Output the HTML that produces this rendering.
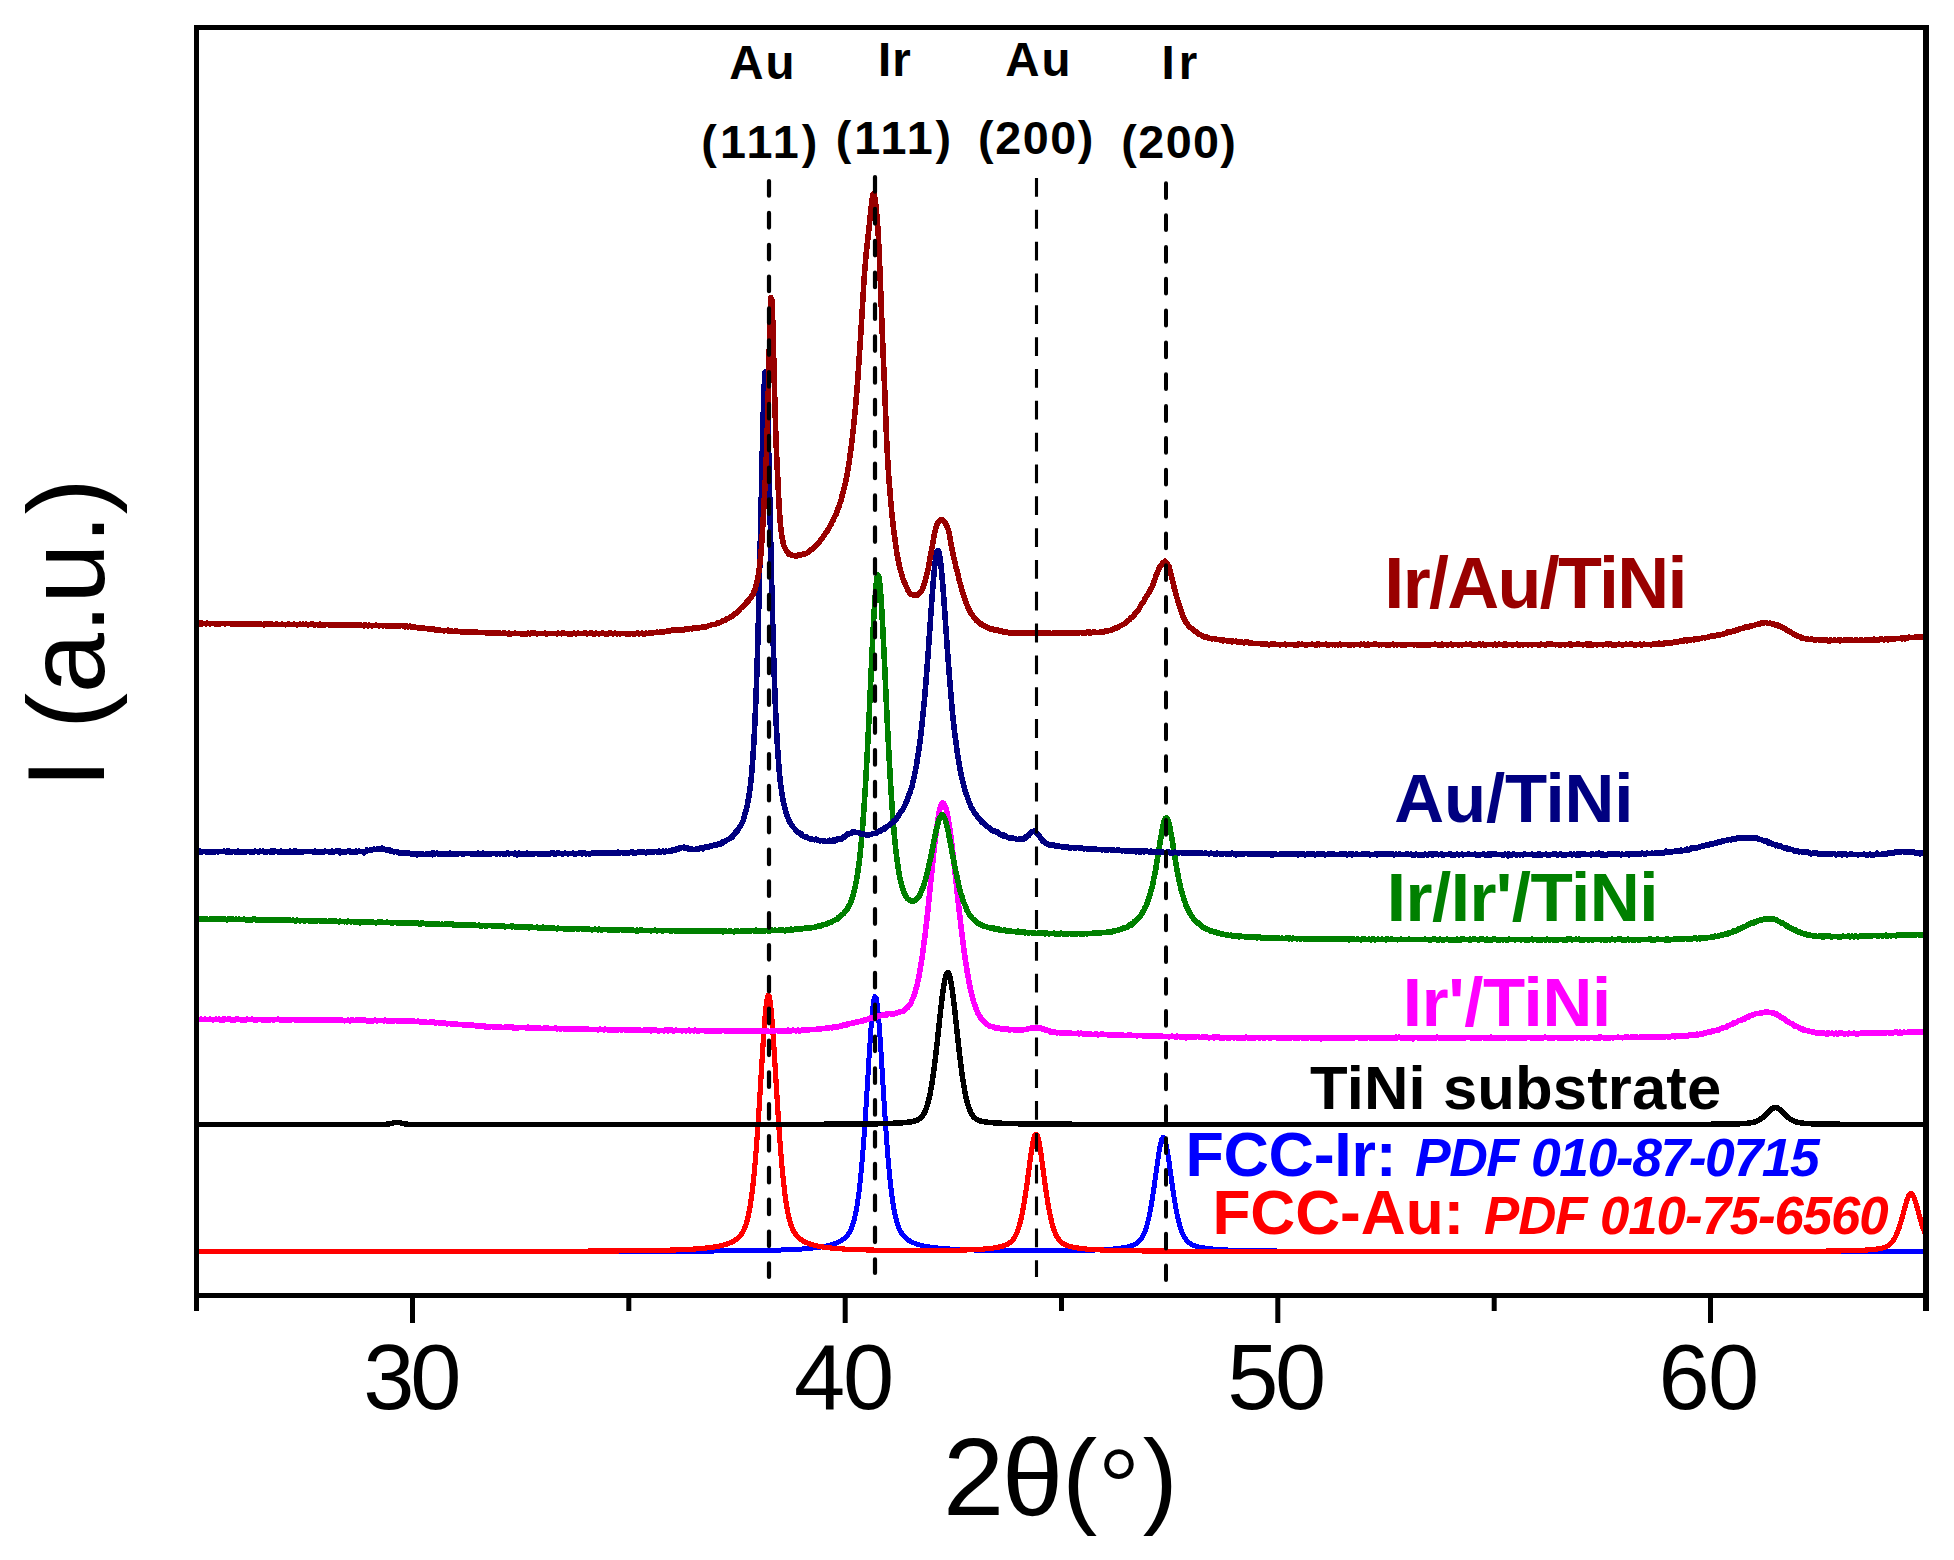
<!DOCTYPE html>
<html lang="en">
<head>
<meta charset="utf-8">
<title>XRD patterns</title>
<style>
html,body{margin:0;padding:0;background:#fff;}
body{width:1954px;height:1560px;overflow:hidden;}
svg{display:block;}
</style>
</head>
<body>
<svg width="1954" height="1560" viewBox="0 0 1954 1560" role="img" aria-label="XRD patterns">
<rect x="0" y="0" width="1954" height="1560" fill="#ffffff"/>
<g fill="none" stroke-linejoin="round" stroke-linecap="butt" shape-rendering="crispEdges">
<polyline stroke="#0000ff" stroke-width="5.0" points="612.0,1251.3 613.0,1251.3 614.0,1251.3 615.0,1251.3 616.0,1251.3 617.0,1251.3 618.0,1251.3 619.0,1251.3 620.0,1251.3 621.0,1251.3 622.0,1251.3 623.0,1251.3 624.0,1251.3 625.0,1251.3 626.0,1251.3 627.0,1251.3 628.0,1251.3 629.0,1251.3 630.0,1251.3 631.0,1251.3 632.0,1251.3 633.0,1251.2 634.0,1251.2 635.0,1251.2 636.0,1251.2 637.0,1251.2 638.0,1251.2 639.0,1251.2 640.0,1251.2 641.0,1251.2 642.0,1251.2 643.0,1251.2 644.0,1251.2 645.0,1251.2 646.0,1251.2 647.0,1251.2 648.0,1251.2 649.0,1251.2 650.0,1251.2 651.0,1251.2 652.0,1251.2 653.0,1251.2 654.0,1251.2 655.0,1251.2 656.0,1251.2 657.0,1251.2 658.0,1251.2 659.0,1251.2 660.0,1251.2 661.0,1251.2 662.0,1251.2 663.0,1251.2 664.0,1251.2 665.0,1251.2 666.0,1251.2 667.0,1251.2 668.0,1251.2 669.0,1251.2 670.0,1251.2 671.0,1251.2 672.0,1251.1 673.0,1251.1 674.0,1251.1 675.0,1251.1 676.0,1251.1 677.0,1251.1 678.0,1251.1 679.0,1251.1 680.0,1251.1 681.0,1251.1 682.0,1251.1 683.0,1251.1 684.0,1251.1 685.0,1251.1 686.0,1251.1 687.0,1251.1 688.0,1251.1 689.0,1251.1 690.0,1251.1 691.0,1251.1 692.0,1251.1 693.0,1251.1 694.0,1251.1 695.0,1251.1 696.0,1251.1 697.0,1251.0 698.0,1251.0 699.0,1251.0 700.0,1251.0 701.0,1251.0 702.0,1251.0 703.0,1251.0 704.0,1251.0 705.0,1251.0 706.0,1251.0 707.0,1251.0 708.0,1251.0 709.0,1251.0 710.0,1251.0 711.0,1251.0 712.0,1251.0 713.0,1251.0 714.0,1251.0 715.0,1250.9 716.0,1250.9 717.0,1250.9 718.0,1250.9 719.0,1250.9 720.0,1250.9 721.0,1250.9 722.0,1250.9 723.0,1250.9 724.0,1250.9 725.0,1250.9 726.0,1250.9 727.0,1250.9 728.0,1250.8 729.0,1250.8 730.0,1250.8 731.0,1250.8 732.0,1250.8 733.0,1250.8 734.0,1250.8 735.0,1250.8 736.0,1250.8 737.0,1250.8 738.0,1250.8 739.0,1250.7 740.0,1250.7 741.0,1250.7 742.0,1250.7 743.0,1250.7 744.0,1250.7 745.0,1250.7 746.0,1250.7 747.0,1250.6 748.0,1250.6 749.0,1250.6 750.0,1250.6 751.0,1250.6 752.0,1250.6 753.0,1250.6 754.0,1250.5 755.0,1250.5 756.0,1250.5 757.0,1250.5 758.0,1250.5 759.0,1250.5 760.0,1250.5 761.0,1250.4 762.0,1250.4 763.0,1250.4 764.0,1250.4 765.0,1250.4 766.0,1250.3 767.0,1250.3 768.0,1250.3 769.0,1250.3 770.0,1250.3 771.0,1250.2 772.0,1250.2 773.0,1250.2 774.0,1250.2 775.0,1250.1 776.0,1250.1 777.0,1250.1 778.0,1250.0 779.0,1250.0 780.0,1250.0 781.0,1250.0 782.0,1249.9 783.0,1249.9 784.0,1249.9 785.0,1249.8 786.0,1249.8 787.0,1249.7 788.0,1249.7 789.0,1249.7 790.0,1249.6 791.0,1249.6 792.0,1249.5 793.0,1249.5 794.0,1249.4 795.0,1249.4 796.0,1249.3 797.0,1249.3 798.0,1249.2 799.0,1249.2 800.0,1249.1 801.0,1249.0 802.0,1249.0 803.0,1248.9 804.0,1248.8 805.0,1248.8 806.0,1248.7 807.0,1248.6 808.0,1248.5 809.0,1248.4 810.0,1248.3 811.0,1248.3 812.0,1248.2 813.0,1248.0 814.0,1247.9 815.0,1247.8 816.0,1247.7 817.0,1247.6 818.0,1247.4 819.0,1247.3 820.0,1247.2 821.0,1247.0 822.0,1246.8 823.0,1246.7 824.0,1246.5 825.0,1246.3 826.0,1246.1 827.0,1245.9 828.0,1245.7 829.0,1245.4 830.0,1245.2 831.0,1244.9 832.0,1244.6 833.0,1244.3 834.0,1243.9 835.0,1243.6 836.0,1243.2 837.0,1242.8 838.0,1242.3 839.0,1241.9 840.0,1241.3 841.0,1240.8 842.0,1240.2 843.0,1239.5 844.0,1238.7 845.0,1237.8 846.0,1236.8 847.0,1235.7 848.0,1234.4 849.0,1232.9 850.0,1231.2 851.0,1229.1 852.0,1226.7 853.0,1223.8 854.0,1220.3 855.0,1216.3 856.0,1211.5 857.0,1205.9 858.0,1199.3 859.0,1191.8 860.0,1183.1 861.0,1173.3 862.0,1162.3 863.0,1150.2 864.0,1136.8 865.0,1122.5 866.0,1107.2 867.0,1091.2 868.0,1074.9 869.0,1058.7 870.0,1043.0 871.0,1028.5 872.0,1015.9 873.0,1006.0 874.0,999.3 875.0,996.5 876.0,997.7 877.0,1002.9 878.0,1011.6 879.0,1023.2 880.0,1037.0 881.0,1052.3 882.0,1068.4 883.0,1084.7 884.0,1100.8 885.0,1116.4 886.0,1131.2 887.0,1144.9 888.0,1157.6 889.0,1169.1 890.0,1179.3 891.0,1188.4 892.0,1196.4 893.0,1203.3 894.0,1209.3 895.0,1214.4 896.0,1218.8 897.0,1222.4 898.0,1225.5 899.0,1228.2 900.0,1230.4 901.0,1232.2 902.0,1233.8 903.0,1235.2 904.0,1236.4 905.0,1237.4 906.0,1238.3 907.0,1239.1 908.0,1239.9 909.0,1240.5 910.0,1241.1 911.0,1241.6 912.0,1242.1 913.0,1242.6 914.0,1243.0 915.0,1243.4 916.0,1243.8 917.0,1244.1 918.0,1244.4 919.0,1244.7 920.0,1245.0 921.0,1245.3 922.0,1245.5 923.0,1245.7 924.0,1246.0 925.0,1246.2 926.0,1246.4 927.0,1246.5 928.0,1246.7 929.0,1246.9 930.0,1247.0 931.0,1247.2 932.0,1247.3 933.0,1247.5 934.0,1247.6 935.0,1247.7 936.0,1247.8 937.0,1247.9 938.0,1248.0 939.0,1248.1 940.0,1248.2 941.0,1248.3 942.0,1248.4 943.0,1248.5 944.0,1248.6 945.0,1248.7 946.0,1248.7 947.0,1248.8 948.0,1248.9 949.0,1248.9 950.0,1249.0 951.0,1249.1 952.0,1249.1 953.0,1249.2 954.0,1249.2 955.0,1249.3 956.0,1249.3 957.0,1249.4 958.0,1249.4 959.0,1249.5 960.0,1249.5 961.0,1249.5 962.0,1249.6 963.0,1249.6 964.0,1249.7 965.0,1249.7 966.0,1249.7 967.0,1249.8 968.0,1249.8 969.0,1249.8 970.0,1249.9 971.0,1249.9 972.0,1249.9 973.0,1249.9 974.0,1250.0 975.0,1250.0 976.0,1250.0 977.0,1250.0 978.0,1250.1 979.0,1250.1 980.0,1250.1 981.0,1250.1 982.0,1250.1 983.0,1250.2 984.0,1250.2 985.0,1250.2 986.0,1250.2 987.0,1250.2 988.0,1250.2 989.0,1250.3 990.0,1250.3 991.0,1250.3 992.0,1250.3 993.0,1250.3 994.0,1250.3 995.0,1250.4 996.0,1250.4 997.0,1250.4 998.0,1250.4 999.0,1250.4 1000.0,1250.4 1001.0,1250.4 1002.0,1250.4 1003.0,1250.4 1004.0,1250.5 1005.0,1250.5 1006.0,1250.5 1007.0,1250.5 1008.0,1250.5 1009.0,1250.5 1010.0,1250.5 1011.0,1250.5 1012.0,1250.5 1013.0,1250.5 1014.0,1250.5 1015.0,1250.5 1016.0,1250.5 1017.0,1250.5 1018.0,1250.6 1019.0,1250.6 1020.0,1250.6 1021.0,1250.6 1022.0,1250.6 1023.0,1250.6 1024.0,1250.6 1025.0,1250.6 1026.0,1250.6 1027.0,1250.6 1028.0,1250.6 1029.0,1250.6 1030.0,1250.6 1031.0,1250.6 1032.0,1250.6 1033.0,1250.6 1034.0,1250.6 1035.0,1250.6 1036.0,1250.6 1037.0,1250.6 1038.0,1250.6 1039.0,1250.6 1040.0,1250.6 1041.0,1250.6 1042.0,1250.6 1043.0,1250.6 1044.0,1250.6 1045.0,1250.6 1046.0,1250.6 1047.0,1250.6 1048.0,1250.6 1049.0,1250.6 1050.0,1250.6 1051.0,1250.6 1052.0,1250.6 1053.0,1250.6 1054.0,1250.6 1055.0,1250.6 1056.0,1250.6 1057.0,1250.6 1058.0,1250.6 1059.0,1250.6 1060.0,1250.5 1061.0,1250.5 1062.0,1250.5 1063.0,1250.5 1064.0,1250.5 1065.0,1250.5 1066.0,1250.5 1067.0,1250.5 1068.0,1250.5 1069.0,1250.5 1070.0,1250.5 1071.0,1250.4 1072.0,1250.4 1073.0,1250.4 1074.0,1250.4 1075.0,1250.4 1076.0,1250.4 1077.0,1250.4 1078.0,1250.4 1079.0,1250.3 1080.0,1250.3 1081.0,1250.3 1082.0,1250.3 1083.0,1250.3 1084.0,1250.2 1085.0,1250.2 1086.0,1250.2 1087.0,1250.2 1088.0,1250.2 1089.0,1250.1 1090.0,1250.1 1091.0,1250.1 1092.0,1250.0 1093.0,1250.0 1094.0,1250.0 1095.0,1250.0 1096.0,1249.9 1097.0,1249.9 1098.0,1249.8 1099.0,1249.8 1100.0,1249.8 1101.0,1249.7 1102.0,1249.7 1103.0,1249.6 1104.0,1249.6 1105.0,1249.5 1106.0,1249.5 1107.0,1249.4 1108.0,1249.3 1109.0,1249.3 1110.0,1249.2 1111.0,1249.1 1112.0,1249.1 1113.0,1249.0 1114.0,1248.9 1115.0,1248.8 1116.0,1248.7 1117.0,1248.6 1118.0,1248.5 1119.0,1248.3 1120.0,1248.2 1121.0,1248.1 1122.0,1247.9 1123.0,1247.8 1124.0,1247.6 1125.0,1247.4 1126.0,1247.2 1127.0,1247.0 1128.0,1246.8 1129.0,1246.5 1130.0,1246.3 1131.0,1246.0 1132.0,1245.6 1133.0,1245.3 1134.0,1244.8 1135.0,1244.3 1136.0,1243.8 1137.0,1243.1 1138.0,1242.3 1139.0,1241.4 1140.0,1240.3 1141.0,1239.1 1142.0,1237.6 1143.0,1235.8 1144.0,1233.7 1145.0,1231.2 1146.0,1228.3 1147.0,1225.0 1148.0,1221.2 1149.0,1216.9 1150.0,1212.0 1151.0,1206.6 1152.0,1200.7 1153.0,1194.3 1154.0,1187.5 1155.0,1180.4 1156.0,1173.1 1157.0,1165.9 1158.0,1158.8 1159.0,1152.3 1160.0,1146.6 1161.0,1142.0 1162.0,1138.9 1163.0,1137.4 1164.0,1137.8 1165.0,1139.9 1166.0,1143.7 1167.0,1148.7 1168.0,1154.8 1169.0,1161.6 1170.0,1168.8 1171.0,1176.1 1172.0,1183.3 1173.0,1190.3 1174.0,1197.0 1175.0,1203.2 1176.0,1208.9 1177.0,1214.0 1178.0,1218.7 1179.0,1222.8 1180.0,1226.4 1181.0,1229.6 1182.0,1232.3 1183.0,1234.6 1184.0,1236.6 1185.0,1238.2 1186.0,1239.7 1187.0,1240.9 1188.0,1241.9 1189.0,1242.7 1190.0,1243.4 1191.0,1244.1 1192.0,1244.6 1193.0,1245.1 1194.0,1245.5 1195.0,1245.8 1196.0,1246.2 1197.0,1246.5 1198.0,1246.7 1199.0,1247.0 1200.0,1247.2 1201.0,1247.4 1202.0,1247.6 1203.0,1247.8 1204.0,1247.9 1205.0,1248.1 1206.0,1248.2 1207.0,1248.4 1208.0,1248.5 1209.0,1248.6 1210.0,1248.7 1211.0,1248.8 1212.0,1248.9 1213.0,1249.0 1214.0,1249.1 1215.0,1249.2 1216.0,1249.3 1217.0,1249.4 1218.0,1249.4 1219.0,1249.5 1220.0,1249.6 1221.0,1249.6 1222.0,1249.7 1223.0,1249.7 1224.0,1249.8 1225.0,1249.8 1226.0,1249.9 1227.0,1249.9 1228.0,1250.0 1229.0,1250.0 1230.0,1250.1 1231.0,1250.1 1232.0,1250.1 1233.0,1250.2 1234.0,1250.2 1235.0,1250.2 1236.0,1250.3 1237.0,1250.3 1238.0,1250.3 1239.0,1250.4 1240.0,1250.4 1241.0,1250.4 1242.0,1250.4 1243.0,1250.5 1244.0,1250.5 1245.0,1250.5 1246.0,1250.5 1247.0,1250.6 1248.0,1250.6 1249.0,1250.6 1250.0,1250.6 1251.0,1250.6 1252.0,1250.6 1253.0,1250.7 1254.0,1250.7 1255.0,1250.7 1256.0,1250.7 1257.0,1250.7 1258.0,1250.7 1259.0,1250.8 1260.0,1250.8 1261.0,1250.8 1262.0,1250.8 1263.0,1250.8 1264.0,1250.8 1265.0,1250.8 1266.0,1250.8 1267.0,1250.9 1268.0,1250.9 1269.0,1250.9 1270.0,1250.9 1271.0,1250.9 1272.0,1250.9 1273.0,1250.9 1274.0,1250.9 1275.0,1250.9 1276.0,1250.9 1277.0,1251.0 1278.0,1251.0 1279.0,1251.0 1280.0,1251.0 1281.0,1251.0 1282.0,1251.0 1283.0,1251.0 1284.0,1251.0 1285.0,1251.0 1286.0,1251.0 1287.0,1251.0 1288.0,1251.0 1289.0,1251.0 1290.0,1251.0 1291.0,1251.1 1292.0,1251.1 1293.0,1251.1 1294.0,1251.1 1295.0,1251.1 1296.0,1251.1 1297.0,1251.1 1298.0,1251.1 1299.0,1251.1 1300.0,1251.1 1301.0,1251.1 1302.0,1251.1 1303.0,1251.1 1304.0,1251.1 1305.0,1251.1 1306.0,1251.1 1307.0,1251.1 1308.0,1251.1 1309.0,1251.1 1310.0,1251.1 1311.0,1251.2 1312.0,1251.2 1313.0,1251.2 1314.0,1251.2 1315.0,1251.2 1316.0,1251.2 1317.0,1251.2 1318.0,1251.2 1319.0,1251.2 1320.0,1251.2 1321.0,1251.2 1322.0,1251.2 1323.0,1251.2 1324.0,1251.2 1325.0,1251.2 1326.0,1251.2 1327.0,1251.2 1328.0,1251.2 1329.0,1251.2 1330.0,1251.2 1331.0,1251.2 1332.0,1251.2 1333.0,1251.2 1334.0,1251.2 1335.0,1251.2 1336.0,1251.2 1337.0,1251.2 1338.0,1251.2 1339.0,1251.2 1340.0,1251.2 1341.0,1251.2 1342.0,1251.2 1343.0,1251.3 1344.0,1251.3 1345.0,1251.3 1346.0,1251.3 1347.0,1251.3 1348.0,1251.3 1349.0,1251.3 1350.0,1251.3 1351.0,1251.3 1352.0,1251.3 1353.0,1251.3 1354.0,1251.3 1355.0,1251.3 1356.0,1251.3 1357.0,1251.3 1358.0,1251.3 1359.0,1251.3 1360.0,1251.3 1361.0,1251.3 1362.0,1251.3 1363.0,1251.3 1364.0,1251.3 1365.0,1251.3 1366.0,1251.3 1367.0,1251.3 1368.0,1251.3 1369.0,1251.3 1370.0,1251.3 1371.0,1251.3 1372.0,1251.3 1373.0,1251.3 1374.0,1251.3 1375.0,1251.3 1376.0,1251.3 1377.0,1251.3 1378.0,1251.3 1379.0,1251.3 1380.0,1251.3 1381.0,1251.3 1382.0,1251.3 1383.0,1251.3 1384.0,1251.3 1385.0,1251.3 1386.0,1251.3 1387.0,1251.3 1388.0,1251.3 1389.0,1251.3 1390.0,1251.3 1391.0,1251.3 1392.0,1251.3 1393.0,1251.3 1394.0,1251.3 1395.0,1251.3 1396.0,1251.3 1397.0,1251.3 1398.0,1251.3 1399.0,1251.3 1400.0,1251.3 1401.0,1251.3 1402.0,1251.3 1403.0,1251.3 1404.0,1251.3 1405.0,1251.3 1406.0,1251.3 1407.0,1251.4 1408.0,1251.4 1409.0,1251.4 1410.0,1251.4 1411.0,1251.4 1412.0,1251.4 1413.0,1251.4 1414.0,1251.4 1415.0,1251.4 1416.0,1251.4 1417.0,1251.4 1418.0,1251.4 1419.0,1251.4 1420.0,1251.4 1421.0,1251.4 1422.0,1251.4 1423.0,1251.4 1424.0,1251.4 1425.0,1251.4 1426.0,1251.4 1427.0,1251.4 1428.0,1251.4 1429.0,1251.4 1430.0,1251.4 1431.0,1251.4 1432.0,1251.4 1433.0,1251.4 1434.0,1251.4 1435.0,1251.4 1436.0,1251.4 1437.0,1251.4 1438.0,1251.4 1439.0,1251.4 1440.0,1251.4 1441.0,1251.4 1442.0,1251.4 1443.0,1251.4 1444.0,1251.4 1445.0,1251.4 1446.0,1251.4 1447.0,1251.4 1448.0,1251.4 1449.0,1251.4 1450.0,1251.4 1451.0,1251.4 1452.0,1251.4 1453.0,1251.4 1454.0,1251.4 1455.0,1251.4 1456.0,1251.4 1457.0,1251.4 1458.0,1251.4 1459.0,1251.4 1460.0,1251.4 1461.0,1251.4 1462.0,1251.4 1463.0,1251.4 1464.0,1251.4 1465.0,1251.4 1466.0,1251.4 1467.0,1251.4 1468.0,1251.4 1469.0,1251.4 1470.0,1251.4 1471.0,1251.4 1472.0,1251.4 1473.0,1251.4 1474.0,1251.4 1475.0,1251.4 1476.0,1251.4 1477.0,1251.4 1478.0,1251.4 1479.0,1251.4 1480.0,1251.4 1481.0,1251.4 1482.0,1251.4 1483.0,1251.4 1484.0,1251.4 1485.0,1251.4 1486.0,1251.4 1487.0,1251.4 1488.0,1251.4 1489.0,1251.4 1490.0,1251.4 1491.0,1251.4 1492.0,1251.4 1493.0,1251.4 1494.0,1251.4 1495.0,1251.4 1496.0,1251.4 1497.0,1251.4 1498.0,1251.4 1499.0,1251.4 1500.0,1251.4 1501.0,1251.4 1502.0,1251.4 1503.0,1251.4 1504.0,1251.4 1505.0,1251.4 1506.0,1251.4 1507.0,1251.4 1508.0,1251.4 1509.0,1251.4 1510.0,1251.4 1511.0,1251.4 1512.0,1251.4 1513.0,1251.4 1514.0,1251.4 1515.0,1251.4 1516.0,1251.4 1517.0,1251.4 1518.0,1251.4 1519.0,1251.4 1520.0,1251.4 1521.0,1251.4 1522.0,1251.4 1523.0,1251.4 1524.0,1251.4 1525.0,1251.4 1526.0,1251.4 1527.0,1251.4 1528.0,1251.4 1529.0,1251.4 1530.0,1251.4 1531.0,1251.4 1532.0,1251.4 1533.0,1251.4 1534.0,1251.4 1535.0,1251.4 1536.0,1251.4 1537.0,1251.4 1538.0,1251.4 1539.0,1251.4 1540.0,1251.4 1541.0,1251.4 1542.0,1251.4 1543.0,1251.4 1544.0,1251.4 1545.0,1251.4 1546.0,1251.4 1547.0,1251.4 1548.0,1251.4 1549.0,1251.4 1550.0,1251.4 1551.0,1251.4 1552.0,1251.4 1553.0,1251.4 1554.0,1251.4 1555.0,1251.4 1556.0,1251.4 1557.0,1251.4 1558.0,1251.4 1559.0,1251.4 1560.0,1251.4 1561.0,1251.4 1562.0,1251.4 1563.0,1251.4 1564.0,1251.4 1565.0,1251.4 1566.0,1251.4 1567.0,1251.4 1568.0,1251.4 1569.0,1251.4 1570.0,1251.4 1571.0,1251.4 1572.0,1251.4 1573.0,1251.4 1574.0,1251.4 1575.0,1251.4 1576.0,1251.4 1577.0,1251.4 1578.0,1251.4 1579.0,1251.4 1580.0,1251.4 1581.0,1251.4 1582.0,1251.4 1583.0,1251.4 1584.0,1251.4 1585.0,1251.4 1586.0,1251.4 1587.0,1251.4 1588.0,1251.4 1589.0,1251.4 1590.0,1251.4 1591.0,1251.4 1592.0,1251.4 1593.0,1251.4 1594.0,1251.4 1595.0,1251.4 1596.0,1251.4 1597.0,1251.4 1598.0,1251.4 1599.0,1251.4 1600.0,1251.4 1601.0,1251.4 1602.0,1251.4 1603.0,1251.4 1604.0,1251.4 1605.0,1251.4 1606.0,1251.4 1607.0,1251.4 1608.0,1251.4 1609.0,1251.4 1610.0,1251.4 1611.0,1251.4 1612.0,1251.4 1613.0,1251.4 1614.0,1251.4 1615.0,1251.4 1616.0,1251.4 1617.0,1251.4 1618.0,1251.4 1619.0,1251.4 1620.0,1251.4 1621.0,1251.4 1622.0,1251.4 1623.0,1251.4 1624.0,1251.4 1625.0,1251.4 1626.0,1251.4 1627.0,1251.4 1628.0,1251.4 1629.0,1251.4 1630.0,1251.4 1631.0,1251.4 1632.0,1251.4 1633.0,1251.4 1634.0,1251.4 1635.0,1251.4 1636.0,1251.4 1637.0,1251.4 1638.0,1251.4 1639.0,1251.5 1640.0,1251.5 1641.0,1251.5 1642.0,1251.5 1643.0,1251.5 1644.0,1251.5 1645.0,1251.5 1646.0,1251.5 1647.0,1251.5 1648.0,1251.5 1649.0,1251.5 1650.0,1251.5 1651.0,1251.5 1652.0,1251.5 1653.0,1251.5 1654.0,1251.5 1655.0,1251.5 1656.0,1251.5 1657.0,1251.5 1658.0,1251.5 1659.0,1251.5 1660.0,1251.5 1661.0,1251.5 1662.0,1251.5 1663.0,1251.5 1664.0,1251.5 1665.0,1251.5 1666.0,1251.5 1667.0,1251.5 1668.0,1251.5 1669.0,1251.5 1670.0,1251.5 1671.0,1251.5 1672.0,1251.5 1673.0,1251.5 1674.0,1251.5 1675.0,1251.5 1676.0,1251.5 1677.0,1251.5 1678.0,1251.5 1679.0,1251.5 1680.0,1251.5 1681.0,1251.5 1682.0,1251.5 1683.0,1251.5 1684.0,1251.5 1685.0,1251.5 1686.0,1251.5 1687.0,1251.5 1688.0,1251.5 1689.0,1251.5 1690.0,1251.5 1691.0,1251.5 1692.0,1251.5 1693.0,1251.5 1694.0,1251.5 1695.0,1251.5 1696.0,1251.5 1697.0,1251.5 1698.0,1251.5 1699.0,1251.5 1700.0,1251.5 1701.0,1251.5 1702.0,1251.5 1703.0,1251.5 1704.0,1251.5 1705.0,1251.5 1706.0,1251.5 1707.0,1251.5 1708.0,1251.5 1709.0,1251.5 1710.0,1251.5 1711.0,1251.5 1712.0,1251.5 1713.0,1251.5 1714.0,1251.5 1715.0,1251.5 1716.0,1251.5 1717.0,1251.5 1718.0,1251.5 1719.0,1251.5 1720.0,1251.5 1721.0,1251.5 1722.0,1251.5 1723.0,1251.5 1724.0,1251.5 1725.0,1251.5 1726.0,1251.5 1727.0,1251.5 1728.0,1251.5 1729.0,1251.5 1730.0,1251.5 1731.0,1251.5 1732.0,1251.5 1733.0,1251.5 1734.0,1251.5 1735.0,1251.5 1736.0,1251.5 1737.0,1251.5 1738.0,1251.5 1739.0,1251.5 1740.0,1251.5 1741.0,1251.5 1742.0,1251.5 1743.0,1251.5 1744.0,1251.5 1745.0,1251.5 1746.0,1251.5 1747.0,1251.5 1748.0,1251.5 1749.0,1251.5 1750.0,1251.5 1751.0,1251.5 1752.0,1251.5 1753.0,1251.5 1754.0,1251.5 1755.0,1251.5 1756.0,1251.5 1757.0,1251.5 1758.0,1251.5 1759.0,1251.5 1760.0,1251.5 1761.0,1251.5 1762.0,1251.5 1763.0,1251.5 1764.0,1251.5 1765.0,1251.5 1766.0,1251.5 1767.0,1251.5 1768.0,1251.5 1769.0,1251.5 1770.0,1251.5 1771.0,1251.5 1772.0,1251.5 1773.0,1251.5 1774.0,1251.5 1775.0,1251.5 1776.0,1251.5 1777.0,1251.5 1778.0,1251.5 1779.0,1251.5 1780.0,1251.5 1781.0,1251.5 1782.0,1251.5 1783.0,1251.5 1784.0,1251.5 1785.0,1251.5 1786.0,1251.5 1787.0,1251.5 1788.0,1251.5 1789.0,1251.5 1790.0,1251.5 1791.0,1251.5 1792.0,1251.5 1793.0,1251.5 1794.0,1251.5 1795.0,1251.5 1796.0,1251.5 1797.0,1251.5 1798.0,1251.5 1799.0,1251.5 1800.0,1251.5 1801.0,1251.5 1802.0,1251.5 1803.0,1251.5 1804.0,1251.5 1805.0,1251.5 1806.0,1251.5 1807.0,1251.5 1808.0,1251.5 1809.0,1251.5 1810.0,1251.5 1811.0,1251.5 1812.0,1251.5 1813.0,1251.5 1814.0,1251.5 1815.0,1251.5 1816.0,1251.5 1817.0,1251.5 1818.0,1251.5 1819.0,1251.5 1820.0,1251.5 1821.0,1251.5 1822.0,1251.5 1823.0,1251.5 1824.0,1251.5 1825.0,1251.5 1826.0,1251.5 1827.0,1251.5 1828.0,1251.5 1829.0,1251.5 1830.0,1251.5 1831.0,1251.5 1832.0,1251.5 1833.0,1251.5 1834.0,1251.5 1835.0,1251.5 1836.0,1251.5 1837.0,1251.5 1838.0,1251.5 1839.0,1251.5 1840.0,1251.5 1841.0,1251.5 1842.0,1251.5 1843.0,1251.5 1844.0,1251.5 1845.0,1251.5 1846.0,1251.5 1847.0,1251.5 1848.0,1251.5 1849.0,1251.5 1850.0,1251.5 1851.0,1251.5 1852.0,1251.5 1853.0,1251.5 1854.0,1251.5 1855.0,1251.5 1856.0,1251.5 1857.0,1251.5 1858.0,1251.5 1859.0,1251.5 1860.0,1251.5 1861.0,1251.5 1862.0,1251.5 1863.0,1251.5 1864.0,1251.5 1865.0,1251.5 1866.0,1251.5 1867.0,1251.5 1868.0,1251.5 1869.0,1251.5 1870.0,1251.5 1871.0,1251.5 1872.0,1251.5 1873.0,1251.5 1874.0,1251.5 1875.0,1251.5 1876.0,1251.5 1877.0,1251.5 1878.0,1251.5 1879.0,1251.5 1880.0,1251.5 1881.0,1251.5 1882.0,1251.5 1883.0,1251.5 1884.0,1251.5 1885.0,1251.5 1886.0,1251.5 1887.0,1251.5 1888.0,1251.5 1889.0,1251.5 1890.0,1251.5 1891.0,1251.5 1892.0,1251.5 1893.0,1251.5 1894.0,1251.5 1895.0,1251.5 1896.0,1251.5 1897.0,1251.5 1898.0,1251.5 1899.0,1251.5 1900.0,1251.5 1901.0,1251.5 1902.0,1251.5 1903.0,1251.5 1904.0,1251.5 1905.0,1251.5 1906.0,1251.5 1907.0,1251.5 1908.0,1251.5 1909.0,1251.5 1910.0,1251.5 1911.0,1251.5 1912.0,1251.5 1913.0,1251.5 1914.0,1251.5 1915.0,1251.5 1916.0,1251.5 1917.0,1251.5 1918.0,1251.5 1919.0,1251.5 1920.0,1251.5 1921.0,1251.5 1922.0,1251.5 1923.0,1251.5 1924.0,1251.5 1925.0,1251.5"/>
<polyline stroke="#ff0000" stroke-width="5.2" points="196.0,1251.4 197.0,1251.4 198.0,1251.4 199.0,1251.4 200.0,1251.4 201.0,1251.4 202.0,1251.4 203.0,1251.4 204.0,1251.4 205.0,1251.4 206.0,1251.4 207.0,1251.4 208.0,1251.4 209.0,1251.4 210.0,1251.4 211.0,1251.4 212.0,1251.4 213.0,1251.4 214.0,1251.4 215.0,1251.4 216.0,1251.4 217.0,1251.4 218.0,1251.4 219.0,1251.4 220.0,1251.4 221.0,1251.4 222.0,1251.4 223.0,1251.4 224.0,1251.4 225.0,1251.4 226.0,1251.4 227.0,1251.4 228.0,1251.4 229.0,1251.4 230.0,1251.4 231.0,1251.4 232.0,1251.4 233.0,1251.4 234.0,1251.4 235.0,1251.4 236.0,1251.4 237.0,1251.4 238.0,1251.4 239.0,1251.4 240.0,1251.4 241.0,1251.4 242.0,1251.4 243.0,1251.4 244.0,1251.4 245.0,1251.4 246.0,1251.4 247.0,1251.4 248.0,1251.4 249.0,1251.4 250.0,1251.4 251.0,1251.4 252.0,1251.4 253.0,1251.4 254.0,1251.4 255.0,1251.4 256.0,1251.4 257.0,1251.4 258.0,1251.4 259.0,1251.4 260.0,1251.4 261.0,1251.4 262.0,1251.4 263.0,1251.4 264.0,1251.4 265.0,1251.4 266.0,1251.4 267.0,1251.4 268.0,1251.4 269.0,1251.4 270.0,1251.4 271.0,1251.4 272.0,1251.4 273.0,1251.4 274.0,1251.4 275.0,1251.4 276.0,1251.4 277.0,1251.4 278.0,1251.4 279.0,1251.4 280.0,1251.4 281.0,1251.4 282.0,1251.4 283.0,1251.4 284.0,1251.4 285.0,1251.4 286.0,1251.4 287.0,1251.4 288.0,1251.4 289.0,1251.4 290.0,1251.4 291.0,1251.4 292.0,1251.4 293.0,1251.4 294.0,1251.4 295.0,1251.4 296.0,1251.4 297.0,1251.4 298.0,1251.4 299.0,1251.4 300.0,1251.4 301.0,1251.4 302.0,1251.4 303.0,1251.4 304.0,1251.4 305.0,1251.4 306.0,1251.4 307.0,1251.4 308.0,1251.4 309.0,1251.4 310.0,1251.4 311.0,1251.4 312.0,1251.4 313.0,1251.4 314.0,1251.4 315.0,1251.4 316.0,1251.4 317.0,1251.4 318.0,1251.4 319.0,1251.4 320.0,1251.4 321.0,1251.4 322.0,1251.4 323.0,1251.4 324.0,1251.4 325.0,1251.4 326.0,1251.4 327.0,1251.4 328.0,1251.4 329.0,1251.4 330.0,1251.4 331.0,1251.4 332.0,1251.4 333.0,1251.4 334.0,1251.4 335.0,1251.4 336.0,1251.4 337.0,1251.4 338.0,1251.4 339.0,1251.4 340.0,1251.4 341.0,1251.4 342.0,1251.4 343.0,1251.4 344.0,1251.4 345.0,1251.4 346.0,1251.4 347.0,1251.4 348.0,1251.4 349.0,1251.4 350.0,1251.4 351.0,1251.4 352.0,1251.4 353.0,1251.4 354.0,1251.4 355.0,1251.4 356.0,1251.4 357.0,1251.4 358.0,1251.4 359.0,1251.4 360.0,1251.4 361.0,1251.4 362.0,1251.4 363.0,1251.4 364.0,1251.4 365.0,1251.4 366.0,1251.4 367.0,1251.4 368.0,1251.4 369.0,1251.4 370.0,1251.4 371.0,1251.4 372.0,1251.4 373.0,1251.4 374.0,1251.4 375.0,1251.4 376.0,1251.4 377.0,1251.4 378.0,1251.4 379.0,1251.4 380.0,1251.4 381.0,1251.4 382.0,1251.4 383.0,1251.4 384.0,1251.4 385.0,1251.4 386.0,1251.4 387.0,1251.4 388.0,1251.4 389.0,1251.4 390.0,1251.4 391.0,1251.4 392.0,1251.4 393.0,1251.4 394.0,1251.4 395.0,1251.4 396.0,1251.4 397.0,1251.4 398.0,1251.4 399.0,1251.4 400.0,1251.4 401.0,1251.4 402.0,1251.4 403.0,1251.4 404.0,1251.4 405.0,1251.4 406.0,1251.4 407.0,1251.4 408.0,1251.4 409.0,1251.4 410.0,1251.4 411.0,1251.4 412.0,1251.4 413.0,1251.4 414.0,1251.4 415.0,1251.4 416.0,1251.4 417.0,1251.4 418.0,1251.4 419.0,1251.4 420.0,1251.4 421.0,1251.4 422.0,1251.4 423.0,1251.4 424.0,1251.4 425.0,1251.4 426.0,1251.4 427.0,1251.4 428.0,1251.4 429.0,1251.4 430.0,1251.4 431.0,1251.4 432.0,1251.4 433.0,1251.4 434.0,1251.4 435.0,1251.4 436.0,1251.4 437.0,1251.4 438.0,1251.4 439.0,1251.4 440.0,1251.4 441.0,1251.4 442.0,1251.4 443.0,1251.4 444.0,1251.4 445.0,1251.4 446.0,1251.4 447.0,1251.3 448.0,1251.3 449.0,1251.3 450.0,1251.3 451.0,1251.3 452.0,1251.3 453.0,1251.3 454.0,1251.3 455.0,1251.3 456.0,1251.3 457.0,1251.3 458.0,1251.3 459.0,1251.3 460.0,1251.3 461.0,1251.3 462.0,1251.3 463.0,1251.3 464.0,1251.3 465.0,1251.3 466.0,1251.3 467.0,1251.3 468.0,1251.3 469.0,1251.3 470.0,1251.3 471.0,1251.3 472.0,1251.3 473.0,1251.3 474.0,1251.3 475.0,1251.3 476.0,1251.3 477.0,1251.3 478.0,1251.3 479.0,1251.3 480.0,1251.3 481.0,1251.3 482.0,1251.3 483.0,1251.3 484.0,1251.3 485.0,1251.3 486.0,1251.3 487.0,1251.3 488.0,1251.3 489.0,1251.3 490.0,1251.3 491.0,1251.3 492.0,1251.3 493.0,1251.3 494.0,1251.3 495.0,1251.3 496.0,1251.3 497.0,1251.3 498.0,1251.3 499.0,1251.3 500.0,1251.3 501.0,1251.3 502.0,1251.3 503.0,1251.3 504.0,1251.3 505.0,1251.3 506.0,1251.3 507.0,1251.3 508.0,1251.3 509.0,1251.3 510.0,1251.3 511.0,1251.3 512.0,1251.3 513.0,1251.3 514.0,1251.3 515.0,1251.3 516.0,1251.3 517.0,1251.3 518.0,1251.3 519.0,1251.3 520.0,1251.3 521.0,1251.3 522.0,1251.3 523.0,1251.2 524.0,1251.2 525.0,1251.2 526.0,1251.2 527.0,1251.2 528.0,1251.2 529.0,1251.2 530.0,1251.2 531.0,1251.2 532.0,1251.2 533.0,1251.2 534.0,1251.2 535.0,1251.2 536.0,1251.2 537.0,1251.2 538.0,1251.2 539.0,1251.2 540.0,1251.2 541.0,1251.2 542.0,1251.2 543.0,1251.2 544.0,1251.2 545.0,1251.2 546.0,1251.2 547.0,1251.2 548.0,1251.2 549.0,1251.2 550.0,1251.2 551.0,1251.2 552.0,1251.2 553.0,1251.2 554.0,1251.2 555.0,1251.2 556.0,1251.2 557.0,1251.2 558.0,1251.2 559.0,1251.2 560.0,1251.2 561.0,1251.2 562.0,1251.2 563.0,1251.1 564.0,1251.1 565.0,1251.1 566.0,1251.1 567.0,1251.1 568.0,1251.1 569.0,1251.1 570.0,1251.1 571.0,1251.1 572.0,1251.1 573.0,1251.1 574.0,1251.1 575.0,1251.1 576.0,1251.1 577.0,1251.1 578.0,1251.1 579.0,1251.1 580.0,1251.1 581.0,1251.1 582.0,1251.1 583.0,1251.1 584.0,1251.1 585.0,1251.1 586.0,1251.1 587.0,1251.1 588.0,1251.1 589.0,1251.0 590.0,1251.0 591.0,1251.0 592.0,1251.0 593.0,1251.0 594.0,1251.0 595.0,1251.0 596.0,1251.0 597.0,1251.0 598.0,1251.0 599.0,1251.0 600.0,1251.0 601.0,1251.0 602.0,1251.0 603.0,1251.0 604.0,1251.0 605.0,1251.0 606.0,1251.0 607.0,1250.9 608.0,1250.9 609.0,1250.9 610.0,1250.9 611.0,1250.9 612.0,1250.9 613.0,1250.9 614.0,1250.9 615.0,1250.9 616.0,1250.9 617.0,1250.9 618.0,1250.9 619.0,1250.9 620.0,1250.8 621.0,1250.8 622.0,1250.8 623.0,1250.8 624.0,1250.8 625.0,1250.8 626.0,1250.8 627.0,1250.8 628.0,1250.8 629.0,1250.8 630.0,1250.8 631.0,1250.7 632.0,1250.7 633.0,1250.7 634.0,1250.7 635.0,1250.7 636.0,1250.7 637.0,1250.7 638.0,1250.7 639.0,1250.7 640.0,1250.6 641.0,1250.6 642.0,1250.6 643.0,1250.6 644.0,1250.6 645.0,1250.6 646.0,1250.6 647.0,1250.5 648.0,1250.5 649.0,1250.5 650.0,1250.5 651.0,1250.5 652.0,1250.5 653.0,1250.4 654.0,1250.4 655.0,1250.4 656.0,1250.4 657.0,1250.4 658.0,1250.4 659.0,1250.3 660.0,1250.3 661.0,1250.3 662.0,1250.3 663.0,1250.2 664.0,1250.2 665.0,1250.2 666.0,1250.2 667.0,1250.1 668.0,1250.1 669.0,1250.1 670.0,1250.1 671.0,1250.0 672.0,1250.0 673.0,1250.0 674.0,1249.9 675.0,1249.9 676.0,1249.9 677.0,1249.8 678.0,1249.8 679.0,1249.8 680.0,1249.7 681.0,1249.7 682.0,1249.7 683.0,1249.6 684.0,1249.6 685.0,1249.5 686.0,1249.5 687.0,1249.4 688.0,1249.4 689.0,1249.3 690.0,1249.3 691.0,1249.2 692.0,1249.2 693.0,1249.1 694.0,1249.0 695.0,1249.0 696.0,1248.9 697.0,1248.8 698.0,1248.8 699.0,1248.7 700.0,1248.6 701.0,1248.5 702.0,1248.4 703.0,1248.3 704.0,1248.2 705.0,1248.1 706.0,1248.0 707.0,1247.9 708.0,1247.8 709.0,1247.7 710.0,1247.6 711.0,1247.4 712.0,1247.3 713.0,1247.2 714.0,1247.0 715.0,1246.8 716.0,1246.7 717.0,1246.5 718.0,1246.3 719.0,1246.1 720.0,1245.9 721.0,1245.7 722.0,1245.4 723.0,1245.2 724.0,1244.9 725.0,1244.6 726.0,1244.3 727.0,1244.0 728.0,1243.6 729.0,1243.2 730.0,1242.8 731.0,1242.4 732.0,1241.9 733.0,1241.4 734.0,1240.8 735.0,1240.2 736.0,1239.5 737.0,1238.8 738.0,1237.9 739.0,1237.0 740.0,1235.9 741.0,1234.6 742.0,1233.2 743.0,1231.5 744.0,1229.4 745.0,1227.1 746.0,1224.3 747.0,1220.9 748.0,1217.0 749.0,1212.3 750.0,1206.9 751.0,1200.5 752.0,1193.1 753.0,1184.7 754.0,1175.1 755.0,1164.3 756.0,1152.3 757.0,1139.1 758.0,1124.9 759.0,1109.7 760.0,1093.8 761.0,1077.5 762.0,1061.1 763.0,1045.2 764.0,1030.4 765.0,1017.3 766.0,1006.7 767.0,999.4 768.0,995.7 769.0,996.1 770.0,1000.5 771.0,1008.6 772.0,1019.7 773.0,1033.2 774.0,1048.3 775.0,1064.4 776.0,1080.8 777.0,1097.0 778.0,1112.8 779.0,1127.8 780.0,1141.8 781.0,1154.8 782.0,1166.5 783.0,1177.1 784.0,1186.4 785.0,1194.7 786.0,1201.8 787.0,1208.0 788.0,1213.3 789.0,1217.8 790.0,1221.6 791.0,1224.8 792.0,1227.5 793.0,1229.8 794.0,1231.8 795.0,1233.4 796.0,1234.9 797.0,1236.1 798.0,1237.1 799.0,1238.1 800.0,1238.9 801.0,1239.6 802.0,1240.3 803.0,1240.9 804.0,1241.5 805.0,1242.0 806.0,1242.4 807.0,1242.9 808.0,1243.3 809.0,1243.6 810.0,1244.0 811.0,1244.3 812.0,1244.6 813.0,1244.9 814.0,1245.2 815.0,1245.4 816.0,1245.6 817.0,1245.9 818.0,1246.1 819.0,1246.3 820.0,1246.5 821.0,1246.6 822.0,1246.8 823.0,1247.0 824.0,1247.1 825.0,1247.3 826.0,1247.4 827.0,1247.5 828.0,1247.6 829.0,1247.8 830.0,1247.9 831.0,1248.0 832.0,1248.1 833.0,1248.2 834.0,1248.3 835.0,1248.4 836.0,1248.4 837.0,1248.5 838.0,1248.6 839.0,1248.7 840.0,1248.7 841.0,1248.8 842.0,1248.9 843.0,1248.9 844.0,1249.0 845.0,1249.1 846.0,1249.1 847.0,1249.2 848.0,1249.2 849.0,1249.3 850.0,1249.3 851.0,1249.4 852.0,1249.4 853.0,1249.4 854.0,1249.5 855.0,1249.5 856.0,1249.6 857.0,1249.6 858.0,1249.6 859.0,1249.7 860.0,1249.7 861.0,1249.7 862.0,1249.8 863.0,1249.8 864.0,1249.8 865.0,1249.8 866.0,1249.9 867.0,1249.9 868.0,1249.9 869.0,1249.9 870.0,1250.0 871.0,1250.0 872.0,1250.0 873.0,1250.0 874.0,1250.1 875.0,1250.1 876.0,1250.1 877.0,1250.1 878.0,1250.1 879.0,1250.1 880.0,1250.2 881.0,1250.2 882.0,1250.2 883.0,1250.2 884.0,1250.2 885.0,1250.2 886.0,1250.2 887.0,1250.3 888.0,1250.3 889.0,1250.3 890.0,1250.3 891.0,1250.3 892.0,1250.3 893.0,1250.3 894.0,1250.3 895.0,1250.3 896.0,1250.4 897.0,1250.4 898.0,1250.4 899.0,1250.4 900.0,1250.4 901.0,1250.4 902.0,1250.4 903.0,1250.4 904.0,1250.4 905.0,1250.4 906.0,1250.4 907.0,1250.4 908.0,1250.4 909.0,1250.4 910.0,1250.4 911.0,1250.4 912.0,1250.4 913.0,1250.4 914.0,1250.4 915.0,1250.4 916.0,1250.4 917.0,1250.4 918.0,1250.5 919.0,1250.5 920.0,1250.5 921.0,1250.5 922.0,1250.5 923.0,1250.4 924.0,1250.4 925.0,1250.4 926.0,1250.4 927.0,1250.4 928.0,1250.4 929.0,1250.4 930.0,1250.4 931.0,1250.4 932.0,1250.4 933.0,1250.4 934.0,1250.4 935.0,1250.4 936.0,1250.4 937.0,1250.4 938.0,1250.4 939.0,1250.4 940.0,1250.4 941.0,1250.4 942.0,1250.4 943.0,1250.3 944.0,1250.3 945.0,1250.3 946.0,1250.3 947.0,1250.3 948.0,1250.3 949.0,1250.3 950.0,1250.3 951.0,1250.2 952.0,1250.2 953.0,1250.2 954.0,1250.2 955.0,1250.2 956.0,1250.2 957.0,1250.1 958.0,1250.1 959.0,1250.1 960.0,1250.1 961.0,1250.0 962.0,1250.0 963.0,1250.0 964.0,1250.0 965.0,1249.9 966.0,1249.9 967.0,1249.9 968.0,1249.8 969.0,1249.8 970.0,1249.8 971.0,1249.7 972.0,1249.7 973.0,1249.6 974.0,1249.6 975.0,1249.6 976.0,1249.5 977.0,1249.5 978.0,1249.4 979.0,1249.3 980.0,1249.3 981.0,1249.2 982.0,1249.1 983.0,1249.1 984.0,1249.0 985.0,1248.9 986.0,1248.8 987.0,1248.7 988.0,1248.6 989.0,1248.5 990.0,1248.4 991.0,1248.3 992.0,1248.2 993.0,1248.1 994.0,1247.9 995.0,1247.8 996.0,1247.6 997.0,1247.4 998.0,1247.2 999.0,1247.0 1000.0,1246.8 1001.0,1246.6 1002.0,1246.3 1003.0,1246.0 1004.0,1245.7 1005.0,1245.3 1006.0,1244.9 1007.0,1244.5 1008.0,1243.9 1009.0,1243.3 1010.0,1242.6 1011.0,1241.8 1012.0,1240.8 1013.0,1239.7 1014.0,1238.3 1015.0,1236.6 1016.0,1234.7 1017.0,1232.5 1018.0,1229.8 1019.0,1226.7 1020.0,1223.2 1021.0,1219.1 1022.0,1214.5 1023.0,1209.3 1024.0,1203.6 1025.0,1197.4 1026.0,1190.7 1027.0,1183.7 1028.0,1176.3 1029.0,1168.8 1030.0,1161.4 1031.0,1154.3 1032.0,1147.8 1033.0,1142.2 1034.0,1137.9 1035.0,1135.2 1036.0,1134.3 1037.0,1135.2 1038.0,1137.9 1039.0,1142.2 1040.0,1147.8 1041.0,1154.3 1042.0,1161.4 1043.0,1168.8 1044.0,1176.3 1045.0,1183.7 1046.0,1190.8 1047.0,1197.5 1048.0,1203.7 1049.0,1209.4 1050.0,1214.5 1051.0,1219.1 1052.0,1223.2 1053.0,1226.8 1054.0,1229.9 1055.0,1232.5 1056.0,1234.8 1057.0,1236.7 1058.0,1238.3 1059.0,1239.7 1060.0,1240.9 1061.0,1241.9 1062.0,1242.7 1063.0,1243.4 1064.0,1244.0 1065.0,1244.5 1066.0,1245.0 1067.0,1245.4 1068.0,1245.8 1069.0,1246.1 1070.0,1246.4 1071.0,1246.7 1072.0,1246.9 1073.0,1247.1 1074.0,1247.3 1075.0,1247.5 1076.0,1247.7 1077.0,1247.9 1078.0,1248.0 1079.0,1248.2 1080.0,1248.3 1081.0,1248.4 1082.0,1248.6 1083.0,1248.7 1084.0,1248.8 1085.0,1248.9 1086.0,1249.0 1087.0,1249.1 1088.0,1249.2 1089.0,1249.2 1090.0,1249.3 1091.0,1249.4 1092.0,1249.5 1093.0,1249.5 1094.0,1249.6 1095.0,1249.6 1096.0,1249.7 1097.0,1249.7 1098.0,1249.8 1099.0,1249.8 1100.0,1249.9 1101.0,1249.9 1102.0,1250.0 1103.0,1250.0 1104.0,1250.1 1105.0,1250.1 1106.0,1250.1 1107.0,1250.2 1108.0,1250.2 1109.0,1250.2 1110.0,1250.3 1111.0,1250.3 1112.0,1250.3 1113.0,1250.4 1114.0,1250.4 1115.0,1250.4 1116.0,1250.4 1117.0,1250.5 1118.0,1250.5 1119.0,1250.5 1120.0,1250.5 1121.0,1250.5 1122.0,1250.6 1123.0,1250.6 1124.0,1250.6 1125.0,1250.6 1126.0,1250.6 1127.0,1250.6 1128.0,1250.7 1129.0,1250.7 1130.0,1250.7 1131.0,1250.7 1132.0,1250.7 1133.0,1250.7 1134.0,1250.8 1135.0,1250.8 1136.0,1250.8 1137.0,1250.8 1138.0,1250.8 1139.0,1250.8 1140.0,1250.8 1141.0,1250.8 1142.0,1250.9 1143.0,1250.9 1144.0,1250.9 1145.0,1250.9 1146.0,1250.9 1147.0,1250.9 1148.0,1250.9 1149.0,1250.9 1150.0,1250.9 1151.0,1250.9 1152.0,1250.9 1153.0,1251.0 1154.0,1251.0 1155.0,1251.0 1156.0,1251.0 1157.0,1251.0 1158.0,1251.0 1159.0,1251.0 1160.0,1251.0 1161.0,1251.0 1162.0,1251.0 1163.0,1251.0 1164.0,1251.0 1165.0,1251.0 1166.0,1251.0 1167.0,1251.0 1168.0,1251.1 1169.0,1251.1 1170.0,1251.1 1171.0,1251.1 1172.0,1251.1 1173.0,1251.1 1174.0,1251.1 1175.0,1251.1 1176.0,1251.1 1177.0,1251.1 1178.0,1251.1 1179.0,1251.1 1180.0,1251.1 1181.0,1251.1 1182.0,1251.1 1183.0,1251.1 1184.0,1251.1 1185.0,1251.1 1186.0,1251.1 1187.0,1251.1 1188.0,1251.1 1189.0,1251.2 1190.0,1251.2 1191.0,1251.2 1192.0,1251.2 1193.0,1251.2 1194.0,1251.2 1195.0,1251.2 1196.0,1251.2 1197.0,1251.2 1198.0,1251.2 1199.0,1251.2 1200.0,1251.2 1201.0,1251.2 1202.0,1251.2 1203.0,1251.2 1204.0,1251.2 1205.0,1251.2 1206.0,1251.2 1207.0,1251.2 1208.0,1251.2 1209.0,1251.2 1210.0,1251.2 1211.0,1251.2 1212.0,1251.2 1213.0,1251.2 1214.0,1251.2 1215.0,1251.2 1216.0,1251.2 1217.0,1251.2 1218.0,1251.2 1219.0,1251.2 1220.0,1251.2 1221.0,1251.2 1222.0,1251.2 1223.0,1251.3 1224.0,1251.3 1225.0,1251.3 1226.0,1251.3 1227.0,1251.3 1228.0,1251.3 1229.0,1251.3 1230.0,1251.3 1231.0,1251.3 1232.0,1251.3 1233.0,1251.3 1234.0,1251.3 1235.0,1251.3 1236.0,1251.3 1237.0,1251.3 1238.0,1251.3 1239.0,1251.3 1240.0,1251.3 1241.0,1251.3 1242.0,1251.3 1243.0,1251.3 1244.0,1251.3 1245.0,1251.3 1246.0,1251.3 1247.0,1251.3 1248.0,1251.3 1249.0,1251.3 1250.0,1251.3 1251.0,1251.3 1252.0,1251.3 1253.0,1251.3 1254.0,1251.3 1255.0,1251.3 1256.0,1251.3 1257.0,1251.3 1258.0,1251.3 1259.0,1251.3 1260.0,1251.3 1261.0,1251.3 1262.0,1251.3 1263.0,1251.3 1264.0,1251.3 1265.0,1251.3 1266.0,1251.3 1267.0,1251.3 1268.0,1251.3 1269.0,1251.3 1270.0,1251.3 1271.0,1251.3 1272.0,1251.3 1273.0,1251.3 1274.0,1251.3 1275.0,1251.3 1276.0,1251.3 1277.0,1251.3 1278.0,1251.3 1279.0,1251.3 1280.0,1251.3 1281.0,1251.3 1282.0,1251.3 1283.0,1251.3 1284.0,1251.3 1285.0,1251.3 1286.0,1251.3 1287.0,1251.3 1288.0,1251.3 1289.0,1251.3 1290.0,1251.3 1291.0,1251.3 1292.0,1251.3 1293.0,1251.3 1294.0,1251.3 1295.0,1251.4 1296.0,1251.4 1297.0,1251.4 1298.0,1251.4 1299.0,1251.4 1300.0,1251.4 1301.0,1251.4 1302.0,1251.4 1303.0,1251.4 1304.0,1251.4 1305.0,1251.4 1306.0,1251.4 1307.0,1251.4 1308.0,1251.4 1309.0,1251.4 1310.0,1251.4 1311.0,1251.4 1312.0,1251.4 1313.0,1251.4 1314.0,1251.4 1315.0,1251.4 1316.0,1251.4 1317.0,1251.4 1318.0,1251.4 1319.0,1251.4 1320.0,1251.4 1321.0,1251.4 1322.0,1251.4 1323.0,1251.4 1324.0,1251.4 1325.0,1251.4 1326.0,1251.4 1327.0,1251.4 1328.0,1251.4 1329.0,1251.4 1330.0,1251.4 1331.0,1251.4 1332.0,1251.4 1333.0,1251.4 1334.0,1251.4 1335.0,1251.4 1336.0,1251.4 1337.0,1251.4 1338.0,1251.4 1339.0,1251.4 1340.0,1251.4 1341.0,1251.4 1342.0,1251.4 1343.0,1251.4 1344.0,1251.4 1345.0,1251.4 1346.0,1251.4 1347.0,1251.4 1348.0,1251.4 1349.0,1251.4 1350.0,1251.4 1351.0,1251.4 1352.0,1251.4 1353.0,1251.4 1354.0,1251.4 1355.0,1251.4 1356.0,1251.4 1357.0,1251.4 1358.0,1251.4 1359.0,1251.4 1360.0,1251.4 1361.0,1251.4 1362.0,1251.4 1363.0,1251.4 1364.0,1251.4 1365.0,1251.4 1366.0,1251.4 1367.0,1251.4 1368.0,1251.4 1369.0,1251.4 1370.0,1251.4 1371.0,1251.4 1372.0,1251.4 1373.0,1251.4 1374.0,1251.4 1375.0,1251.4 1376.0,1251.4 1377.0,1251.4 1378.0,1251.4 1379.0,1251.4 1380.0,1251.4 1381.0,1251.4 1382.0,1251.4 1383.0,1251.4 1384.0,1251.4 1385.0,1251.4 1386.0,1251.4 1387.0,1251.4 1388.0,1251.4 1389.0,1251.4 1390.0,1251.4 1391.0,1251.4 1392.0,1251.4 1393.0,1251.4 1394.0,1251.4 1395.0,1251.4 1396.0,1251.4 1397.0,1251.4 1398.0,1251.4 1399.0,1251.4 1400.0,1251.4 1401.0,1251.4 1402.0,1251.4 1403.0,1251.4 1404.0,1251.4 1405.0,1251.4 1406.0,1251.4 1407.0,1251.4 1408.0,1251.4 1409.0,1251.4 1410.0,1251.4 1411.0,1251.4 1412.0,1251.4 1413.0,1251.4 1414.0,1251.4 1415.0,1251.4 1416.0,1251.4 1417.0,1251.4 1418.0,1251.4 1419.0,1251.4 1420.0,1251.4 1421.0,1251.4 1422.0,1251.4 1423.0,1251.4 1424.0,1251.4 1425.0,1251.4 1426.0,1251.4 1427.0,1251.4 1428.0,1251.4 1429.0,1251.4 1430.0,1251.4 1431.0,1251.4 1432.0,1251.4 1433.0,1251.4 1434.0,1251.4 1435.0,1251.4 1436.0,1251.4 1437.0,1251.4 1438.0,1251.4 1439.0,1251.4 1440.0,1251.4 1441.0,1251.4 1442.0,1251.4 1443.0,1251.4 1444.0,1251.4 1445.0,1251.4 1446.0,1251.4 1447.0,1251.4 1448.0,1251.4 1449.0,1251.4 1450.0,1251.4 1451.0,1251.4 1452.0,1251.4 1453.0,1251.4 1454.0,1251.4 1455.0,1251.4 1456.0,1251.4 1457.0,1251.4 1458.0,1251.4 1459.0,1251.4 1460.0,1251.4 1461.0,1251.4 1462.0,1251.4 1463.0,1251.4 1464.0,1251.4 1465.0,1251.4 1466.0,1251.4 1467.0,1251.4 1468.0,1251.4 1469.0,1251.4 1470.0,1251.4 1471.0,1251.4 1472.0,1251.4 1473.0,1251.4 1474.0,1251.4 1475.0,1251.4 1476.0,1251.4 1477.0,1251.4 1478.0,1251.4 1479.0,1251.4 1480.0,1251.4 1481.0,1251.4 1482.0,1251.4 1483.0,1251.4 1484.0,1251.4 1485.0,1251.4 1486.0,1251.4 1487.0,1251.4 1488.0,1251.4 1489.0,1251.4 1490.0,1251.4 1491.0,1251.4 1492.0,1251.4 1493.0,1251.4 1494.0,1251.4 1495.0,1251.4 1496.0,1251.4 1497.0,1251.4 1498.0,1251.4 1499.0,1251.4 1500.0,1251.4 1501.0,1251.4 1502.0,1251.4 1503.0,1251.4 1504.0,1251.4 1505.0,1251.4 1506.0,1251.4 1507.0,1251.4 1508.0,1251.4 1509.0,1251.4 1510.0,1251.4 1511.0,1251.4 1512.0,1251.4 1513.0,1251.4 1514.0,1251.4 1515.0,1251.4 1516.0,1251.4 1517.0,1251.4 1518.0,1251.4 1519.0,1251.4 1520.0,1251.4 1521.0,1251.4 1522.0,1251.4 1523.0,1251.4 1524.0,1251.4 1525.0,1251.4 1526.0,1251.4 1527.0,1251.4 1528.0,1251.4 1529.0,1251.4 1530.0,1251.4 1531.0,1251.4 1532.0,1251.4 1533.0,1251.4 1534.0,1251.4 1535.0,1251.4 1536.0,1251.4 1537.0,1251.4 1538.0,1251.4 1539.0,1251.4 1540.0,1251.4 1541.0,1251.4 1542.0,1251.4 1543.0,1251.4 1544.0,1251.4 1545.0,1251.4 1546.0,1251.4 1547.0,1251.4 1548.0,1251.4 1549.0,1251.4 1550.0,1251.4 1551.0,1251.4 1552.0,1251.4 1553.0,1251.4 1554.0,1251.4 1555.0,1251.4 1556.0,1251.4 1557.0,1251.4 1558.0,1251.4 1559.0,1251.4 1560.0,1251.4 1561.0,1251.4 1562.0,1251.4 1563.0,1251.4 1564.0,1251.4 1565.0,1251.4 1566.0,1251.4 1567.0,1251.4 1568.0,1251.4 1569.0,1251.4 1570.0,1251.4 1571.0,1251.4 1572.0,1251.4 1573.0,1251.4 1574.0,1251.4 1575.0,1251.4 1576.0,1251.4 1577.0,1251.4 1578.0,1251.4 1579.0,1251.4 1580.0,1251.4 1581.0,1251.4 1582.0,1251.4 1583.0,1251.4 1584.0,1251.4 1585.0,1251.4 1586.0,1251.4 1587.0,1251.4 1588.0,1251.4 1589.0,1251.4 1590.0,1251.4 1591.0,1251.4 1592.0,1251.4 1593.0,1251.4 1594.0,1251.4 1595.0,1251.4 1596.0,1251.4 1597.0,1251.4 1598.0,1251.4 1599.0,1251.4 1600.0,1251.4 1601.0,1251.4 1602.0,1251.4 1603.0,1251.4 1604.0,1251.4 1605.0,1251.4 1606.0,1251.4 1607.0,1251.4 1608.0,1251.4 1609.0,1251.4 1610.0,1251.4 1611.0,1251.4 1612.0,1251.4 1613.0,1251.4 1614.0,1251.4 1615.0,1251.4 1616.0,1251.4 1617.0,1251.4 1618.0,1251.4 1619.0,1251.4 1620.0,1251.4 1621.0,1251.4 1622.0,1251.4 1623.0,1251.4 1624.0,1251.4 1625.0,1251.4 1626.0,1251.4 1627.0,1251.4 1628.0,1251.4 1629.0,1251.4 1630.0,1251.4 1631.0,1251.4 1632.0,1251.4 1633.0,1251.4 1634.0,1251.4 1635.0,1251.4 1636.0,1251.4 1637.0,1251.4 1638.0,1251.4 1639.0,1251.4 1640.0,1251.4 1641.0,1251.4 1642.0,1251.4 1643.0,1251.4 1644.0,1251.4 1645.0,1251.4 1646.0,1251.4 1647.0,1251.4 1648.0,1251.4 1649.0,1251.4 1650.0,1251.4 1651.0,1251.4 1652.0,1251.4 1653.0,1251.4 1654.0,1251.4 1655.0,1251.4 1656.0,1251.4 1657.0,1251.4 1658.0,1251.4 1659.0,1251.4 1660.0,1251.4 1661.0,1251.4 1662.0,1251.4 1663.0,1251.4 1664.0,1251.4 1665.0,1251.4 1666.0,1251.4 1667.0,1251.4 1668.0,1251.4 1669.0,1251.4 1670.0,1251.4 1671.0,1251.4 1672.0,1251.4 1673.0,1251.4 1674.0,1251.4 1675.0,1251.4 1676.0,1251.4 1677.0,1251.4 1678.0,1251.4 1679.0,1251.4 1680.0,1251.4 1681.0,1251.4 1682.0,1251.4 1683.0,1251.4 1684.0,1251.4 1685.0,1251.4 1686.0,1251.4 1687.0,1251.4 1688.0,1251.4 1689.0,1251.4 1690.0,1251.4 1691.0,1251.4 1692.0,1251.4 1693.0,1251.4 1694.0,1251.4 1695.0,1251.4 1696.0,1251.4 1697.0,1251.4 1698.0,1251.4 1699.0,1251.4 1700.0,1251.4 1701.0,1251.4 1702.0,1251.4 1703.0,1251.4 1704.0,1251.4 1705.0,1251.4 1706.0,1251.4 1707.0,1251.4 1708.0,1251.4 1709.0,1251.4 1710.0,1251.4 1711.0,1251.4 1712.0,1251.4 1713.0,1251.4 1714.0,1251.4 1715.0,1251.4 1716.0,1251.4 1717.0,1251.4 1718.0,1251.4 1719.0,1251.4 1720.0,1251.4 1721.0,1251.4 1722.0,1251.4 1723.0,1251.4 1724.0,1251.4 1725.0,1251.4 1726.0,1251.4 1727.0,1251.4 1728.0,1251.4 1729.0,1251.4 1730.0,1251.4 1731.0,1251.4 1732.0,1251.4 1733.0,1251.4 1734.0,1251.4 1735.0,1251.4 1736.0,1251.4 1737.0,1251.4 1738.0,1251.4 1739.0,1251.4 1740.0,1251.4 1741.0,1251.4 1742.0,1251.4 1743.0,1251.4 1744.0,1251.4 1745.0,1251.4 1746.0,1251.4 1747.0,1251.4 1748.0,1251.4 1749.0,1251.4 1750.0,1251.4 1751.0,1251.4 1752.0,1251.4 1753.0,1251.4 1754.0,1251.3 1755.0,1251.3 1756.0,1251.3 1757.0,1251.3 1758.0,1251.3 1759.0,1251.3 1760.0,1251.3 1761.0,1251.3 1762.0,1251.3 1763.0,1251.3 1764.0,1251.3 1765.0,1251.3 1766.0,1251.3 1767.0,1251.3 1768.0,1251.3 1769.0,1251.3 1770.0,1251.3 1771.0,1251.3 1772.0,1251.3 1773.0,1251.3 1774.0,1251.3 1775.0,1251.3 1776.0,1251.3 1777.0,1251.3 1778.0,1251.3 1779.0,1251.3 1780.0,1251.3 1781.0,1251.3 1782.0,1251.3 1783.0,1251.3 1784.0,1251.3 1785.0,1251.3 1786.0,1251.3 1787.0,1251.3 1788.0,1251.3 1789.0,1251.3 1790.0,1251.3 1791.0,1251.3 1792.0,1251.3 1793.0,1251.3 1794.0,1251.3 1795.0,1251.2 1796.0,1251.2 1797.0,1251.2 1798.0,1251.2 1799.0,1251.2 1800.0,1251.2 1801.0,1251.2 1802.0,1251.2 1803.0,1251.2 1804.0,1251.2 1805.0,1251.2 1806.0,1251.2 1807.0,1251.2 1808.0,1251.2 1809.0,1251.2 1810.0,1251.2 1811.0,1251.2 1812.0,1251.2 1813.0,1251.2 1814.0,1251.2 1815.0,1251.1 1816.0,1251.1 1817.0,1251.1 1818.0,1251.1 1819.0,1251.1 1820.0,1251.1 1821.0,1251.1 1822.0,1251.1 1823.0,1251.1 1824.0,1251.1 1825.0,1251.1 1826.0,1251.1 1827.0,1251.0 1828.0,1251.0 1829.0,1251.0 1830.0,1251.0 1831.0,1251.0 1832.0,1251.0 1833.0,1251.0 1834.0,1251.0 1835.0,1251.0 1836.0,1250.9 1837.0,1250.9 1838.0,1250.9 1839.0,1250.9 1840.0,1250.9 1841.0,1250.9 1842.0,1250.8 1843.0,1250.8 1844.0,1250.8 1845.0,1250.8 1846.0,1250.8 1847.0,1250.7 1848.0,1250.7 1849.0,1250.7 1850.0,1250.7 1851.0,1250.6 1852.0,1250.6 1853.0,1250.6 1854.0,1250.6 1855.0,1250.5 1856.0,1250.5 1857.0,1250.5 1858.0,1250.4 1859.0,1250.4 1860.0,1250.3 1861.0,1250.3 1862.0,1250.3 1863.0,1250.2 1864.0,1250.2 1865.0,1250.1 1866.0,1250.0 1867.0,1250.0 1868.0,1249.9 1869.0,1249.8 1870.0,1249.8 1871.0,1249.7 1872.0,1249.6 1873.0,1249.5 1874.0,1249.4 1875.0,1249.3 1876.0,1249.2 1877.0,1249.0 1878.0,1248.9 1879.0,1248.7 1880.0,1248.5 1881.0,1248.3 1882.0,1248.1 1883.0,1247.9 1884.0,1247.5 1885.0,1247.2 1886.0,1246.8 1887.0,1246.3 1888.0,1245.7 1889.0,1245.0 1890.0,1244.2 1891.0,1243.3 1892.0,1242.2 1893.0,1240.8 1894.0,1239.3 1895.0,1237.5 1896.0,1235.5 1897.0,1233.2 1898.0,1230.7 1899.0,1227.9 1900.0,1224.8 1901.0,1221.5 1902.0,1218.0 1903.0,1214.3 1904.0,1210.6 1905.0,1206.9 1906.0,1203.4 1907.0,1200.2 1908.0,1197.4 1909.0,1195.3 1910.0,1193.9 1911.0,1193.5 1912.0,1193.9 1913.0,1195.3 1914.0,1197.4 1915.0,1200.2 1916.0,1203.4 1917.0,1206.9 1918.0,1210.6 1919.0,1214.3 1920.0,1218.0 1921.0,1221.5 1922.0,1224.8 1923.0,1227.9 1924.0,1230.7 1925.0,1233.2"/>
<polyline stroke="#000000" stroke-width="5.5" points="196.0,1124.5 197.0,1124.5 198.0,1124.5 199.0,1124.5 200.0,1124.5 201.0,1124.5 202.0,1124.5 203.0,1124.5 204.0,1124.5 205.0,1124.5 206.0,1124.5 207.0,1124.5 208.0,1124.5 209.0,1124.5 210.0,1124.5 211.0,1124.5 212.0,1124.5 213.0,1124.5 214.0,1124.5 215.0,1124.5 216.0,1124.5 217.0,1124.5 218.0,1124.5 219.0,1124.5 220.0,1124.5 221.0,1124.5 222.0,1124.5 223.0,1124.5 224.0,1124.5 225.0,1124.5 226.0,1124.5 227.0,1124.5 228.0,1124.5 229.0,1124.5 230.0,1124.5 231.0,1124.5 232.0,1124.5 233.0,1124.5 234.0,1124.5 235.0,1124.5 236.0,1124.5 237.0,1124.5 238.0,1124.5 239.0,1124.5 240.0,1124.5 241.0,1124.5 242.0,1124.5 243.0,1124.5 244.0,1124.5 245.0,1124.5 246.0,1124.5 247.0,1124.5 248.0,1124.5 249.0,1124.5 250.0,1124.5 251.0,1124.5 252.0,1124.5 253.0,1124.5 254.0,1124.5 255.0,1124.5 256.0,1124.5 257.0,1124.5 258.0,1124.5 259.0,1124.5 260.0,1124.5 261.0,1124.5 262.0,1124.5 263.0,1124.5 264.0,1124.5 265.0,1124.5 266.0,1124.5 267.0,1124.5 268.0,1124.5 269.0,1124.5 270.0,1124.5 271.0,1124.5 272.0,1124.5 273.0,1124.5 274.0,1124.5 275.0,1124.5 276.0,1124.5 277.0,1124.5 278.0,1124.5 279.0,1124.5 280.0,1124.5 281.0,1124.5 282.0,1124.5 283.0,1124.5 284.0,1124.5 285.0,1124.5 286.0,1124.5 287.0,1124.5 288.0,1124.5 289.0,1124.5 290.0,1124.5 291.0,1124.5 292.0,1124.5 293.0,1124.5 294.0,1124.5 295.0,1124.5 296.0,1124.5 297.0,1124.5 298.0,1124.5 299.0,1124.5 300.0,1124.5 301.0,1124.5 302.0,1124.5 303.0,1124.5 304.0,1124.5 305.0,1124.5 306.0,1124.5 307.0,1124.5 308.0,1124.5 309.0,1124.5 310.0,1124.5 311.0,1124.5 312.0,1124.5 313.0,1124.5 314.0,1124.5 315.0,1124.5 316.0,1124.5 317.0,1124.5 318.0,1124.5 319.0,1124.5 320.0,1124.5 321.0,1124.5 322.0,1124.5 323.0,1124.5 324.0,1124.5 325.0,1124.5 326.0,1124.5 327.0,1124.5 328.0,1124.5 329.0,1124.5 330.0,1124.5 331.0,1124.5 332.0,1124.5 333.0,1124.5 334.0,1124.5 335.0,1124.5 336.0,1124.5 337.0,1124.5 338.0,1124.5 339.0,1124.5 340.0,1124.5 341.0,1124.5 342.0,1124.5 343.0,1124.5 344.0,1124.5 345.0,1124.5 346.0,1124.5 347.0,1124.5 348.0,1124.5 349.0,1124.5 350.0,1124.5 351.0,1124.5 352.0,1124.5 353.0,1124.5 354.0,1124.5 355.0,1124.5 356.0,1124.5 357.0,1124.5 358.0,1124.5 359.0,1124.5 360.0,1124.5 361.0,1124.5 362.0,1124.5 363.0,1124.5 364.0,1124.5 365.0,1124.5 366.0,1124.5 367.0,1124.5 368.0,1124.5 369.0,1124.5 370.0,1124.5 371.0,1124.5 372.0,1124.5 373.0,1124.5 374.0,1124.5 375.0,1124.5 376.0,1124.5 377.0,1124.5 378.0,1124.5 379.0,1124.5 380.0,1124.5 381.0,1124.5 382.0,1124.5 383.0,1124.4 384.0,1124.4 385.0,1124.4 386.0,1124.3 387.0,1124.2 388.0,1124.1 389.0,1123.9 390.0,1123.7 391.0,1123.5 392.0,1123.3 393.0,1123.0 394.0,1122.8 395.0,1122.6 396.0,1122.5 397.0,1122.5 398.0,1122.5 399.0,1122.6 400.0,1122.8 401.0,1123.0 402.0,1123.3 403.0,1123.5 404.0,1123.7 405.0,1123.9 406.0,1124.1 407.0,1124.2 408.0,1124.3 409.0,1124.4 410.0,1124.4 411.0,1124.4 412.0,1124.5 413.0,1124.5 414.0,1124.5 415.0,1124.5 416.0,1124.5 417.0,1124.5 418.0,1124.5 419.0,1124.5 420.0,1124.5 421.0,1124.5 422.0,1124.5 423.0,1124.5 424.0,1124.5 425.0,1124.5 426.0,1124.5 427.0,1124.5 428.0,1124.5 429.0,1124.5 430.0,1124.5 431.0,1124.5 432.0,1124.5 433.0,1124.5 434.0,1124.5 435.0,1124.5 436.0,1124.5 437.0,1124.5 438.0,1124.5 439.0,1124.5 440.0,1124.5 441.0,1124.5 442.0,1124.5 443.0,1124.5 444.0,1124.5 445.0,1124.5 446.0,1124.5 447.0,1124.5 448.0,1124.5 449.0,1124.5 450.0,1124.5 451.0,1124.5 452.0,1124.5 453.0,1124.5 454.0,1124.5 455.0,1124.5 456.0,1124.5 457.0,1124.5 458.0,1124.5 459.0,1124.5 460.0,1124.5 461.0,1124.5 462.0,1124.5 463.0,1124.5 464.0,1124.5 465.0,1124.5 466.0,1124.5 467.0,1124.5 468.0,1124.5 469.0,1124.5 470.0,1124.5 471.0,1124.5 472.0,1124.5 473.0,1124.5 474.0,1124.5 475.0,1124.5 476.0,1124.5 477.0,1124.5 478.0,1124.5 479.0,1124.5 480.0,1124.5 481.0,1124.5 482.0,1124.5 483.0,1124.5 484.0,1124.5 485.0,1124.5 486.0,1124.5 487.0,1124.5 488.0,1124.5 489.0,1124.5 490.0,1124.5 491.0,1124.5 492.0,1124.5 493.0,1124.5 494.0,1124.5 495.0,1124.5 496.0,1124.5 497.0,1124.5 498.0,1124.5 499.0,1124.5 500.0,1124.5 501.0,1124.5 502.0,1124.5 503.0,1124.5 504.0,1124.5 505.0,1124.5 506.0,1124.5 507.0,1124.5 508.0,1124.5 509.0,1124.5 510.0,1124.5 511.0,1124.5 512.0,1124.5 513.0,1124.5 514.0,1124.5 515.0,1124.5 516.0,1124.5 517.0,1124.5 518.0,1124.5 519.0,1124.5 520.0,1124.5 521.0,1124.5 522.0,1124.5 523.0,1124.5 524.0,1124.5 525.0,1124.5 526.0,1124.5 527.0,1124.5 528.0,1124.5 529.0,1124.5 530.0,1124.5 531.0,1124.5 532.0,1124.5 533.0,1124.5 534.0,1124.5 535.0,1124.5 536.0,1124.5 537.0,1124.5 538.0,1124.5 539.0,1124.5 540.0,1124.5 541.0,1124.5 542.0,1124.5 543.0,1124.5 544.0,1124.5 545.0,1124.5 546.0,1124.5 547.0,1124.5 548.0,1124.5 549.0,1124.5 550.0,1124.5 551.0,1124.5 552.0,1124.5 553.0,1124.5 554.0,1124.5 555.0,1124.5 556.0,1124.5 557.0,1124.5 558.0,1124.5 559.0,1124.5 560.0,1124.5 561.0,1124.5 562.0,1124.5 563.0,1124.5 564.0,1124.5 565.0,1124.5 566.0,1124.5 567.0,1124.5 568.0,1124.5 569.0,1124.5 570.0,1124.5 571.0,1124.5 572.0,1124.5 573.0,1124.5 574.0,1124.5 575.0,1124.5 576.0,1124.5 577.0,1124.5 578.0,1124.5 579.0,1124.5 580.0,1124.5 581.0,1124.5 582.0,1124.5 583.0,1124.5 584.0,1124.5 585.0,1124.5 586.0,1124.5 587.0,1124.5 588.0,1124.5 589.0,1124.5 590.0,1124.5 591.0,1124.5 592.0,1124.5 593.0,1124.5 594.0,1124.5 595.0,1124.5 596.0,1124.5 597.0,1124.5 598.0,1124.5 599.0,1124.5 600.0,1124.5 601.0,1124.5 602.0,1124.5 603.0,1124.5 604.0,1124.5 605.0,1124.5 606.0,1124.5 607.0,1124.5 608.0,1124.5 609.0,1124.5 610.0,1124.5 611.0,1124.5 612.0,1124.5 613.0,1124.5 614.0,1124.5 615.0,1124.5 616.0,1124.5 617.0,1124.5 618.0,1124.5 619.0,1124.5 620.0,1124.5 621.0,1124.5 622.0,1124.5 623.0,1124.5 624.0,1124.5 625.0,1124.5 626.0,1124.5 627.0,1124.5 628.0,1124.5 629.0,1124.5 630.0,1124.5 631.0,1124.5 632.0,1124.5 633.0,1124.5 634.0,1124.5 635.0,1124.5 636.0,1124.5 637.0,1124.5 638.0,1124.5 639.0,1124.5 640.0,1124.5 641.0,1124.5 642.0,1124.5 643.0,1124.5 644.0,1124.5 645.0,1124.5 646.0,1124.5 647.0,1124.5 648.0,1124.5 649.0,1124.5 650.0,1124.5 651.0,1124.5 652.0,1124.5 653.0,1124.5 654.0,1124.5 655.0,1124.5 656.0,1124.5 657.0,1124.5 658.0,1124.5 659.0,1124.5 660.0,1124.5 661.0,1124.5 662.0,1124.5 663.0,1124.5 664.0,1124.5 665.0,1124.5 666.0,1124.5 667.0,1124.5 668.0,1124.5 669.0,1124.5 670.0,1124.4 671.0,1124.4 672.0,1124.4 673.0,1124.4 674.0,1124.4 675.0,1124.4 676.0,1124.4 677.0,1124.4 678.0,1124.4 679.0,1124.4 680.0,1124.4 681.0,1124.4 682.0,1124.4 683.0,1124.4 684.0,1124.4 685.0,1124.4 686.0,1124.4 687.0,1124.4 688.0,1124.4 689.0,1124.4 690.0,1124.4 691.0,1124.4 692.0,1124.4 693.0,1124.4 694.0,1124.4 695.0,1124.4 696.0,1124.4 697.0,1124.4 698.0,1124.4 699.0,1124.4 700.0,1124.4 701.0,1124.4 702.0,1124.4 703.0,1124.4 704.0,1124.4 705.0,1124.4 706.0,1124.4 707.0,1124.4 708.0,1124.4 709.0,1124.4 710.0,1124.4 711.0,1124.4 712.0,1124.4 713.0,1124.4 714.0,1124.4 715.0,1124.4 716.0,1124.4 717.0,1124.4 718.0,1124.4 719.0,1124.4 720.0,1124.4 721.0,1124.4 722.0,1124.4 723.0,1124.4 724.0,1124.4 725.0,1124.4 726.0,1124.4 727.0,1124.4 728.0,1124.4 729.0,1124.4 730.0,1124.4 731.0,1124.4 732.0,1124.4 733.0,1124.4 734.0,1124.4 735.0,1124.4 736.0,1124.4 737.0,1124.4 738.0,1124.4 739.0,1124.4 740.0,1124.4 741.0,1124.4 742.0,1124.4 743.0,1124.4 744.0,1124.4 745.0,1124.4 746.0,1124.4 747.0,1124.4 748.0,1124.4 749.0,1124.4 750.0,1124.4 751.0,1124.4 752.0,1124.4 753.0,1124.4 754.0,1124.4 755.0,1124.4 756.0,1124.4 757.0,1124.4 758.0,1124.4 759.0,1124.4 760.0,1124.4 761.0,1124.4 762.0,1124.4 763.0,1124.4 764.0,1124.4 765.0,1124.4 766.0,1124.4 767.0,1124.4 768.0,1124.4 769.0,1124.4 770.0,1124.4 771.0,1124.4 772.0,1124.4 773.0,1124.4 774.0,1124.4 775.0,1124.4 776.0,1124.4 777.0,1124.4 778.0,1124.4 779.0,1124.4 780.0,1124.4 781.0,1124.4 782.0,1124.4 783.0,1124.4 784.0,1124.4 785.0,1124.4 786.0,1124.4 787.0,1124.4 788.0,1124.4 789.0,1124.3 790.0,1124.3 791.0,1124.3 792.0,1124.3 793.0,1124.3 794.0,1124.3 795.0,1124.3 796.0,1124.3 797.0,1124.3 798.0,1124.3 799.0,1124.3 800.0,1124.3 801.0,1124.3 802.0,1124.3 803.0,1124.3 804.0,1124.3 805.0,1124.3 806.0,1124.3 807.0,1124.3 808.0,1124.3 809.0,1124.3 810.0,1124.3 811.0,1124.3 812.0,1124.3 813.0,1124.3 814.0,1124.3 815.0,1124.3 816.0,1124.3 817.0,1124.3 818.0,1124.3 819.0,1124.3 820.0,1124.3 821.0,1124.3 822.0,1124.3 823.0,1124.3 824.0,1124.3 825.0,1124.2 826.0,1124.2 827.0,1124.2 828.0,1124.2 829.0,1124.2 830.0,1124.2 831.0,1124.2 832.0,1124.2 833.0,1124.2 834.0,1124.2 835.0,1124.2 836.0,1124.2 837.0,1124.2 838.0,1124.2 839.0,1124.2 840.0,1124.2 841.0,1124.2 842.0,1124.2 843.0,1124.2 844.0,1124.1 845.0,1124.1 846.0,1124.1 847.0,1124.1 848.0,1124.1 849.0,1124.1 850.0,1124.1 851.0,1124.1 852.0,1124.1 853.0,1124.1 854.0,1124.1 855.0,1124.1 856.0,1124.1 857.0,1124.0 858.0,1124.0 859.0,1124.0 860.0,1124.0 861.0,1124.0 862.0,1124.0 863.0,1124.0 864.0,1124.0 865.0,1124.0 866.0,1123.9 867.0,1123.9 868.0,1123.9 869.0,1123.9 870.0,1123.9 871.0,1123.9 872.0,1123.8 873.0,1123.8 874.0,1123.8 875.0,1123.8 876.0,1123.8 877.0,1123.8 878.0,1123.7 879.0,1123.7 880.0,1123.7 881.0,1123.7 882.0,1123.6 883.0,1123.6 884.0,1123.6 885.0,1123.6 886.0,1123.5 887.0,1123.5 888.0,1123.5 889.0,1123.4 890.0,1123.4 891.0,1123.4 892.0,1123.3 893.0,1123.3 894.0,1123.2 895.0,1123.2 896.0,1123.1 897.0,1123.1 898.0,1123.0 899.0,1123.0 900.0,1122.9 901.0,1122.8 902.0,1122.8 903.0,1122.7 904.0,1122.6 905.0,1122.5 906.0,1122.4 907.0,1122.3 908.0,1122.2 909.0,1122.1 910.0,1122.0 911.0,1121.8 912.0,1121.7 913.0,1121.5 914.0,1121.2 915.0,1121.0 916.0,1120.7 917.0,1120.3 918.0,1119.8 919.0,1119.2 920.0,1118.5 921.0,1117.6 922.0,1116.5 923.0,1115.1 924.0,1113.5 925.0,1111.5 926.0,1109.1 927.0,1106.2 928.0,1102.8 929.0,1098.9 930.0,1094.3 931.0,1089.0 932.0,1083.1 933.0,1076.5 934.0,1069.2 935.0,1061.3 936.0,1052.9 937.0,1044.0 938.0,1034.8 939.0,1025.5 940.0,1016.2 941.0,1007.2 942.0,998.7 943.0,991.0 944.0,984.3 945.0,979.0 946.0,975.1 947.0,972.9 948.0,972.6 949.0,974.0 950.0,977.2 951.0,982.0 952.0,988.2 953.0,995.5 954.0,1003.8 955.0,1012.6 956.0,1021.8 957.0,1031.1 958.0,1040.4 959.0,1049.4 960.0,1058.0 961.0,1066.1 962.0,1073.7 963.0,1080.5 964.0,1086.7 965.0,1092.3 966.0,1097.1 967.0,1101.3 968.0,1104.9 969.0,1108.0 970.0,1110.6 971.0,1112.7 972.0,1114.5 973.0,1116.0 974.0,1117.2 975.0,1118.1 976.0,1118.9 977.0,1119.6 978.0,1120.1 979.0,1120.5 980.0,1120.9 981.0,1121.1 982.0,1121.4 983.0,1121.6 984.0,1121.8 985.0,1121.9 986.0,1122.1 987.0,1122.2 988.0,1122.3 989.0,1122.4 990.0,1122.5 991.0,1122.6 992.0,1122.7 993.0,1122.7 994.0,1122.8 995.0,1122.9 996.0,1122.9 997.0,1123.0 998.0,1123.1 999.0,1123.1 1000.0,1123.2 1001.0,1123.2 1002.0,1123.3 1003.0,1123.3 1004.0,1123.3 1005.0,1123.4 1006.0,1123.4 1007.0,1123.5 1008.0,1123.5 1009.0,1123.5 1010.0,1123.5 1011.0,1123.6 1012.0,1123.6 1013.0,1123.6 1014.0,1123.7 1015.0,1123.7 1016.0,1123.7 1017.0,1123.7 1018.0,1123.7 1019.0,1123.8 1020.0,1123.8 1021.0,1123.8 1022.0,1123.8 1023.0,1123.8 1024.0,1123.9 1025.0,1123.9 1026.0,1123.9 1027.0,1123.9 1028.0,1123.9 1029.0,1123.9 1030.0,1123.9 1031.0,1124.0 1032.0,1124.0 1033.0,1124.0 1034.0,1124.0 1035.0,1124.0 1036.0,1124.0 1037.0,1124.0 1038.0,1124.0 1039.0,1124.0 1040.0,1124.1 1041.0,1124.1 1042.0,1124.1 1043.0,1124.1 1044.0,1124.1 1045.0,1124.1 1046.0,1124.1 1047.0,1124.1 1048.0,1124.1 1049.0,1124.1 1050.0,1124.1 1051.0,1124.1 1052.0,1124.2 1053.0,1124.2 1054.0,1124.2 1055.0,1124.2 1056.0,1124.2 1057.0,1124.2 1058.0,1124.2 1059.0,1124.2 1060.0,1124.2 1061.0,1124.2 1062.0,1124.2 1063.0,1124.2 1064.0,1124.2 1065.0,1124.2 1066.0,1124.2 1067.0,1124.2 1068.0,1124.2 1069.0,1124.2 1070.0,1124.2 1071.0,1124.2 1072.0,1124.3 1073.0,1124.3 1074.0,1124.3 1075.0,1124.3 1076.0,1124.3 1077.0,1124.3 1078.0,1124.3 1079.0,1124.3 1080.0,1124.3 1081.0,1124.3 1082.0,1124.3 1083.0,1124.3 1084.0,1124.3 1085.0,1124.3 1086.0,1124.3 1087.0,1124.3 1088.0,1124.3 1089.0,1124.3 1090.0,1124.3 1091.0,1124.3 1092.0,1124.3 1093.0,1124.3 1094.0,1124.3 1095.0,1124.3 1096.0,1124.3 1097.0,1124.3 1098.0,1124.3 1099.0,1124.3 1100.0,1124.3 1101.0,1124.3 1102.0,1124.3 1103.0,1124.3 1104.0,1124.3 1105.0,1124.3 1106.0,1124.3 1107.0,1124.3 1108.0,1124.4 1109.0,1124.4 1110.0,1124.4 1111.0,1124.4 1112.0,1124.4 1113.0,1124.4 1114.0,1124.4 1115.0,1124.4 1116.0,1124.4 1117.0,1124.4 1118.0,1124.4 1119.0,1124.4 1120.0,1124.4 1121.0,1124.4 1122.0,1124.4 1123.0,1124.4 1124.0,1124.4 1125.0,1124.4 1126.0,1124.4 1127.0,1124.4 1128.0,1124.4 1129.0,1124.4 1130.0,1124.4 1131.0,1124.4 1132.0,1124.4 1133.0,1124.4 1134.0,1124.4 1135.0,1124.4 1136.0,1124.4 1137.0,1124.4 1138.0,1124.4 1139.0,1124.4 1140.0,1124.4 1141.0,1124.4 1142.0,1124.4 1143.0,1124.4 1144.0,1124.4 1145.0,1124.4 1146.0,1124.4 1147.0,1124.4 1148.0,1124.4 1149.0,1124.4 1150.0,1124.4 1151.0,1124.4 1152.0,1124.4 1153.0,1124.4 1154.0,1124.4 1155.0,1124.4 1156.0,1124.4 1157.0,1124.4 1158.0,1124.4 1159.0,1124.4 1160.0,1124.4 1161.0,1124.4 1162.0,1124.4 1163.0,1124.4 1164.0,1124.4 1165.0,1124.4 1166.0,1124.4 1167.0,1124.4 1168.0,1124.4 1169.0,1124.4 1170.0,1124.4 1171.0,1124.4 1172.0,1124.4 1173.0,1124.4 1174.0,1124.4 1175.0,1124.4 1176.0,1124.4 1177.0,1124.4 1178.0,1124.4 1179.0,1124.4 1180.0,1124.4 1181.0,1124.4 1182.0,1124.4 1183.0,1124.4 1184.0,1124.4 1185.0,1124.4 1186.0,1124.4 1187.0,1124.4 1188.0,1124.4 1189.0,1124.4 1190.0,1124.4 1191.0,1124.4 1192.0,1124.4 1193.0,1124.4 1194.0,1124.4 1195.0,1124.4 1196.0,1124.4 1197.0,1124.4 1198.0,1124.4 1199.0,1124.4 1200.0,1124.4 1201.0,1124.4 1202.0,1124.4 1203.0,1124.4 1204.0,1124.4 1205.0,1124.4 1206.0,1124.4 1207.0,1124.4 1208.0,1124.4 1209.0,1124.4 1210.0,1124.4 1211.0,1124.4 1212.0,1124.4 1213.0,1124.4 1214.0,1124.4 1215.0,1124.4 1216.0,1124.4 1217.0,1124.4 1218.0,1124.4 1219.0,1124.4 1220.0,1124.4 1221.0,1124.4 1222.0,1124.4 1223.0,1124.4 1224.0,1124.4 1225.0,1124.4 1226.0,1124.4 1227.0,1124.4 1228.0,1124.4 1229.0,1124.4 1230.0,1124.4 1231.0,1124.4 1232.0,1124.4 1233.0,1124.4 1234.0,1124.5 1235.0,1124.5 1236.0,1124.5 1237.0,1124.5 1238.0,1124.5 1239.0,1124.5 1240.0,1124.5 1241.0,1124.5 1242.0,1124.5 1243.0,1124.5 1244.0,1124.5 1245.0,1124.5 1246.0,1124.5 1247.0,1124.5 1248.0,1124.5 1249.0,1124.5 1250.0,1124.5 1251.0,1124.5 1252.0,1124.5 1253.0,1124.5 1254.0,1124.5 1255.0,1124.5 1256.0,1124.5 1257.0,1124.5 1258.0,1124.5 1259.0,1124.5 1260.0,1124.5 1261.0,1124.5 1262.0,1124.5 1263.0,1124.5 1264.0,1124.5 1265.0,1124.5 1266.0,1124.5 1267.0,1124.5 1268.0,1124.5 1269.0,1124.5 1270.0,1124.5 1271.0,1124.5 1272.0,1124.5 1273.0,1124.5 1274.0,1124.5 1275.0,1124.5 1276.0,1124.5 1277.0,1124.5 1278.0,1124.5 1279.0,1124.5 1280.0,1124.5 1281.0,1124.5 1282.0,1124.5 1283.0,1124.5 1284.0,1124.5 1285.0,1124.5 1286.0,1124.5 1287.0,1124.5 1288.0,1124.5 1289.0,1124.5 1290.0,1124.5 1291.0,1124.5 1292.0,1124.5 1293.0,1124.5 1294.0,1124.5 1295.0,1124.5 1296.0,1124.5 1297.0,1124.5 1298.0,1124.5 1299.0,1124.5 1300.0,1124.5 1301.0,1124.5 1302.0,1124.5 1303.0,1124.5 1304.0,1124.5 1305.0,1124.5 1306.0,1124.5 1307.0,1124.5 1308.0,1124.5 1309.0,1124.5 1310.0,1124.5 1311.0,1124.5 1312.0,1124.5 1313.0,1124.5 1314.0,1124.5 1315.0,1124.5 1316.0,1124.5 1317.0,1124.5 1318.0,1124.5 1319.0,1124.5 1320.0,1124.5 1321.0,1124.5 1322.0,1124.5 1323.0,1124.5 1324.0,1124.5 1325.0,1124.5 1326.0,1124.5 1327.0,1124.5 1328.0,1124.5 1329.0,1124.5 1330.0,1124.5 1331.0,1124.5 1332.0,1124.5 1333.0,1124.5 1334.0,1124.5 1335.0,1124.5 1336.0,1124.5 1337.0,1124.5 1338.0,1124.5 1339.0,1124.5 1340.0,1124.5 1341.0,1124.5 1342.0,1124.5 1343.0,1124.5 1344.0,1124.5 1345.0,1124.5 1346.0,1124.5 1347.0,1124.5 1348.0,1124.5 1349.0,1124.5 1350.0,1124.5 1351.0,1124.5 1352.0,1124.5 1353.0,1124.5 1354.0,1124.5 1355.0,1124.5 1356.0,1124.5 1357.0,1124.5 1358.0,1124.5 1359.0,1124.5 1360.0,1124.5 1361.0,1124.5 1362.0,1124.5 1363.0,1124.5 1364.0,1124.5 1365.0,1124.5 1366.0,1124.5 1367.0,1124.5 1368.0,1124.5 1369.0,1124.5 1370.0,1124.5 1371.0,1124.5 1372.0,1124.5 1373.0,1124.5 1374.0,1124.5 1375.0,1124.5 1376.0,1124.5 1377.0,1124.5 1378.0,1124.5 1379.0,1124.5 1380.0,1124.5 1381.0,1124.5 1382.0,1124.5 1383.0,1124.5 1384.0,1124.5 1385.0,1124.5 1386.0,1124.5 1387.0,1124.5 1388.0,1124.5 1389.0,1124.5 1390.0,1124.5 1391.0,1124.5 1392.0,1124.5 1393.0,1124.5 1394.0,1124.5 1395.0,1124.5 1396.0,1124.5 1397.0,1124.5 1398.0,1124.5 1399.0,1124.5 1400.0,1124.5 1401.0,1124.5 1402.0,1124.5 1403.0,1124.5 1404.0,1124.5 1405.0,1124.5 1406.0,1124.5 1407.0,1124.5 1408.0,1124.5 1409.0,1124.5 1410.0,1124.5 1411.0,1124.5 1412.0,1124.5 1413.0,1124.5 1414.0,1124.5 1415.0,1124.5 1416.0,1124.5 1417.0,1124.5 1418.0,1124.5 1419.0,1124.5 1420.0,1124.5 1421.0,1124.5 1422.0,1124.5 1423.0,1124.5 1424.0,1124.5 1425.0,1124.5 1426.0,1124.5 1427.0,1124.5 1428.0,1124.5 1429.0,1124.5 1430.0,1124.5 1431.0,1124.5 1432.0,1124.5 1433.0,1124.5 1434.0,1124.5 1435.0,1124.5 1436.0,1124.5 1437.0,1124.5 1438.0,1124.5 1439.0,1124.5 1440.0,1124.5 1441.0,1124.5 1442.0,1124.5 1443.0,1124.5 1444.0,1124.5 1445.0,1124.5 1446.0,1124.5 1447.0,1124.5 1448.0,1124.5 1449.0,1124.5 1450.0,1124.5 1451.0,1124.5 1452.0,1124.5 1453.0,1124.5 1454.0,1124.5 1455.0,1124.5 1456.0,1124.5 1457.0,1124.5 1458.0,1124.5 1459.0,1124.5 1460.0,1124.5 1461.0,1124.5 1462.0,1124.5 1463.0,1124.5 1464.0,1124.5 1465.0,1124.5 1466.0,1124.5 1467.0,1124.5 1468.0,1124.5 1469.0,1124.5 1470.0,1124.5 1471.0,1124.5 1472.0,1124.5 1473.0,1124.5 1474.0,1124.5 1475.0,1124.5 1476.0,1124.5 1477.0,1124.5 1478.0,1124.5 1479.0,1124.5 1480.0,1124.5 1481.0,1124.5 1482.0,1124.5 1483.0,1124.5 1484.0,1124.5 1485.0,1124.5 1486.0,1124.5 1487.0,1124.5 1488.0,1124.5 1489.0,1124.5 1490.0,1124.5 1491.0,1124.5 1492.0,1124.5 1493.0,1124.5 1494.0,1124.5 1495.0,1124.5 1496.0,1124.5 1497.0,1124.5 1498.0,1124.5 1499.0,1124.5 1500.0,1124.5 1501.0,1124.5 1502.0,1124.5 1503.0,1124.5 1504.0,1124.5 1505.0,1124.5 1506.0,1124.5 1507.0,1124.5 1508.0,1124.5 1509.0,1124.5 1510.0,1124.5 1511.0,1124.5 1512.0,1124.5 1513.0,1124.5 1514.0,1124.5 1515.0,1124.5 1516.0,1124.5 1517.0,1124.5 1518.0,1124.5 1519.0,1124.5 1520.0,1124.5 1521.0,1124.5 1522.0,1124.5 1523.0,1124.5 1524.0,1124.5 1525.0,1124.5 1526.0,1124.5 1527.0,1124.5 1528.0,1124.5 1529.0,1124.5 1530.0,1124.5 1531.0,1124.5 1532.0,1124.5 1533.0,1124.5 1534.0,1124.5 1535.0,1124.5 1536.0,1124.5 1537.0,1124.5 1538.0,1124.5 1539.0,1124.5 1540.0,1124.5 1541.0,1124.5 1542.0,1124.5 1543.0,1124.5 1544.0,1124.5 1545.0,1124.5 1546.0,1124.5 1547.0,1124.5 1548.0,1124.5 1549.0,1124.5 1550.0,1124.5 1551.0,1124.5 1552.0,1124.5 1553.0,1124.5 1554.0,1124.5 1555.0,1124.5 1556.0,1124.5 1557.0,1124.5 1558.0,1124.5 1559.0,1124.5 1560.0,1124.5 1561.0,1124.5 1562.0,1124.5 1563.0,1124.5 1564.0,1124.5 1565.0,1124.5 1566.0,1124.5 1567.0,1124.5 1568.0,1124.5 1569.0,1124.5 1570.0,1124.5 1571.0,1124.5 1572.0,1124.5 1573.0,1124.5 1574.0,1124.5 1575.0,1124.5 1576.0,1124.5 1577.0,1124.5 1578.0,1124.5 1579.0,1124.5 1580.0,1124.5 1581.0,1124.5 1582.0,1124.5 1583.0,1124.5 1584.0,1124.5 1585.0,1124.5 1586.0,1124.5 1587.0,1124.5 1588.0,1124.5 1589.0,1124.5 1590.0,1124.5 1591.0,1124.5 1592.0,1124.5 1593.0,1124.5 1594.0,1124.5 1595.0,1124.5 1596.0,1124.5 1597.0,1124.5 1598.0,1124.5 1599.0,1124.5 1600.0,1124.5 1601.0,1124.5 1602.0,1124.5 1603.0,1124.5 1604.0,1124.5 1605.0,1124.5 1606.0,1124.5 1607.0,1124.5 1608.0,1124.5 1609.0,1124.5 1610.0,1124.5 1611.0,1124.5 1612.0,1124.5 1613.0,1124.5 1614.0,1124.5 1615.0,1124.5 1616.0,1124.5 1617.0,1124.5 1618.0,1124.5 1619.0,1124.4 1620.0,1124.4 1621.0,1124.4 1622.0,1124.4 1623.0,1124.4 1624.0,1124.4 1625.0,1124.4 1626.0,1124.4 1627.0,1124.4 1628.0,1124.4 1629.0,1124.4 1630.0,1124.4 1631.0,1124.4 1632.0,1124.4 1633.0,1124.4 1634.0,1124.4 1635.0,1124.4 1636.0,1124.4 1637.0,1124.4 1638.0,1124.4 1639.0,1124.4 1640.0,1124.4 1641.0,1124.4 1642.0,1124.4 1643.0,1124.4 1644.0,1124.4 1645.0,1124.4 1646.0,1124.4 1647.0,1124.4 1648.0,1124.4 1649.0,1124.4 1650.0,1124.4 1651.0,1124.4 1652.0,1124.4 1653.0,1124.4 1654.0,1124.4 1655.0,1124.4 1656.0,1124.4 1657.0,1124.4 1658.0,1124.4 1659.0,1124.4 1660.0,1124.4 1661.0,1124.4 1662.0,1124.4 1663.0,1124.4 1664.0,1124.4 1665.0,1124.4 1666.0,1124.4 1667.0,1124.4 1668.0,1124.4 1669.0,1124.4 1670.0,1124.4 1671.0,1124.4 1672.0,1124.4 1673.0,1124.4 1674.0,1124.4 1675.0,1124.4 1676.0,1124.4 1677.0,1124.4 1678.0,1124.4 1679.0,1124.4 1680.0,1124.4 1681.0,1124.4 1682.0,1124.4 1683.0,1124.4 1684.0,1124.4 1685.0,1124.4 1686.0,1124.4 1687.0,1124.4 1688.0,1124.4 1689.0,1124.4 1690.0,1124.4 1691.0,1124.4 1692.0,1124.3 1693.0,1124.3 1694.0,1124.3 1695.0,1124.3 1696.0,1124.3 1697.0,1124.3 1698.0,1124.3 1699.0,1124.3 1700.0,1124.3 1701.0,1124.3 1702.0,1124.3 1703.0,1124.3 1704.0,1124.3 1705.0,1124.3 1706.0,1124.3 1707.0,1124.3 1708.0,1124.3 1709.0,1124.3 1710.0,1124.3 1711.0,1124.3 1712.0,1124.2 1713.0,1124.2 1714.0,1124.2 1715.0,1124.2 1716.0,1124.2 1717.0,1124.2 1718.0,1124.2 1719.0,1124.2 1720.0,1124.2 1721.0,1124.2 1722.0,1124.1 1723.0,1124.1 1724.0,1124.1 1725.0,1124.1 1726.0,1124.1 1727.0,1124.1 1728.0,1124.1 1729.0,1124.0 1730.0,1124.0 1731.0,1124.0 1732.0,1124.0 1733.0,1124.0 1734.0,1123.9 1735.0,1123.9 1736.0,1123.9 1737.0,1123.8 1738.0,1123.8 1739.0,1123.8 1740.0,1123.7 1741.0,1123.7 1742.0,1123.6 1743.0,1123.6 1744.0,1123.5 1745.0,1123.5 1746.0,1123.4 1747.0,1123.3 1748.0,1123.2 1749.0,1123.1 1750.0,1122.9 1751.0,1122.8 1752.0,1122.6 1753.0,1122.4 1754.0,1122.1 1755.0,1121.8 1756.0,1121.4 1757.0,1121.0 1758.0,1120.6 1759.0,1120.0 1760.0,1119.4 1761.0,1118.8 1762.0,1118.0 1763.0,1117.2 1764.0,1116.4 1765.0,1115.4 1766.0,1114.5 1767.0,1113.5 1768.0,1112.4 1769.0,1111.4 1770.0,1110.5 1771.0,1109.6 1772.0,1108.8 1773.0,1108.2 1774.0,1107.7 1775.0,1107.5 1776.0,1107.5 1777.0,1107.8 1778.0,1108.3 1779.0,1108.9 1780.0,1109.7 1781.0,1110.6 1782.0,1111.6 1783.0,1112.6 1784.0,1113.7 1785.0,1114.7 1786.0,1115.6 1787.0,1116.5 1788.0,1117.4 1789.0,1118.2 1790.0,1118.9 1791.0,1119.6 1792.0,1120.1 1793.0,1120.7 1794.0,1121.1 1795.0,1121.5 1796.0,1121.9 1797.0,1122.2 1798.0,1122.4 1799.0,1122.6 1800.0,1122.8 1801.0,1123.0 1802.0,1123.1 1803.0,1123.2 1804.0,1123.3 1805.0,1123.4 1806.0,1123.5 1807.0,1123.5 1808.0,1123.6 1809.0,1123.7 1810.0,1123.7 1811.0,1123.7 1812.0,1123.8 1813.0,1123.8 1814.0,1123.9 1815.0,1123.9 1816.0,1123.9 1817.0,1123.9 1818.0,1124.0 1819.0,1124.0 1820.0,1124.0 1821.0,1124.0 1822.0,1124.0 1823.0,1124.1 1824.0,1124.1 1825.0,1124.1 1826.0,1124.1 1827.0,1124.1 1828.0,1124.1 1829.0,1124.2 1830.0,1124.2 1831.0,1124.2 1832.0,1124.2 1833.0,1124.2 1834.0,1124.2 1835.0,1124.2 1836.0,1124.2 1837.0,1124.2 1838.0,1124.2 1839.0,1124.2 1840.0,1124.3 1841.0,1124.3 1842.0,1124.3 1843.0,1124.3 1844.0,1124.3 1845.0,1124.3 1846.0,1124.3 1847.0,1124.3 1848.0,1124.3 1849.0,1124.3 1850.0,1124.3 1851.0,1124.3 1852.0,1124.3 1853.0,1124.3 1854.0,1124.3 1855.0,1124.3 1856.0,1124.3 1857.0,1124.3 1858.0,1124.3 1859.0,1124.4 1860.0,1124.4 1861.0,1124.4 1862.0,1124.4 1863.0,1124.4 1864.0,1124.4 1865.0,1124.4 1866.0,1124.4 1867.0,1124.4 1868.0,1124.4 1869.0,1124.4 1870.0,1124.4 1871.0,1124.4 1872.0,1124.4 1873.0,1124.4 1874.0,1124.4 1875.0,1124.4 1876.0,1124.4 1877.0,1124.4 1878.0,1124.4 1879.0,1124.4 1880.0,1124.4 1881.0,1124.4 1882.0,1124.4 1883.0,1124.4 1884.0,1124.4 1885.0,1124.4 1886.0,1124.4 1887.0,1124.4 1888.0,1124.4 1889.0,1124.4 1890.0,1124.4 1891.0,1124.4 1892.0,1124.4 1893.0,1124.4 1894.0,1124.4 1895.0,1124.4 1896.0,1124.4 1897.0,1124.4 1898.0,1124.4 1899.0,1124.4 1900.0,1124.4 1901.0,1124.4 1902.0,1124.4 1903.0,1124.4 1904.0,1124.4 1905.0,1124.4 1906.0,1124.4 1907.0,1124.4 1908.0,1124.4 1909.0,1124.4 1910.0,1124.4 1911.0,1124.4 1912.0,1124.4 1913.0,1124.4 1914.0,1124.4 1915.0,1124.4 1916.0,1124.4 1917.0,1124.4 1918.0,1124.4 1919.0,1124.4 1920.0,1124.4 1921.0,1124.4 1922.0,1124.4 1923.0,1124.4 1924.0,1124.4 1925.0,1124.5"/>
<polyline stroke="#ff00ff" stroke-width="5.6" points="196.0,1019.5 197.0,1019.6 198.0,1019.2 199.0,1019.7 200.0,1019.3 201.0,1019.0 202.0,1019.3 203.0,1019.6 204.0,1019.6 205.0,1019.1 206.0,1019.6 207.0,1019.4 208.0,1019.6 209.0,1019.6 210.0,1019.1 211.0,1019.6 212.0,1019.3 213.0,1019.9 214.0,1019.7 215.0,1019.5 216.0,1019.2 217.0,1019.5 218.0,1019.5 219.0,1019.1 220.0,1020.1 221.0,1019.6 222.0,1020.0 223.0,1019.2 224.0,1020.0 225.0,1019.1 226.0,1019.3 227.0,1019.7 228.0,1019.5 229.0,1018.8 230.0,1019.2 231.0,1019.8 232.0,1020.1 233.0,1019.8 234.0,1019.4 235.0,1019.8 236.0,1019.2 237.0,1019.7 238.0,1019.1 239.0,1019.5 240.0,1019.5 241.0,1019.8 242.0,1019.4 243.0,1019.9 244.0,1019.5 245.0,1019.8 246.0,1019.8 247.0,1019.0 248.0,1019.6 249.0,1019.6 250.0,1019.3 251.0,1019.6 252.0,1019.1 253.0,1019.7 254.0,1019.7 255.0,1019.7 256.0,1020.3 257.0,1019.7 258.0,1019.6 259.0,1019.4 260.0,1019.7 261.0,1019.3 262.0,1020.0 263.0,1019.4 264.0,1019.7 265.0,1020.2 266.0,1020.0 267.0,1019.7 268.0,1020.1 269.0,1019.6 270.0,1019.9 271.0,1019.7 272.0,1019.4 273.0,1019.8 274.0,1020.0 275.0,1019.6 276.0,1019.4 277.0,1019.5 278.0,1019.0 279.0,1019.5 280.0,1019.4 281.0,1020.3 282.0,1019.6 283.0,1019.3 284.0,1020.0 285.0,1019.7 286.0,1019.8 287.0,1019.8 288.0,1019.8 289.0,1019.7 290.0,1020.1 291.0,1019.9 292.0,1019.6 293.0,1019.7 294.0,1019.5 295.0,1019.9 296.0,1020.0 297.0,1020.0 298.0,1020.0 299.0,1019.8 300.0,1020.3 301.0,1019.8 302.0,1019.9 303.0,1019.8 304.0,1019.9 305.0,1019.8 306.0,1020.5 307.0,1020.0 308.0,1019.4 309.0,1019.8 310.0,1019.5 311.0,1020.2 312.0,1020.3 313.0,1019.8 314.0,1020.1 315.0,1019.9 316.0,1020.1 317.0,1020.5 318.0,1019.9 319.0,1019.6 320.0,1020.2 321.0,1020.2 322.0,1020.2 323.0,1020.3 324.0,1019.8 325.0,1019.5 326.0,1020.4 327.0,1019.9 328.0,1019.7 329.0,1019.7 330.0,1020.4 331.0,1020.2 332.0,1020.2 333.0,1020.4 334.0,1019.9 335.0,1019.8 336.0,1019.9 337.0,1019.8 338.0,1020.1 339.0,1019.9 340.0,1020.2 341.0,1020.1 342.0,1020.2 343.0,1020.4 344.0,1020.7 345.0,1020.7 346.0,1020.3 347.0,1020.3 348.0,1020.1 349.0,1020.6 350.0,1020.8 351.0,1020.1 352.0,1020.6 353.0,1020.2 354.0,1020.3 355.0,1020.4 356.0,1020.2 357.0,1020.6 358.0,1019.9 359.0,1020.2 360.0,1020.4 361.0,1020.1 362.0,1020.5 363.0,1020.0 364.0,1020.5 365.0,1020.0 366.0,1020.4 367.0,1020.6 368.0,1021.2 369.0,1020.8 370.0,1021.0 371.0,1020.6 372.0,1021.2 373.0,1020.5 374.0,1020.5 375.0,1020.2 376.0,1020.7 377.0,1020.9 378.0,1020.4 379.0,1020.5 380.0,1020.5 381.0,1020.6 382.0,1020.5 383.0,1020.3 384.0,1021.1 385.0,1020.1 386.0,1020.5 387.0,1020.9 388.0,1021.1 389.0,1020.7 390.0,1020.7 391.0,1020.8 392.0,1020.7 393.0,1021.1 394.0,1020.7 395.0,1020.6 396.0,1020.7 397.0,1020.9 398.0,1021.3 399.0,1021.4 400.0,1020.8 401.0,1020.5 402.0,1020.5 403.0,1021.6 404.0,1020.9 405.0,1021.2 406.0,1021.6 407.0,1020.9 408.0,1021.1 409.0,1021.0 410.0,1020.8 411.0,1021.5 412.0,1021.6 413.0,1020.7 414.0,1021.6 415.0,1021.3 416.0,1021.5 417.0,1021.5 418.0,1021.1 419.0,1021.5 420.0,1021.3 421.0,1022.2 422.0,1022.4 423.0,1021.8 424.0,1021.5 425.0,1022.2 426.0,1021.9 427.0,1022.5 428.0,1022.7 429.0,1022.6 430.0,1022.1 431.0,1022.0 432.0,1022.1 433.0,1022.4 434.0,1022.2 435.0,1022.9 436.0,1022.8 437.0,1022.7 438.0,1022.6 439.0,1023.0 440.0,1023.3 441.0,1022.4 442.0,1023.1 443.0,1023.0 444.0,1023.0 445.0,1023.2 446.0,1023.4 447.0,1024.0 448.0,1023.5 449.0,1023.5 450.0,1023.3 451.0,1024.0 452.0,1023.6 453.0,1023.9 454.0,1024.2 455.0,1024.1 456.0,1024.0 457.0,1024.2 458.0,1024.6 459.0,1024.4 460.0,1024.5 461.0,1024.6 462.0,1024.5 463.0,1024.8 464.0,1024.7 465.0,1025.2 466.0,1025.0 467.0,1024.4 468.0,1025.0 469.0,1025.4 470.0,1025.1 471.0,1025.1 472.0,1025.6 473.0,1025.1 474.0,1025.5 475.0,1025.7 476.0,1025.9 477.0,1025.4 478.0,1025.4 479.0,1026.3 480.0,1025.6 481.0,1025.9 482.0,1026.7 483.0,1025.9 484.0,1025.5 485.0,1027.0 486.0,1026.5 487.0,1026.4 488.0,1027.2 489.0,1026.4 490.0,1026.9 491.0,1026.5 492.0,1026.5 493.0,1026.8 494.0,1026.9 495.0,1027.1 496.0,1027.1 497.0,1026.6 498.0,1026.8 499.0,1027.4 500.0,1027.1 501.0,1027.0 502.0,1027.4 503.0,1027.4 504.0,1027.4 505.0,1026.9 506.0,1027.0 507.0,1027.4 508.0,1027.5 509.0,1026.8 510.0,1027.1 511.0,1027.2 512.0,1027.6 513.0,1027.0 514.0,1028.2 515.0,1027.4 516.0,1027.6 517.0,1028.1 518.0,1027.7 519.0,1027.7 520.0,1027.5 521.0,1027.7 522.0,1027.3 523.0,1027.6 524.0,1027.7 525.0,1027.4 526.0,1028.0 527.0,1027.9 528.0,1027.2 529.0,1028.0 530.0,1027.6 531.0,1028.0 532.0,1027.7 533.0,1027.8 534.0,1028.1 535.0,1028.6 536.0,1027.6 537.0,1027.9 538.0,1028.0 539.0,1028.4 540.0,1028.0 541.0,1028.3 542.0,1028.6 543.0,1028.4 544.0,1028.1 545.0,1028.1 546.0,1028.2 547.0,1028.4 548.0,1028.1 549.0,1028.3 550.0,1028.6 551.0,1028.3 552.0,1028.3 553.0,1028.5 554.0,1028.7 555.0,1028.1 556.0,1028.2 557.0,1028.9 558.0,1028.6 559.0,1028.3 560.0,1028.7 561.0,1029.1 562.0,1028.5 563.0,1028.4 564.0,1028.7 565.0,1029.2 566.0,1028.6 567.0,1029.0 568.0,1029.1 569.0,1029.0 570.0,1028.8 571.0,1029.1 572.0,1029.0 573.0,1029.2 574.0,1029.1 575.0,1029.0 576.0,1028.5 577.0,1029.2 578.0,1029.0 579.0,1028.4 580.0,1029.1 581.0,1029.2 582.0,1029.1 583.0,1028.4 584.0,1029.0 585.0,1028.9 586.0,1029.1 587.0,1028.5 588.0,1029.3 589.0,1029.4 590.0,1029.5 591.0,1029.3 592.0,1029.3 593.0,1029.6 594.0,1029.5 595.0,1029.3 596.0,1029.5 597.0,1029.6 598.0,1029.8 599.0,1029.6 600.0,1029.2 601.0,1029.4 602.0,1029.6 603.0,1029.6 604.0,1029.9 605.0,1029.0 606.0,1029.4 607.0,1029.3 608.0,1029.9 609.0,1029.9 610.0,1029.8 611.0,1029.9 612.0,1029.5 613.0,1029.9 614.0,1029.7 615.0,1029.8 616.0,1029.7 617.0,1030.1 618.0,1030.1 619.0,1029.4 620.0,1029.7 621.0,1029.9 622.0,1030.0 623.0,1029.4 624.0,1029.6 625.0,1029.8 626.0,1030.4 627.0,1029.7 628.0,1029.8 629.0,1030.0 630.0,1029.9 631.0,1030.0 632.0,1030.0 633.0,1030.0 634.0,1030.1 635.0,1030.1 636.0,1030.2 637.0,1030.2 638.0,1029.7 639.0,1030.2 640.0,1030.2 641.0,1030.4 642.0,1030.3 643.0,1030.6 644.0,1029.9 645.0,1030.1 646.0,1030.3 647.0,1030.0 648.0,1030.1 649.0,1030.1 650.0,1030.1 651.0,1030.9 652.0,1030.2 653.0,1030.7 654.0,1030.0 655.0,1030.4 656.0,1030.1 657.0,1030.4 658.0,1030.8 659.0,1030.9 660.0,1030.6 661.0,1030.5 662.0,1030.4 663.0,1030.5 664.0,1030.8 665.0,1029.9 666.0,1030.3 667.0,1030.2 668.0,1030.8 669.0,1030.1 670.0,1030.7 671.0,1030.1 672.0,1030.2 673.0,1031.0 674.0,1030.8 675.0,1030.3 676.0,1030.0 677.0,1030.3 678.0,1030.7 679.0,1030.6 680.0,1030.3 681.0,1030.7 682.0,1031.0 683.0,1030.3 684.0,1030.6 685.0,1030.4 686.0,1031.0 687.0,1030.7 688.0,1030.5 689.0,1030.2 690.0,1030.9 691.0,1030.6 692.0,1030.7 693.0,1030.6 694.0,1030.8 695.0,1030.2 696.0,1030.5 697.0,1030.8 698.0,1031.3 699.0,1030.8 700.0,1030.7 701.0,1030.6 702.0,1030.6 703.0,1030.7 704.0,1030.5 705.0,1030.8 706.0,1030.8 707.0,1031.4 708.0,1030.8 709.0,1031.1 710.0,1030.7 711.0,1031.1 712.0,1031.6 713.0,1030.7 714.0,1030.5 715.0,1031.2 716.0,1030.9 717.0,1030.8 718.0,1031.0 719.0,1031.0 720.0,1031.2 721.0,1031.0 722.0,1030.7 723.0,1030.6 724.0,1030.4 725.0,1030.6 726.0,1031.2 727.0,1030.5 728.0,1030.9 729.0,1031.3 730.0,1031.1 731.0,1031.4 732.0,1031.2 733.0,1031.4 734.0,1030.8 735.0,1030.7 736.0,1031.5 737.0,1031.1 738.0,1031.0 739.0,1030.8 740.0,1031.4 741.0,1031.1 742.0,1031.1 743.0,1030.8 744.0,1031.0 745.0,1030.8 746.0,1030.9 747.0,1031.1 748.0,1030.8 749.0,1030.7 750.0,1031.2 751.0,1030.7 752.0,1031.4 753.0,1031.4 754.0,1030.6 755.0,1031.5 756.0,1030.7 757.0,1031.4 758.0,1030.8 759.0,1031.2 760.0,1030.7 761.0,1031.2 762.0,1031.0 763.0,1031.4 764.0,1031.2 765.0,1030.7 766.0,1031.1 767.0,1030.8 768.0,1031.0 769.0,1031.4 770.0,1031.4 771.0,1031.0 772.0,1030.7 773.0,1030.9 774.0,1031.5 775.0,1030.9 776.0,1030.5 777.0,1030.5 778.0,1030.5 779.0,1031.2 780.0,1030.8 781.0,1030.6 782.0,1030.9 783.0,1031.1 784.0,1030.8 785.0,1030.5 786.0,1030.8 787.0,1031.0 788.0,1030.2 789.0,1030.3 790.0,1031.3 791.0,1030.8 792.0,1030.7 793.0,1030.2 794.0,1030.3 795.0,1030.5 796.0,1030.9 797.0,1030.5 798.0,1030.0 799.0,1030.9 800.0,1030.9 801.0,1030.6 802.0,1030.0 803.0,1030.1 804.0,1030.1 805.0,1030.2 806.0,1030.6 807.0,1029.6 808.0,1029.8 809.0,1029.9 810.0,1029.7 811.0,1029.6 812.0,1029.3 813.0,1029.7 814.0,1029.5 815.0,1029.5 816.0,1029.7 817.0,1029.2 818.0,1029.2 819.0,1029.2 820.0,1028.9 821.0,1029.0 822.0,1028.3 823.0,1028.4 824.0,1028.7 825.0,1028.5 826.0,1028.6 827.0,1027.8 828.0,1027.9 829.0,1027.9 830.0,1027.7 831.0,1027.6 832.0,1027.9 833.0,1027.2 834.0,1027.0 835.0,1027.1 836.0,1026.9 837.0,1026.6 838.0,1026.9 839.0,1026.4 840.0,1026.0 841.0,1025.5 842.0,1026.0 843.0,1025.2 844.0,1025.3 845.0,1024.8 846.0,1025.4 847.0,1024.7 848.0,1023.8 849.0,1024.1 850.0,1023.4 851.0,1023.4 852.0,1023.5 853.0,1022.7 854.0,1022.9 855.0,1022.5 856.0,1022.5 857.0,1021.7 858.0,1021.9 859.0,1021.4 860.0,1021.5 861.0,1020.9 862.0,1020.9 863.0,1020.8 864.0,1020.4 865.0,1019.8 866.0,1019.8 867.0,1019.3 868.0,1019.1 869.0,1019.2 870.0,1018.2 871.0,1017.8 872.0,1018.1 873.0,1017.5 874.0,1017.8 875.0,1017.4 876.0,1017.1 877.0,1016.7 878.0,1016.3 879.0,1015.9 880.0,1015.8 881.0,1015.7 882.0,1015.2 883.0,1015.6 884.0,1015.3 885.0,1014.5 886.0,1013.9 887.0,1014.8 888.0,1014.0 889.0,1013.3 890.0,1013.5 891.0,1013.9 892.0,1014.1 893.0,1013.8 894.0,1013.8 895.0,1013.7 896.0,1013.5 897.0,1012.5 898.0,1012.5 899.0,1012.1 900.0,1012.0 901.0,1011.6 902.0,1011.4 903.0,1011.4 904.0,1010.1 905.0,1009.9 906.0,1008.6 907.0,1007.6 908.0,1007.2 909.0,1005.6 910.0,1004.2 911.0,1002.9 912.0,1000.1 913.0,998.2 914.0,995.9 915.0,992.1 916.0,989.0 917.0,985.3 918.0,980.9 919.0,975.9 920.0,970.6 921.0,964.5 922.0,958.1 923.0,951.0 924.0,943.0 925.0,935.3 926.0,926.7 927.0,918.2 928.0,908.7 929.0,899.1 930.0,889.3 931.0,879.6 932.0,869.5 933.0,860.1 934.0,850.4 935.0,841.6 936.0,833.0 937.0,826.3 938.0,819.1 939.0,812.9 940.0,808.5 941.0,805.4 942.0,803.2 943.0,803.1 944.0,803.8 945.0,805.9 946.0,807.8 947.0,812.9 948.0,817.9 949.0,824.1 950.0,830.4 951.0,837.7 952.0,845.6 953.0,854.5 954.0,863.2 955.0,871.7 956.0,881.2 957.0,890.6 958.0,899.4 959.0,908.7 960.0,917.6 961.0,926.1 962.0,934.1 963.0,942.9 964.0,950.2 965.0,957.5 966.0,964.0 967.0,970.5 968.0,976.2 969.0,981.8 970.0,986.9 971.0,991.6 972.0,995.4 973.0,999.2 974.0,1003.2 975.0,1005.5 976.0,1008.7 977.0,1011.1 978.0,1013.5 979.0,1015.1 980.0,1016.6 981.0,1018.5 982.0,1019.3 983.0,1020.6 984.0,1021.9 985.0,1022.8 986.0,1023.2 987.0,1024.6 988.0,1024.9 989.0,1025.8 990.0,1026.2 991.0,1026.3 992.0,1026.5 993.0,1026.5 994.0,1027.6 995.0,1028.0 996.0,1027.8 997.0,1028.0 998.0,1027.9 999.0,1028.1 1000.0,1028.5 1001.0,1029.1 1002.0,1028.8 1003.0,1029.2 1004.0,1029.2 1005.0,1029.2 1006.0,1029.1 1007.0,1029.4 1008.0,1029.2 1009.0,1029.9 1010.0,1029.9 1011.0,1029.6 1012.0,1029.7 1013.0,1029.6 1014.0,1030.1 1015.0,1030.3 1016.0,1029.8 1017.0,1030.0 1018.0,1030.2 1019.0,1029.6 1020.0,1030.1 1021.0,1030.4 1022.0,1030.3 1023.0,1029.6 1024.0,1029.5 1025.0,1029.5 1026.0,1029.3 1027.0,1029.3 1028.0,1028.7 1029.0,1028.5 1030.0,1028.3 1031.0,1028.5 1032.0,1027.6 1033.0,1028.1 1034.0,1027.8 1035.0,1027.8 1036.0,1027.4 1037.0,1027.8 1038.0,1027.6 1039.0,1027.3 1040.0,1028.4 1041.0,1028.2 1042.0,1028.9 1043.0,1028.8 1044.0,1029.4 1045.0,1029.8 1046.0,1029.7 1047.0,1030.5 1048.0,1030.6 1049.0,1030.4 1050.0,1031.9 1051.0,1031.7 1052.0,1031.9 1053.0,1032.0 1054.0,1032.4 1055.0,1032.1 1056.0,1032.6 1057.0,1032.8 1058.0,1032.4 1059.0,1032.7 1060.0,1032.8 1061.0,1032.4 1062.0,1033.0 1063.0,1032.9 1064.0,1033.3 1065.0,1033.1 1066.0,1032.8 1067.0,1033.1 1068.0,1033.0 1069.0,1032.5 1070.0,1033.2 1071.0,1032.9 1072.0,1033.7 1073.0,1033.4 1074.0,1033.6 1075.0,1033.5 1076.0,1033.4 1077.0,1033.7 1078.0,1033.1 1079.0,1033.8 1080.0,1033.6 1081.0,1033.1 1082.0,1033.6 1083.0,1033.9 1084.0,1033.6 1085.0,1034.2 1086.0,1034.2 1087.0,1033.7 1088.0,1033.7 1089.0,1033.9 1090.0,1033.8 1091.0,1034.2 1092.0,1034.4 1093.0,1034.3 1094.0,1034.3 1095.0,1034.1 1096.0,1034.2 1097.0,1034.0 1098.0,1035.0 1099.0,1034.6 1100.0,1034.5 1101.0,1034.2 1102.0,1034.0 1103.0,1034.2 1104.0,1034.4 1105.0,1034.4 1106.0,1034.7 1107.0,1034.5 1108.0,1034.8 1109.0,1034.8 1110.0,1034.9 1111.0,1034.7 1112.0,1035.0 1113.0,1034.8 1114.0,1034.9 1115.0,1034.8 1116.0,1034.9 1117.0,1035.0 1118.0,1035.2 1119.0,1034.8 1120.0,1035.0 1121.0,1035.1 1122.0,1035.4 1123.0,1035.1 1124.0,1035.4 1125.0,1035.5 1126.0,1035.3 1127.0,1035.7 1128.0,1035.0 1129.0,1034.9 1130.0,1035.0 1131.0,1035.2 1132.0,1035.3 1133.0,1035.4 1134.0,1035.6 1135.0,1035.4 1136.0,1035.4 1137.0,1035.8 1138.0,1035.6 1139.0,1035.7 1140.0,1035.6 1141.0,1035.3 1142.0,1035.7 1143.0,1035.7 1144.0,1035.9 1145.0,1035.8 1146.0,1035.6 1147.0,1036.3 1148.0,1035.6 1149.0,1035.4 1150.0,1035.8 1151.0,1035.9 1152.0,1036.2 1153.0,1035.9 1154.0,1036.1 1155.0,1036.2 1156.0,1036.4 1157.0,1035.7 1158.0,1036.3 1159.0,1035.9 1160.0,1036.6 1161.0,1036.1 1162.0,1036.1 1163.0,1036.5 1164.0,1036.4 1165.0,1036.4 1166.0,1036.6 1167.0,1036.3 1168.0,1036.3 1169.0,1036.8 1170.0,1036.4 1171.0,1036.6 1172.0,1036.2 1173.0,1036.6 1174.0,1036.6 1175.0,1036.8 1176.0,1037.4 1177.0,1036.2 1178.0,1036.5 1179.0,1036.7 1180.0,1036.8 1181.0,1036.4 1182.0,1036.8 1183.0,1036.6 1184.0,1036.9 1185.0,1036.6 1186.0,1037.8 1187.0,1037.0 1188.0,1037.2 1189.0,1036.3 1190.0,1036.8 1191.0,1037.0 1192.0,1037.6 1193.0,1036.8 1194.0,1037.2 1195.0,1036.9 1196.0,1037.1 1197.0,1036.6 1198.0,1036.6 1199.0,1037.0 1200.0,1037.5 1201.0,1037.5 1202.0,1037.2 1203.0,1036.9 1204.0,1037.6 1205.0,1037.2 1206.0,1037.1 1207.0,1037.2 1208.0,1037.3 1209.0,1037.9 1210.0,1037.4 1211.0,1037.3 1212.0,1037.3 1213.0,1037.0 1214.0,1037.8 1215.0,1037.2 1216.0,1037.5 1217.0,1037.2 1218.0,1037.3 1219.0,1036.9 1220.0,1037.6 1221.0,1038.2 1222.0,1038.1 1223.0,1037.7 1224.0,1038.0 1225.0,1037.4 1226.0,1037.3 1227.0,1038.0 1228.0,1037.4 1229.0,1038.3 1230.0,1038.1 1231.0,1037.3 1232.0,1037.6 1233.0,1037.6 1234.0,1037.9 1235.0,1037.6 1236.0,1037.7 1237.0,1037.3 1238.0,1038.2 1239.0,1038.0 1240.0,1037.8 1241.0,1037.3 1242.0,1037.8 1243.0,1038.6 1244.0,1037.9 1245.0,1038.1 1246.0,1037.1 1247.0,1037.7 1248.0,1037.7 1249.0,1038.1 1250.0,1037.5 1251.0,1038.0 1252.0,1038.1 1253.0,1037.8 1254.0,1037.7 1255.0,1037.9 1256.0,1037.5 1257.0,1037.3 1258.0,1037.3 1259.0,1037.8 1260.0,1037.7 1261.0,1037.7 1262.0,1037.6 1263.0,1037.7 1264.0,1038.3 1265.0,1037.7 1266.0,1037.5 1267.0,1037.4 1268.0,1037.5 1269.0,1037.9 1270.0,1037.7 1271.0,1037.7 1272.0,1037.7 1273.0,1037.3 1274.0,1037.5 1275.0,1037.6 1276.0,1037.6 1277.0,1037.8 1278.0,1038.0 1279.0,1037.6 1280.0,1037.9 1281.0,1037.9 1282.0,1037.6 1283.0,1037.9 1284.0,1038.1 1285.0,1037.3 1286.0,1037.9 1287.0,1037.9 1288.0,1037.9 1289.0,1037.3 1290.0,1038.1 1291.0,1037.7 1292.0,1037.5 1293.0,1037.3 1294.0,1037.9 1295.0,1037.7 1296.0,1037.4 1297.0,1038.3 1298.0,1037.4 1299.0,1038.0 1300.0,1037.5 1301.0,1037.7 1302.0,1038.0 1303.0,1037.7 1304.0,1038.0 1305.0,1037.8 1306.0,1038.3 1307.0,1038.0 1308.0,1038.0 1309.0,1037.6 1310.0,1037.7 1311.0,1037.9 1312.0,1038.3 1313.0,1038.3 1314.0,1037.9 1315.0,1038.2 1316.0,1037.9 1317.0,1037.9 1318.0,1037.8 1319.0,1037.7 1320.0,1038.0 1321.0,1038.8 1322.0,1037.7 1323.0,1038.2 1324.0,1038.1 1325.0,1037.9 1326.0,1038.1 1327.0,1037.7 1328.0,1037.9 1329.0,1038.3 1330.0,1038.3 1331.0,1037.8 1332.0,1037.8 1333.0,1037.4 1334.0,1038.1 1335.0,1037.7 1336.0,1037.6 1337.0,1037.9 1338.0,1037.8 1339.0,1037.4 1340.0,1038.2 1341.0,1037.3 1342.0,1037.3 1343.0,1038.1 1344.0,1037.7 1345.0,1037.3 1346.0,1038.1 1347.0,1038.1 1348.0,1037.8 1349.0,1037.8 1350.0,1037.9 1351.0,1038.1 1352.0,1037.8 1353.0,1037.5 1354.0,1037.8 1355.0,1037.7 1356.0,1037.3 1357.0,1037.7 1358.0,1037.5 1359.0,1037.9 1360.0,1038.2 1361.0,1038.0 1362.0,1038.7 1363.0,1038.0 1364.0,1037.9 1365.0,1037.6 1366.0,1038.1 1367.0,1037.9 1368.0,1037.3 1369.0,1037.6 1370.0,1038.0 1371.0,1037.7 1372.0,1038.0 1373.0,1037.9 1374.0,1038.4 1375.0,1037.4 1376.0,1037.8 1377.0,1037.4 1378.0,1037.6 1379.0,1038.4 1380.0,1038.1 1381.0,1038.0 1382.0,1037.8 1383.0,1037.8 1384.0,1038.5 1385.0,1037.5 1386.0,1038.2 1387.0,1038.2 1388.0,1037.6 1389.0,1037.9 1390.0,1037.6 1391.0,1037.9 1392.0,1038.1 1393.0,1037.9 1394.0,1038.2 1395.0,1038.1 1396.0,1037.2 1397.0,1038.1 1398.0,1037.5 1399.0,1037.0 1400.0,1037.7 1401.0,1037.7 1402.0,1038.5 1403.0,1038.2 1404.0,1038.1 1405.0,1037.9 1406.0,1038.1 1407.0,1037.6 1408.0,1038.2 1409.0,1037.7 1410.0,1037.8 1411.0,1037.9 1412.0,1037.6 1413.0,1038.7 1414.0,1037.9 1415.0,1037.7 1416.0,1037.6 1417.0,1037.7 1418.0,1037.8 1419.0,1038.0 1420.0,1037.4 1421.0,1037.7 1422.0,1038.4 1423.0,1037.9 1424.0,1037.9 1425.0,1037.7 1426.0,1037.8 1427.0,1037.9 1428.0,1038.3 1429.0,1038.3 1430.0,1037.7 1431.0,1037.6 1432.0,1038.0 1433.0,1037.7 1434.0,1038.1 1435.0,1038.2 1436.0,1037.6 1437.0,1037.2 1438.0,1037.4 1439.0,1037.8 1440.0,1037.5 1441.0,1037.9 1442.0,1037.9 1443.0,1037.8 1444.0,1037.8 1445.0,1037.6 1446.0,1038.0 1447.0,1037.3 1448.0,1038.0 1449.0,1038.5 1450.0,1038.2 1451.0,1037.8 1452.0,1037.7 1453.0,1037.9 1454.0,1037.8 1455.0,1038.3 1456.0,1037.7 1457.0,1037.8 1458.0,1037.5 1459.0,1038.0 1460.0,1037.4 1461.0,1038.1 1462.0,1038.0 1463.0,1037.4 1464.0,1037.9 1465.0,1037.7 1466.0,1037.7 1467.0,1037.4 1468.0,1037.3 1469.0,1037.4 1470.0,1037.3 1471.0,1037.8 1472.0,1037.5 1473.0,1038.5 1474.0,1037.9 1475.0,1038.2 1476.0,1037.6 1477.0,1038.3 1478.0,1037.7 1479.0,1038.1 1480.0,1037.9 1481.0,1038.0 1482.0,1037.5 1483.0,1037.5 1484.0,1038.1 1485.0,1038.0 1486.0,1037.6 1487.0,1038.0 1488.0,1037.8 1489.0,1037.6 1490.0,1038.4 1491.0,1037.1 1492.0,1037.7 1493.0,1038.1 1494.0,1037.9 1495.0,1038.4 1496.0,1038.0 1497.0,1038.0 1498.0,1037.6 1499.0,1038.3 1500.0,1037.6 1501.0,1037.7 1502.0,1037.7 1503.0,1038.0 1504.0,1037.6 1505.0,1037.8 1506.0,1037.6 1507.0,1037.3 1508.0,1037.6 1509.0,1038.4 1510.0,1037.7 1511.0,1037.9 1512.0,1038.6 1513.0,1037.6 1514.0,1038.0 1515.0,1038.2 1516.0,1037.5 1517.0,1038.3 1518.0,1038.1 1519.0,1037.4 1520.0,1037.8 1521.0,1037.4 1522.0,1038.6 1523.0,1038.4 1524.0,1037.8 1525.0,1037.6 1526.0,1037.9 1527.0,1037.4 1528.0,1037.7 1529.0,1037.4 1530.0,1037.7 1531.0,1037.9 1532.0,1037.9 1533.0,1038.0 1534.0,1037.6 1535.0,1038.0 1536.0,1037.8 1537.0,1037.9 1538.0,1038.2 1539.0,1037.8 1540.0,1037.5 1541.0,1038.0 1542.0,1037.5 1543.0,1037.8 1544.0,1037.7 1545.0,1037.1 1546.0,1037.3 1547.0,1037.5 1548.0,1037.9 1549.0,1038.0 1550.0,1037.8 1551.0,1038.5 1552.0,1038.0 1553.0,1037.3 1554.0,1037.9 1555.0,1037.4 1556.0,1037.5 1557.0,1037.7 1558.0,1037.7 1559.0,1037.8 1560.0,1038.0 1561.0,1038.1 1562.0,1037.6 1563.0,1037.8 1564.0,1038.1 1565.0,1037.4 1566.0,1038.0 1567.0,1037.9 1568.0,1037.6 1569.0,1038.1 1570.0,1037.8 1571.0,1037.9 1572.0,1038.2 1573.0,1037.7 1574.0,1037.4 1575.0,1037.6 1576.0,1037.4 1577.0,1038.0 1578.0,1037.6 1579.0,1037.6 1580.0,1037.5 1581.0,1038.0 1582.0,1037.8 1583.0,1037.9 1584.0,1037.8 1585.0,1037.5 1586.0,1037.4 1587.0,1038.0 1588.0,1037.6 1589.0,1037.9 1590.0,1037.3 1591.0,1037.6 1592.0,1037.5 1593.0,1037.4 1594.0,1037.8 1595.0,1037.9 1596.0,1037.6 1597.0,1038.3 1598.0,1037.6 1599.0,1037.2 1600.0,1037.8 1601.0,1037.2 1602.0,1037.5 1603.0,1037.7 1604.0,1038.0 1605.0,1037.8 1606.0,1037.4 1607.0,1038.0 1608.0,1037.7 1609.0,1038.0 1610.0,1038.0 1611.0,1037.6 1612.0,1037.4 1613.0,1037.8 1614.0,1037.6 1615.0,1037.5 1616.0,1037.6 1617.0,1037.3 1618.0,1037.2 1619.0,1037.4 1620.0,1037.6 1621.0,1037.4 1622.0,1037.7 1623.0,1037.7 1624.0,1037.6 1625.0,1037.2 1626.0,1037.0 1627.0,1037.2 1628.0,1037.1 1629.0,1037.7 1630.0,1037.6 1631.0,1036.9 1632.0,1037.3 1633.0,1037.3 1634.0,1037.1 1635.0,1037.3 1636.0,1037.1 1637.0,1037.2 1638.0,1037.3 1639.0,1037.4 1640.0,1037.0 1641.0,1037.5 1642.0,1037.0 1643.0,1037.1 1644.0,1037.2 1645.0,1036.9 1646.0,1037.3 1647.0,1037.0 1648.0,1036.9 1649.0,1037.6 1650.0,1037.0 1651.0,1037.0 1652.0,1036.4 1653.0,1037.0 1654.0,1037.5 1655.0,1036.9 1656.0,1036.9 1657.0,1037.2 1658.0,1037.2 1659.0,1037.3 1660.0,1037.1 1661.0,1036.8 1662.0,1036.6 1663.0,1037.0 1664.0,1036.9 1665.0,1036.9 1666.0,1036.5 1667.0,1036.5 1668.0,1037.1 1669.0,1036.5 1670.0,1036.8 1671.0,1036.5 1672.0,1036.0 1673.0,1036.6 1674.0,1036.1 1675.0,1036.9 1676.0,1036.2 1677.0,1036.1 1678.0,1036.2 1679.0,1036.1 1680.0,1036.0 1681.0,1035.9 1682.0,1036.3 1683.0,1036.0 1684.0,1036.1 1685.0,1035.8 1686.0,1035.9 1687.0,1035.4 1688.0,1036.0 1689.0,1035.2 1690.0,1034.8 1691.0,1034.8 1692.0,1034.8 1693.0,1034.9 1694.0,1035.4 1695.0,1034.4 1696.0,1034.8 1697.0,1034.2 1698.0,1034.8 1699.0,1034.4 1700.0,1034.6 1701.0,1033.8 1702.0,1033.9 1703.0,1033.8 1704.0,1033.2 1705.0,1033.1 1706.0,1032.7 1707.0,1032.5 1708.0,1032.3 1709.0,1031.9 1710.0,1032.3 1711.0,1031.7 1712.0,1031.2 1713.0,1031.2 1714.0,1031.0 1715.0,1030.6 1716.0,1030.7 1717.0,1030.0 1718.0,1029.8 1719.0,1030.0 1720.0,1028.9 1721.0,1028.7 1722.0,1028.4 1723.0,1027.6 1724.0,1027.5 1725.0,1027.4 1726.0,1027.3 1727.0,1026.2 1728.0,1026.1 1729.0,1025.5 1730.0,1025.0 1731.0,1024.3 1732.0,1024.4 1733.0,1023.2 1734.0,1023.5 1735.0,1022.9 1736.0,1022.5 1737.0,1021.9 1738.0,1021.1 1739.0,1020.5 1740.0,1020.6 1741.0,1020.2 1742.0,1019.6 1743.0,1018.9 1744.0,1018.9 1745.0,1018.9 1746.0,1017.6 1747.0,1017.0 1748.0,1016.8 1749.0,1017.0 1750.0,1015.8 1751.0,1015.5 1752.0,1015.2 1753.0,1014.8 1754.0,1014.7 1755.0,1014.1 1756.0,1013.5 1757.0,1013.6 1758.0,1013.3 1759.0,1013.6 1760.0,1013.2 1761.0,1013.2 1762.0,1012.5 1763.0,1012.4 1764.0,1012.3 1765.0,1012.1 1766.0,1011.5 1767.0,1012.2 1768.0,1012.1 1769.0,1012.6 1770.0,1012.5 1771.0,1012.3 1772.0,1012.8 1773.0,1012.7 1774.0,1013.7 1775.0,1013.7 1776.0,1013.8 1777.0,1014.1 1778.0,1015.5 1779.0,1016.0 1780.0,1016.2 1781.0,1017.7 1782.0,1017.5 1783.0,1018.8 1784.0,1018.7 1785.0,1019.7 1786.0,1020.1 1787.0,1021.5 1788.0,1021.9 1789.0,1022.3 1790.0,1023.0 1791.0,1023.5 1792.0,1024.1 1793.0,1024.2 1794.0,1025.4 1795.0,1026.2 1796.0,1026.1 1797.0,1026.4 1798.0,1026.9 1799.0,1027.5 1800.0,1028.5 1801.0,1028.8 1802.0,1028.6 1803.0,1029.9 1804.0,1029.7 1805.0,1030.3 1806.0,1030.3 1807.0,1030.4 1808.0,1031.0 1809.0,1031.1 1810.0,1031.6 1811.0,1031.7 1812.0,1031.5 1813.0,1032.2 1814.0,1032.1 1815.0,1032.5 1816.0,1032.8 1817.0,1032.8 1818.0,1033.0 1819.0,1033.4 1820.0,1032.9 1821.0,1032.9 1822.0,1032.8 1823.0,1033.5 1824.0,1033.0 1825.0,1033.5 1826.0,1033.8 1827.0,1033.1 1828.0,1033.8 1829.0,1033.1 1830.0,1033.7 1831.0,1033.5 1832.0,1033.0 1833.0,1033.5 1834.0,1034.0 1835.0,1033.5 1836.0,1033.2 1837.0,1033.8 1838.0,1033.8 1839.0,1033.2 1840.0,1033.6 1841.0,1033.1 1842.0,1033.1 1843.0,1033.7 1844.0,1033.7 1845.0,1034.0 1846.0,1033.7 1847.0,1033.4 1848.0,1033.8 1849.0,1033.2 1850.0,1033.3 1851.0,1033.5 1852.0,1033.3 1853.0,1033.3 1854.0,1033.1 1855.0,1033.6 1856.0,1033.8 1857.0,1033.7 1858.0,1033.9 1859.0,1033.6 1860.0,1033.5 1861.0,1032.9 1862.0,1033.3 1863.0,1032.8 1864.0,1033.5 1865.0,1033.3 1866.0,1033.1 1867.0,1033.0 1868.0,1032.9 1869.0,1033.1 1870.0,1033.0 1871.0,1033.2 1872.0,1032.7 1873.0,1032.9 1874.0,1033.5 1875.0,1032.4 1876.0,1032.8 1877.0,1032.6 1878.0,1033.0 1879.0,1033.1 1880.0,1032.8 1881.0,1032.7 1882.0,1032.8 1883.0,1033.1 1884.0,1032.6 1885.0,1032.7 1886.0,1033.1 1887.0,1032.4 1888.0,1032.3 1889.0,1032.9 1890.0,1033.1 1891.0,1032.9 1892.0,1033.3 1893.0,1032.3 1894.0,1032.4 1895.0,1032.7 1896.0,1031.8 1897.0,1032.4 1898.0,1033.1 1899.0,1032.8 1900.0,1032.1 1901.0,1033.1 1902.0,1032.8 1903.0,1032.4 1904.0,1032.2 1905.0,1032.5 1906.0,1032.7 1907.0,1032.3 1908.0,1032.0 1909.0,1032.4 1910.0,1032.3 1911.0,1031.7 1912.0,1031.7 1913.0,1031.8 1914.0,1032.3 1915.0,1031.7 1916.0,1032.0 1917.0,1032.1 1918.0,1031.7 1919.0,1031.7 1920.0,1031.7 1921.0,1031.8 1922.0,1031.6 1923.0,1032.4 1924.0,1032.0 1925.0,1032.1"/>
<polyline stroke="#008000" stroke-width="5.6" points="196.0,919.4 197.0,919.0 198.0,918.9 199.0,918.4 200.0,918.9 201.0,918.8 202.0,918.9 203.0,918.8 204.0,919.0 205.0,918.9 206.0,918.6 207.0,919.3 208.0,919.3 209.0,919.6 210.0,919.1 211.0,919.0 212.0,918.9 213.0,918.6 214.0,919.4 215.0,918.8 216.0,918.8 217.0,919.1 218.0,919.6 219.0,919.3 220.0,918.9 221.0,919.0 222.0,919.4 223.0,919.2 224.0,919.0 225.0,919.2 226.0,919.5 227.0,919.9 228.0,918.9 229.0,919.1 230.0,919.1 231.0,918.6 232.0,919.1 233.0,919.1 234.0,919.7 235.0,919.4 236.0,918.9 237.0,919.6 238.0,919.4 239.0,919.0 240.0,919.3 241.0,919.3 242.0,919.3 243.0,919.5 244.0,918.9 245.0,919.5 246.0,919.9 247.0,919.9 248.0,919.9 249.0,920.0 250.0,920.1 251.0,919.3 252.0,919.9 253.0,919.1 254.0,919.5 255.0,919.2 256.0,920.1 257.0,920.2 258.0,919.7 259.0,920.3 260.0,919.6 261.0,919.9 262.0,919.9 263.0,919.5 264.0,920.0 265.0,920.5 266.0,919.6 267.0,920.2 268.0,919.9 269.0,920.5 270.0,920.1 271.0,920.2 272.0,920.2 273.0,920.1 274.0,919.6 275.0,920.5 276.0,919.7 277.0,920.2 278.0,920.3 279.0,919.9 280.0,920.2 281.0,920.5 282.0,920.2 283.0,920.0 284.0,919.4 285.0,920.0 286.0,920.1 287.0,920.2 288.0,920.0 289.0,920.5 290.0,920.2 291.0,920.4 292.0,920.6 293.0,920.2 294.0,920.4 295.0,921.1 296.0,920.7 297.0,920.1 298.0,920.5 299.0,920.7 300.0,920.9 301.0,920.6 302.0,920.4 303.0,920.4 304.0,920.8 305.0,920.8 306.0,920.5 307.0,920.6 308.0,920.6 309.0,921.0 310.0,920.6 311.0,920.9 312.0,921.1 313.0,921.0 314.0,920.6 315.0,921.3 316.0,920.7 317.0,921.0 318.0,920.7 319.0,920.4 320.0,921.0 321.0,921.1 322.0,921.0 323.0,921.1 324.0,920.9 325.0,920.9 326.0,921.0 327.0,921.7 328.0,921.4 329.0,921.0 330.0,921.4 331.0,921.1 332.0,921.1 333.0,921.5 334.0,921.1 335.0,920.8 336.0,921.0 337.0,921.4 338.0,921.4 339.0,921.8 340.0,921.2 341.0,921.6 342.0,921.6 343.0,921.4 344.0,921.7 345.0,921.7 346.0,921.3 347.0,921.9 348.0,921.2 349.0,921.6 350.0,921.6 351.0,921.8 352.0,921.5 353.0,921.7 354.0,921.7 355.0,922.0 356.0,921.5 357.0,921.8 358.0,921.7 359.0,921.4 360.0,922.7 361.0,921.9 362.0,921.5 363.0,922.3 364.0,921.6 365.0,922.1 366.0,922.3 367.0,921.8 368.0,921.9 369.0,921.9 370.0,922.1 371.0,921.6 372.0,921.8 373.0,922.1 374.0,922.5 375.0,922.4 376.0,922.8 377.0,922.5 378.0,922.1 379.0,922.3 380.0,921.7 381.0,922.1 382.0,922.1 383.0,922.5 384.0,922.6 385.0,922.3 386.0,922.3 387.0,922.0 388.0,922.5 389.0,922.6 390.0,922.7 391.0,922.4 392.0,923.2 393.0,923.0 394.0,922.6 395.0,922.5 396.0,922.6 397.0,922.8 398.0,922.8 399.0,922.9 400.0,923.0 401.0,923.2 402.0,923.2 403.0,922.9 404.0,923.0 405.0,922.8 406.0,922.8 407.0,923.6 408.0,922.9 409.0,923.6 410.0,923.0 411.0,923.2 412.0,923.5 413.0,923.2 414.0,923.3 415.0,923.1 416.0,923.1 417.0,923.2 418.0,923.1 419.0,923.8 420.0,923.3 421.0,923.9 422.0,922.6 423.0,923.5 424.0,923.6 425.0,923.4 426.0,923.9 427.0,923.8 428.0,923.5 429.0,923.8 430.0,924.5 431.0,923.8 432.0,923.8 433.0,923.6 434.0,923.8 435.0,923.4 436.0,923.8 437.0,924.6 438.0,924.2 439.0,924.2 440.0,924.3 441.0,924.6 442.0,924.2 443.0,924.7 444.0,924.4 445.0,924.2 446.0,924.7 447.0,923.5 448.0,924.1 449.0,924.4 450.0,924.1 451.0,924.3 452.0,924.2 453.0,924.2 454.0,925.3 455.0,924.7 456.0,924.5 457.0,925.0 458.0,924.6 459.0,924.9 460.0,924.8 461.0,925.2 462.0,924.3 463.0,925.0 464.0,924.9 465.0,924.5 466.0,925.2 467.0,924.7 468.0,925.5 469.0,925.2 470.0,925.3 471.0,925.1 472.0,925.4 473.0,924.6 474.0,925.2 475.0,925.1 476.0,925.4 477.0,925.3 478.0,925.6 479.0,925.2 480.0,926.0 481.0,926.2 482.0,925.5 483.0,925.6 484.0,925.7 485.0,926.0 486.0,926.2 487.0,925.4 488.0,925.6 489.0,925.5 490.0,925.5 491.0,925.4 492.0,926.0 493.0,925.6 494.0,926.4 495.0,926.3 496.0,925.8 497.0,925.8 498.0,926.0 499.0,926.6 500.0,926.0 501.0,925.8 502.0,926.3 503.0,926.4 504.0,926.2 505.0,926.9 506.0,926.5 507.0,926.6 508.0,926.3 509.0,926.5 510.0,926.6 511.0,926.0 512.0,926.8 513.0,926.2 514.0,926.7 515.0,926.3 516.0,927.4 517.0,927.0 518.0,927.2 519.0,927.2 520.0,926.6 521.0,926.3 522.0,927.0 523.0,927.4 524.0,927.2 525.0,927.4 526.0,927.5 527.0,926.8 528.0,927.4 529.0,927.9 530.0,927.2 531.0,926.8 532.0,927.4 533.0,927.3 534.0,927.6 535.0,927.3 536.0,927.6 537.0,926.9 538.0,927.9 539.0,928.2 540.0,928.1 541.0,927.3 542.0,927.9 543.0,926.9 544.0,927.9 545.0,927.9 546.0,927.6 547.0,928.1 548.0,928.0 549.0,928.3 550.0,928.1 551.0,928.2 552.0,927.6 553.0,927.8 554.0,928.1 555.0,928.3 556.0,928.3 557.0,928.8 558.0,928.1 559.0,928.3 560.0,928.5 561.0,928.4 562.0,928.6 563.0,928.3 564.0,929.0 565.0,928.5 566.0,928.9 567.0,928.6 568.0,929.1 569.0,928.3 570.0,928.9 571.0,928.6 572.0,928.8 573.0,929.2 574.0,928.5 575.0,928.5 576.0,928.6 577.0,929.0 578.0,928.4 579.0,929.0 580.0,928.6 581.0,928.7 582.0,928.9 583.0,929.2 584.0,928.9 585.0,929.0 586.0,929.2 587.0,929.1 588.0,928.4 589.0,929.1 590.0,929.3 591.0,929.6 592.0,929.9 593.0,929.5 594.0,929.4 595.0,929.1 596.0,929.4 597.0,929.7 598.0,929.8 599.0,929.2 600.0,929.6 601.0,929.8 602.0,930.1 603.0,929.6 604.0,929.4 605.0,929.4 606.0,929.5 607.0,929.5 608.0,929.9 609.0,930.0 610.0,929.9 611.0,930.1 612.0,929.6 613.0,929.9 614.0,929.7 615.0,929.8 616.0,930.2 617.0,929.9 618.0,929.3 619.0,929.8 620.0,929.7 621.0,929.5 622.0,929.7 623.0,930.3 624.0,930.5 625.0,929.9 626.0,930.3 627.0,930.4 628.0,929.7 629.0,930.1 630.0,930.1 631.0,930.2 632.0,929.7 633.0,930.1 634.0,930.5 635.0,930.6 636.0,930.8 637.0,930.1 638.0,930.8 639.0,930.5 640.0,929.9 641.0,930.5 642.0,930.2 643.0,930.5 644.0,930.3 645.0,930.7 646.0,930.5 647.0,930.3 648.0,930.7 649.0,930.5 650.0,930.3 651.0,930.9 652.0,930.4 653.0,930.3 654.0,930.4 655.0,930.1 656.0,930.4 657.0,931.1 658.0,930.3 659.0,930.6 660.0,930.3 661.0,930.4 662.0,931.1 663.0,930.9 664.0,930.5 665.0,930.7 666.0,930.4 667.0,930.5 668.0,930.4 669.0,930.5 670.0,930.8 671.0,930.9 672.0,930.9 673.0,930.7 674.0,930.4 675.0,930.8 676.0,930.5 677.0,931.1 678.0,931.0 679.0,931.1 680.0,930.8 681.0,930.3 682.0,931.2 683.0,931.3 684.0,930.5 685.0,931.0 686.0,931.3 687.0,930.6 688.0,931.5 689.0,930.9 690.0,930.7 691.0,931.4 692.0,931.1 693.0,930.8 694.0,931.3 695.0,930.4 696.0,931.6 697.0,930.8 698.0,931.1 699.0,930.9 700.0,931.2 701.0,931.3 702.0,930.8 703.0,931.3 704.0,931.0 705.0,930.9 706.0,931.0 707.0,930.8 708.0,930.9 709.0,931.4 710.0,931.1 711.0,931.5 712.0,931.3 713.0,930.8 714.0,930.6 715.0,930.9 716.0,931.2 717.0,931.2 718.0,930.9 719.0,931.5 720.0,930.6 721.0,930.8 722.0,931.2 723.0,931.8 724.0,931.3 725.0,930.9 726.0,931.3 727.0,931.4 728.0,931.4 729.0,931.0 730.0,930.9 731.0,931.2 732.0,931.3 733.0,931.6 734.0,931.8 735.0,930.9 736.0,931.0 737.0,931.1 738.0,931.0 739.0,931.3 740.0,931.3 741.0,931.2 742.0,931.5 743.0,931.0 744.0,930.8 745.0,930.6 746.0,930.8 747.0,930.7 748.0,930.5 749.0,931.2 750.0,931.1 751.0,930.9 752.0,930.7 753.0,930.5 754.0,930.7 755.0,931.5 756.0,930.3 757.0,931.0 758.0,931.1 759.0,930.9 760.0,930.8 761.0,931.1 762.0,930.5 763.0,931.0 764.0,931.2 765.0,930.4 766.0,930.5 767.0,930.7 768.0,931.0 769.0,931.0 770.0,930.8 771.0,930.4 772.0,930.2 773.0,930.6 774.0,930.6 775.0,930.1 776.0,930.4 777.0,930.5 778.0,930.6 779.0,930.0 780.0,930.4 781.0,929.8 782.0,930.0 783.0,930.1 784.0,930.5 785.0,931.0 786.0,930.0 787.0,930.0 788.0,930.1 789.0,929.3 790.0,929.9 791.0,929.2 792.0,930.0 793.0,929.9 794.0,929.6 795.0,929.1 796.0,929.7 797.0,929.2 798.0,929.1 799.0,929.1 800.0,928.4 801.0,928.9 802.0,929.0 803.0,928.7 804.0,928.5 805.0,928.0 806.0,928.4 807.0,928.1 808.0,927.9 809.0,927.6 810.0,927.9 811.0,927.9 812.0,927.5 813.0,927.4 814.0,927.4 815.0,927.3 816.0,926.7 817.0,926.3 818.0,926.1 819.0,926.0 820.0,925.9 821.0,925.8 822.0,925.1 823.0,925.0 824.0,924.4 825.0,924.7 826.0,923.9 827.0,923.8 828.0,923.1 829.0,922.9 830.0,922.3 831.0,922.6 832.0,921.8 833.0,921.1 834.0,920.4 835.0,919.9 836.0,919.7 837.0,919.4 838.0,917.8 839.0,917.2 840.0,916.7 841.0,915.7 842.0,914.5 843.0,914.0 844.0,913.2 845.0,911.3 846.0,910.5 847.0,909.3 848.0,907.7 849.0,905.5 850.0,904.2 851.0,901.4 852.0,898.3 853.0,895.7 854.0,891.5 855.0,888.0 856.0,882.5 857.0,877.6 858.0,870.7 859.0,863.8 860.0,855.2 861.0,845.4 862.0,834.2 863.0,822.2 864.0,807.4 865.0,792.8 866.0,776.0 867.0,757.9 868.0,738.6 869.0,718.9 870.0,696.6 871.0,675.2 872.0,653.5 873.0,633.5 874.0,613.6 875.0,598.7 876.0,585.6 877.0,577.3 878.0,574.9 879.0,577.8 880.0,585.6 881.0,597.7 882.0,613.8 883.0,632.1 884.0,652.5 885.0,673.1 886.0,695.3 887.0,716.6 888.0,736.5 889.0,755.3 890.0,773.4 891.0,790.8 892.0,805.3 893.0,818.9 894.0,831.0 895.0,842.2 896.0,851.3 897.0,859.4 898.0,866.4 899.0,872.9 900.0,878.5 901.0,882.6 902.0,886.7 903.0,889.7 904.0,892.3 905.0,894.5 906.0,896.3 907.0,898.1 908.0,899.1 909.0,899.7 910.0,900.6 911.0,900.9 912.0,901.3 913.0,901.1 914.0,901.0 915.0,899.9 916.0,899.8 917.0,899.1 918.0,897.1 919.0,896.5 920.0,894.4 921.0,892.2 922.0,889.4 923.0,887.6 924.0,884.1 925.0,881.0 926.0,877.8 927.0,873.5 928.0,869.4 929.0,864.9 930.0,860.6 931.0,856.0 932.0,851.0 933.0,846.0 934.0,840.7 935.0,835.9 936.0,831.0 937.0,827.4 938.0,823.0 939.0,819.1 940.0,816.9 941.0,816.1 942.0,814.6 943.0,815.3 944.0,816.9 945.0,818.8 946.0,822.6 947.0,826.7 948.0,830.4 949.0,835.9 950.0,840.5 951.0,845.9 952.0,851.7 953.0,857.1 954.0,862.2 955.0,867.8 956.0,872.1 957.0,877.1 958.0,881.5 959.0,886.3 960.0,890.3 961.0,893.9 962.0,896.7 963.0,900.2 964.0,903.2 965.0,905.1 966.0,907.7 967.0,910.3 968.0,912.2 969.0,913.8 970.0,915.4 971.0,916.8 972.0,918.0 973.0,919.0 974.0,919.8 975.0,920.8 976.0,921.6 977.0,923.1 978.0,923.2 979.0,923.7 980.0,924.2 981.0,924.7 982.0,925.1 983.0,925.8 984.0,926.0 985.0,926.6 986.0,926.5 987.0,927.1 988.0,927.6 989.0,927.3 990.0,927.9 991.0,928.2 992.0,928.2 993.0,928.4 994.0,928.2 995.0,929.3 996.0,928.9 997.0,929.0 998.0,929.7 999.0,929.2 1000.0,930.2 1001.0,930.2 1002.0,930.3 1003.0,930.3 1004.0,930.1 1005.0,930.0 1006.0,931.1 1007.0,930.7 1008.0,930.8 1009.0,931.5 1010.0,931.0 1011.0,931.2 1012.0,931.3 1013.0,931.4 1014.0,931.3 1015.0,931.5 1016.0,932.1 1017.0,932.1 1018.0,931.0 1019.0,931.4 1020.0,932.2 1021.0,932.1 1022.0,932.1 1023.0,932.6 1024.0,931.8 1025.0,932.8 1026.0,932.5 1027.0,932.7 1028.0,932.7 1029.0,932.9 1030.0,932.6 1031.0,932.6 1032.0,933.1 1033.0,932.9 1034.0,932.5 1035.0,933.4 1036.0,933.4 1037.0,933.5 1038.0,933.1 1039.0,933.3 1040.0,933.1 1041.0,932.9 1042.0,933.3 1043.0,933.4 1044.0,933.1 1045.0,933.9 1046.0,932.9 1047.0,933.2 1048.0,933.3 1049.0,933.9 1050.0,933.5 1051.0,933.5 1052.0,933.3 1053.0,933.4 1054.0,933.2 1055.0,934.0 1056.0,933.9 1057.0,934.0 1058.0,933.5 1059.0,934.5 1060.0,933.4 1061.0,933.1 1062.0,933.7 1063.0,933.8 1064.0,934.0 1065.0,933.5 1066.0,934.0 1067.0,934.3 1068.0,933.6 1069.0,933.6 1070.0,933.3 1071.0,933.9 1072.0,934.1 1073.0,934.0 1074.0,934.1 1075.0,934.2 1076.0,933.8 1077.0,934.1 1078.0,933.5 1079.0,933.5 1080.0,933.8 1081.0,933.5 1082.0,933.9 1083.0,934.1 1084.0,933.8 1085.0,933.4 1086.0,933.4 1087.0,934.0 1088.0,933.3 1089.0,933.5 1090.0,933.4 1091.0,933.4 1092.0,933.7 1093.0,933.1 1094.0,932.8 1095.0,933.6 1096.0,933.2 1097.0,933.3 1098.0,933.0 1099.0,933.1 1100.0,933.2 1101.0,933.1 1102.0,932.6 1103.0,932.4 1104.0,932.6 1105.0,932.4 1106.0,932.4 1107.0,931.9 1108.0,931.3 1109.0,931.9 1110.0,931.9 1111.0,931.7 1112.0,931.8 1113.0,931.4 1114.0,930.8 1115.0,931.0 1116.0,930.5 1117.0,930.7 1118.0,930.1 1119.0,929.9 1120.0,929.6 1121.0,929.2 1122.0,928.4 1123.0,928.5 1124.0,927.5 1125.0,927.9 1126.0,927.6 1127.0,927.5 1128.0,926.5 1129.0,925.6 1130.0,924.8 1131.0,925.3 1132.0,923.6 1133.0,923.6 1134.0,921.8 1135.0,921.7 1136.0,921.0 1137.0,919.9 1138.0,918.7 1139.0,917.3 1140.0,916.0 1141.0,915.2 1142.0,913.5 1143.0,911.7 1144.0,910.0 1145.0,907.6 1146.0,906.0 1147.0,903.6 1148.0,900.3 1149.0,897.6 1150.0,894.7 1151.0,890.6 1152.0,887.5 1153.0,883.0 1154.0,877.8 1155.0,873.1 1156.0,867.8 1157.0,861.1 1158.0,855.5 1159.0,848.9 1160.0,842.6 1161.0,836.7 1162.0,830.6 1163.0,825.3 1164.0,821.2 1165.0,818.9 1166.0,817.9 1167.0,818.0 1168.0,819.9 1169.0,823.2 1170.0,828.1 1171.0,833.3 1172.0,838.9 1173.0,845.4 1174.0,852.2 1175.0,858.0 1176.0,864.1 1177.0,870.0 1178.0,875.0 1179.0,880.6 1180.0,884.2 1181.0,889.5 1182.0,892.8 1183.0,896.0 1184.0,899.7 1185.0,901.9 1186.0,905.2 1187.0,907.7 1188.0,909.5 1189.0,911.5 1190.0,913.7 1191.0,914.9 1192.0,916.6 1193.0,918.1 1194.0,919.7 1195.0,920.2 1196.0,921.5 1197.0,922.8 1198.0,922.6 1199.0,924.1 1200.0,924.4 1201.0,925.2 1202.0,927.0 1203.0,927.1 1204.0,928.1 1205.0,928.1 1206.0,928.9 1207.0,929.1 1208.0,929.5 1209.0,930.1 1210.0,930.5 1211.0,931.3 1212.0,931.2 1213.0,931.7 1214.0,931.8 1215.0,932.2 1216.0,932.1 1217.0,933.1 1218.0,932.8 1219.0,933.2 1220.0,933.4 1221.0,934.0 1222.0,934.0 1223.0,934.1 1224.0,934.3 1225.0,934.5 1226.0,934.8 1227.0,934.9 1228.0,935.3 1229.0,935.6 1230.0,935.4 1231.0,935.0 1232.0,936.0 1233.0,936.3 1234.0,935.6 1235.0,935.7 1236.0,935.3 1237.0,936.3 1238.0,935.9 1239.0,936.8 1240.0,935.6 1241.0,936.5 1242.0,936.7 1243.0,936.5 1244.0,936.4 1245.0,936.8 1246.0,936.7 1247.0,936.8 1248.0,937.0 1249.0,936.9 1250.0,937.0 1251.0,937.4 1252.0,937.1 1253.0,937.3 1254.0,937.1 1255.0,937.7 1256.0,937.1 1257.0,937.8 1258.0,936.6 1259.0,937.3 1260.0,937.1 1261.0,938.0 1262.0,937.8 1263.0,937.4 1264.0,937.6 1265.0,938.2 1266.0,937.9 1267.0,938.1 1268.0,937.5 1269.0,937.5 1270.0,938.2 1271.0,938.7 1272.0,937.9 1273.0,938.3 1274.0,937.8 1275.0,938.5 1276.0,938.1 1277.0,938.1 1278.0,937.7 1279.0,938.1 1280.0,938.4 1281.0,938.7 1282.0,938.0 1283.0,938.7 1284.0,938.3 1285.0,938.3 1286.0,938.2 1287.0,938.0 1288.0,938.1 1289.0,939.0 1290.0,938.2 1291.0,938.4 1292.0,938.9 1293.0,937.9 1294.0,938.7 1295.0,938.5 1296.0,938.7 1297.0,938.9 1298.0,938.6 1299.0,938.6 1300.0,938.9 1301.0,938.9 1302.0,938.5 1303.0,938.7 1304.0,938.4 1305.0,939.2 1306.0,938.4 1307.0,938.9 1308.0,939.3 1309.0,939.1 1310.0,938.8 1311.0,938.6 1312.0,938.7 1313.0,939.2 1314.0,939.0 1315.0,938.9 1316.0,939.7 1317.0,938.7 1318.0,938.8 1319.0,938.8 1320.0,939.0 1321.0,939.1 1322.0,938.9 1323.0,939.2 1324.0,939.2 1325.0,938.9 1326.0,938.3 1327.0,939.3 1328.0,938.8 1329.0,938.9 1330.0,939.0 1331.0,938.7 1332.0,938.8 1333.0,939.1 1334.0,939.0 1335.0,939.2 1336.0,938.9 1337.0,939.0 1338.0,938.8 1339.0,939.0 1340.0,939.2 1341.0,939.1 1342.0,938.7 1343.0,939.1 1344.0,939.2 1345.0,939.5 1346.0,939.2 1347.0,939.1 1348.0,938.8 1349.0,939.8 1350.0,938.9 1351.0,938.9 1352.0,939.2 1353.0,938.7 1354.0,939.6 1355.0,939.3 1356.0,939.4 1357.0,939.0 1358.0,939.1 1359.0,939.5 1360.0,939.5 1361.0,940.1 1362.0,939.6 1363.0,938.7 1364.0,939.3 1365.0,939.2 1366.0,939.6 1367.0,939.3 1368.0,939.5 1369.0,939.2 1370.0,939.5 1371.0,939.8 1372.0,939.2 1373.0,938.7 1374.0,939.0 1375.0,939.8 1376.0,939.4 1377.0,939.3 1378.0,939.1 1379.0,939.7 1380.0,939.5 1381.0,939.4 1382.0,939.2 1383.0,939.3 1384.0,939.3 1385.0,939.6 1386.0,939.8 1387.0,938.8 1388.0,939.0 1389.0,939.4 1390.0,939.4 1391.0,939.0 1392.0,939.2 1393.0,939.3 1394.0,939.3 1395.0,939.3 1396.0,939.4 1397.0,939.7 1398.0,939.7 1399.0,939.6 1400.0,939.5 1401.0,939.2 1402.0,939.3 1403.0,939.7 1404.0,939.5 1405.0,939.7 1406.0,939.6 1407.0,939.5 1408.0,939.6 1409.0,939.0 1410.0,939.4 1411.0,939.3 1412.0,939.7 1413.0,939.3 1414.0,939.6 1415.0,939.4 1416.0,939.6 1417.0,939.7 1418.0,939.4 1419.0,939.5 1420.0,939.6 1421.0,939.7 1422.0,939.4 1423.0,939.5 1424.0,939.4 1425.0,939.2 1426.0,939.6 1427.0,939.7 1428.0,939.3 1429.0,940.0 1430.0,939.3 1431.0,939.8 1432.0,939.6 1433.0,939.0 1434.0,939.5 1435.0,939.1 1436.0,939.5 1437.0,939.7 1438.0,940.1 1439.0,939.8 1440.0,939.1 1441.0,939.4 1442.0,940.0 1443.0,939.6 1444.0,940.1 1445.0,939.3 1446.0,939.4 1447.0,939.2 1448.0,939.4 1449.0,939.9 1450.0,939.3 1451.0,939.8 1452.0,939.7 1453.0,939.8 1454.0,939.5 1455.0,939.6 1456.0,940.2 1457.0,939.2 1458.0,939.8 1459.0,940.0 1460.0,939.7 1461.0,940.1 1462.0,938.7 1463.0,939.5 1464.0,939.2 1465.0,939.5 1466.0,939.6 1467.0,939.7 1468.0,939.3 1469.0,939.9 1470.0,939.1 1471.0,939.9 1472.0,939.5 1473.0,939.1 1474.0,939.1 1475.0,939.1 1476.0,939.3 1477.0,939.6 1478.0,940.0 1479.0,939.8 1480.0,939.2 1481.0,938.9 1482.0,939.5 1483.0,939.2 1484.0,939.6 1485.0,939.4 1486.0,940.4 1487.0,939.1 1488.0,939.7 1489.0,940.2 1490.0,939.5 1491.0,939.4 1492.0,940.1 1493.0,939.0 1494.0,939.1 1495.0,939.2 1496.0,939.7 1497.0,939.8 1498.0,939.6 1499.0,940.3 1500.0,939.6 1501.0,939.6 1502.0,939.5 1503.0,940.0 1504.0,939.6 1505.0,939.5 1506.0,940.1 1507.0,940.0 1508.0,939.9 1509.0,939.2 1510.0,939.3 1511.0,939.6 1512.0,939.6 1513.0,939.5 1514.0,939.6 1515.0,939.8 1516.0,939.3 1517.0,939.7 1518.0,939.5 1519.0,939.5 1520.0,939.6 1521.0,939.9 1522.0,939.7 1523.0,939.4 1524.0,939.7 1525.0,939.7 1526.0,939.8 1527.0,939.6 1528.0,940.0 1529.0,939.8 1530.0,939.3 1531.0,939.3 1532.0,939.2 1533.0,939.8 1534.0,939.5 1535.0,939.6 1536.0,939.6 1537.0,940.0 1538.0,940.3 1539.0,939.6 1540.0,940.3 1541.0,939.8 1542.0,940.0 1543.0,939.6 1544.0,939.3 1545.0,939.8 1546.0,940.1 1547.0,939.2 1548.0,939.7 1549.0,939.7 1550.0,939.9 1551.0,939.3 1552.0,939.5 1553.0,940.0 1554.0,940.2 1555.0,939.7 1556.0,940.0 1557.0,939.7 1558.0,939.8 1559.0,939.6 1560.0,939.6 1561.0,939.5 1562.0,939.7 1563.0,940.0 1564.0,939.7 1565.0,939.9 1566.0,939.5 1567.0,939.9 1568.0,938.7 1569.0,939.2 1570.0,939.6 1571.0,939.1 1572.0,939.8 1573.0,939.7 1574.0,939.4 1575.0,939.7 1576.0,939.2 1577.0,939.4 1578.0,939.5 1579.0,939.2 1580.0,940.0 1581.0,939.5 1582.0,940.0 1583.0,939.6 1584.0,939.8 1585.0,939.4 1586.0,939.6 1587.0,939.5 1588.0,939.7 1589.0,940.1 1590.0,939.5 1591.0,939.6 1592.0,939.8 1593.0,939.9 1594.0,939.6 1595.0,939.5 1596.0,939.5 1597.0,939.6 1598.0,939.7 1599.0,939.4 1600.0,939.5 1601.0,939.9 1602.0,939.6 1603.0,939.5 1604.0,939.8 1605.0,939.8 1606.0,939.8 1607.0,939.8 1608.0,939.5 1609.0,939.7 1610.0,939.7 1611.0,939.7 1612.0,939.1 1613.0,939.6 1614.0,939.7 1615.0,939.8 1616.0,939.5 1617.0,939.6 1618.0,939.1 1619.0,939.2 1620.0,938.7 1621.0,939.5 1622.0,940.1 1623.0,940.1 1624.0,939.3 1625.0,939.8 1626.0,940.0 1627.0,939.5 1628.0,939.0 1629.0,940.0 1630.0,939.5 1631.0,939.5 1632.0,940.1 1633.0,939.7 1634.0,939.8 1635.0,940.0 1636.0,939.5 1637.0,939.3 1638.0,939.8 1639.0,939.5 1640.0,939.8 1641.0,939.7 1642.0,939.3 1643.0,939.5 1644.0,939.4 1645.0,939.5 1646.0,939.5 1647.0,939.6 1648.0,939.6 1649.0,939.1 1650.0,939.7 1651.0,939.1 1652.0,940.2 1653.0,939.3 1654.0,939.5 1655.0,939.9 1656.0,939.4 1657.0,939.1 1658.0,939.0 1659.0,939.5 1660.0,939.6 1661.0,939.7 1662.0,939.5 1663.0,939.3 1664.0,939.5 1665.0,939.8 1666.0,939.1 1667.0,940.4 1668.0,939.2 1669.0,939.7 1670.0,939.9 1671.0,939.6 1672.0,939.4 1673.0,939.5 1674.0,939.7 1675.0,938.5 1676.0,939.4 1677.0,939.1 1678.0,939.0 1679.0,939.2 1680.0,939.2 1681.0,939.3 1682.0,938.9 1683.0,939.4 1684.0,938.4 1685.0,938.7 1686.0,938.6 1687.0,939.0 1688.0,938.8 1689.0,939.0 1690.0,938.6 1691.0,939.2 1692.0,939.0 1693.0,938.6 1694.0,938.2 1695.0,938.3 1696.0,938.1 1697.0,938.9 1698.0,938.7 1699.0,938.0 1700.0,938.9 1701.0,938.2 1702.0,937.5 1703.0,938.4 1704.0,938.4 1705.0,937.9 1706.0,937.5 1707.0,938.1 1708.0,937.4 1709.0,937.5 1710.0,937.5 1711.0,937.3 1712.0,936.9 1713.0,936.6 1714.0,937.0 1715.0,935.9 1716.0,936.5 1717.0,936.3 1718.0,936.2 1719.0,935.7 1720.0,935.6 1721.0,935.6 1722.0,934.8 1723.0,934.9 1724.0,934.7 1725.0,933.9 1726.0,933.7 1727.0,934.2 1728.0,933.7 1729.0,932.8 1730.0,932.9 1731.0,932.5 1732.0,932.4 1733.0,932.0 1734.0,930.5 1735.0,930.8 1736.0,930.8 1737.0,930.5 1738.0,929.4 1739.0,928.8 1740.0,928.8 1741.0,928.1 1742.0,927.8 1743.0,927.0 1744.0,927.1 1745.0,926.6 1746.0,926.1 1747.0,925.2 1748.0,924.5 1749.0,924.2 1750.0,924.2 1751.0,923.1 1752.0,923.4 1753.0,923.3 1754.0,922.2 1755.0,921.9 1756.0,921.8 1757.0,921.4 1758.0,920.6 1759.0,920.4 1760.0,920.2 1761.0,919.8 1762.0,919.8 1763.0,919.5 1764.0,919.6 1765.0,918.5 1766.0,919.2 1767.0,919.0 1768.0,918.6 1769.0,918.8 1770.0,919.0 1771.0,918.8 1772.0,918.8 1773.0,919.2 1774.0,919.1 1775.0,919.3 1776.0,919.8 1777.0,920.2 1778.0,920.9 1779.0,921.6 1780.0,921.9 1781.0,922.8 1782.0,922.9 1783.0,923.3 1784.0,923.9 1785.0,924.4 1786.0,925.2 1787.0,926.3 1788.0,926.1 1789.0,927.2 1790.0,927.6 1791.0,928.5 1792.0,928.6 1793.0,929.5 1794.0,929.7 1795.0,930.5 1796.0,930.2 1797.0,931.4 1798.0,931.9 1799.0,931.6 1800.0,932.7 1801.0,932.5 1802.0,933.5 1803.0,933.5 1804.0,934.0 1805.0,934.2 1806.0,934.0 1807.0,935.1 1808.0,935.2 1809.0,934.7 1810.0,935.4 1811.0,935.5 1812.0,935.3 1813.0,935.4 1814.0,936.2 1815.0,935.8 1816.0,936.3 1817.0,936.7 1818.0,936.3 1819.0,936.0 1820.0,936.6 1821.0,936.0 1822.0,936.1 1823.0,937.3 1824.0,936.2 1825.0,936.6 1826.0,936.2 1827.0,936.5 1828.0,936.6 1829.0,935.8 1830.0,936.4 1831.0,936.8 1832.0,936.9 1833.0,936.7 1834.0,936.3 1835.0,936.7 1836.0,936.5 1837.0,936.4 1838.0,936.6 1839.0,937.3 1840.0,936.3 1841.0,936.9 1842.0,936.6 1843.0,936.1 1844.0,936.3 1845.0,936.5 1846.0,936.4 1847.0,936.6 1848.0,936.2 1849.0,936.2 1850.0,936.8 1851.0,936.4 1852.0,936.2 1853.0,936.4 1854.0,936.9 1855.0,936.2 1856.0,935.9 1857.0,936.6 1858.0,936.9 1859.0,936.7 1860.0,935.9 1861.0,935.6 1862.0,936.6 1863.0,936.2 1864.0,936.4 1865.0,936.1 1866.0,936.7 1867.0,936.2 1868.0,936.0 1869.0,936.1 1870.0,935.7 1871.0,936.1 1872.0,936.0 1873.0,935.4 1874.0,935.7 1875.0,935.6 1876.0,935.5 1877.0,936.0 1878.0,936.2 1879.0,936.0 1880.0,935.4 1881.0,935.3 1882.0,936.1 1883.0,935.7 1884.0,935.7 1885.0,935.4 1886.0,935.1 1887.0,936.4 1888.0,935.5 1889.0,935.6 1890.0,935.3 1891.0,936.1 1892.0,935.5 1893.0,935.5 1894.0,935.6 1895.0,935.5 1896.0,935.9 1897.0,934.9 1898.0,935.6 1899.0,935.2 1900.0,935.3 1901.0,935.2 1902.0,935.5 1903.0,934.9 1904.0,935.1 1905.0,935.5 1906.0,935.1 1907.0,935.1 1908.0,935.3 1909.0,935.2 1910.0,935.1 1911.0,935.2 1912.0,934.8 1913.0,935.3 1914.0,934.7 1915.0,934.6 1916.0,935.1 1917.0,934.6 1918.0,934.7 1919.0,934.9 1920.0,935.1 1921.0,934.8 1922.0,934.7 1923.0,934.7 1924.0,934.9 1925.0,934.6"/>
<polyline stroke="#000080" stroke-width="5.6" points="196.0,851.6 197.0,851.8 198.0,851.0 199.0,852.4 200.0,851.1 201.0,851.5 202.0,852.0 203.0,851.3 204.0,851.4 205.0,851.4 206.0,852.0 207.0,852.6 208.0,851.8 209.0,851.3 210.0,852.0 211.0,851.5 212.0,851.8 213.0,852.2 214.0,851.5 215.0,851.8 216.0,851.4 217.0,851.7 218.0,851.9 219.0,851.4 220.0,851.6 221.0,851.7 222.0,851.5 223.0,851.3 224.0,851.2 225.0,851.7 226.0,851.7 227.0,852.6 228.0,850.8 229.0,851.8 230.0,851.9 231.0,852.3 232.0,851.9 233.0,851.4 234.0,851.7 235.0,852.0 236.0,851.6 237.0,852.0 238.0,851.0 239.0,852.4 240.0,852.3 241.0,851.6 242.0,852.0 243.0,851.8 244.0,851.4 245.0,851.8 246.0,852.1 247.0,851.6 248.0,851.6 249.0,851.7 250.0,851.9 251.0,852.2 252.0,851.5 253.0,851.9 254.0,851.8 255.0,851.0 256.0,851.6 257.0,851.7 258.0,851.7 259.0,851.9 260.0,851.0 261.0,851.7 262.0,851.5 263.0,851.2 264.0,851.9 265.0,852.0 266.0,851.5 267.0,852.0 268.0,851.6 269.0,851.7 270.0,851.3 271.0,852.3 272.0,850.7 273.0,851.7 274.0,852.0 275.0,850.9 276.0,851.6 277.0,851.7 278.0,852.0 279.0,852.2 280.0,851.6 281.0,851.2 282.0,852.2 283.0,852.2 284.0,851.5 285.0,851.8 286.0,851.8 287.0,851.9 288.0,851.8 289.0,852.2 290.0,851.0 291.0,852.1 292.0,851.8 293.0,851.6 294.0,852.1 295.0,850.8 296.0,852.1 297.0,851.8 298.0,851.3 299.0,851.9 300.0,851.6 301.0,852.7 302.0,852.4 303.0,851.9 304.0,851.4 305.0,851.5 306.0,851.6 307.0,851.5 308.0,851.3 309.0,851.5 310.0,851.6 311.0,851.5 312.0,851.4 313.0,851.3 314.0,852.6 315.0,851.1 316.0,851.3 317.0,851.8 318.0,851.5 319.0,851.8 320.0,852.0 321.0,852.1 322.0,851.9 323.0,851.3 324.0,852.1 325.0,851.0 326.0,851.6 327.0,851.5 328.0,851.3 329.0,851.9 330.0,851.6 331.0,852.0 332.0,851.1 333.0,852.0 334.0,851.8 335.0,851.7 336.0,851.1 337.0,851.5 338.0,851.1 339.0,850.9 340.0,852.9 341.0,852.0 342.0,852.3 343.0,851.5 344.0,851.9 345.0,851.9 346.0,851.9 347.0,851.6 348.0,851.5 349.0,850.8 350.0,851.9 351.0,851.8 352.0,852.0 353.0,851.5 354.0,852.3 355.0,851.4 356.0,851.1 357.0,851.9 358.0,851.3 359.0,851.0 360.0,851.5 361.0,851.7 362.0,851.4 363.0,851.4 364.0,852.7 365.0,851.3 366.0,851.4 367.0,849.9 368.0,850.6 369.0,850.6 370.0,850.0 371.0,849.6 372.0,849.8 373.0,849.3 374.0,849.0 375.0,849.5 376.0,849.4 377.0,848.9 378.0,848.5 379.0,848.8 380.0,848.9 381.0,848.8 382.0,848.1 383.0,848.7 384.0,849.1 385.0,849.4 386.0,849.8 387.0,849.9 388.0,849.5 389.0,849.9 390.0,850.0 391.0,851.4 392.0,851.1 393.0,851.5 394.0,851.9 395.0,851.6 396.0,851.5 397.0,852.0 398.0,852.2 399.0,853.0 400.0,852.9 401.0,852.3 402.0,853.1 403.0,853.3 404.0,852.7 405.0,853.2 406.0,852.6 407.0,853.5 408.0,853.4 409.0,853.0 410.0,853.4 411.0,853.8 412.0,853.6 413.0,853.9 414.0,854.1 415.0,853.6 416.0,853.8 417.0,854.8 418.0,854.0 419.0,853.7 420.0,854.0 421.0,853.5 422.0,854.4 423.0,854.1 424.0,854.4 425.0,854.3 426.0,854.1 427.0,854.4 428.0,854.1 429.0,853.7 430.0,853.6 431.0,853.8 432.0,853.0 433.0,854.7 434.0,853.3 435.0,853.9 436.0,853.5 437.0,853.2 438.0,853.9 439.0,853.8 440.0,853.9 441.0,854.2 442.0,853.7 443.0,854.1 444.0,854.1 445.0,853.8 446.0,853.8 447.0,854.1 448.0,854.0 449.0,854.0 450.0,853.0 451.0,854.0 452.0,854.1 453.0,853.9 454.0,854.1 455.0,854.6 456.0,854.0 457.0,854.2 458.0,853.6 459.0,853.6 460.0,853.7 461.0,853.5 462.0,853.9 463.0,853.5 464.0,853.8 465.0,853.3 466.0,853.3 467.0,853.6 468.0,853.5 469.0,853.6 470.0,853.6 471.0,853.7 472.0,854.3 473.0,854.4 474.0,854.1 475.0,853.7 476.0,854.4 477.0,853.3 478.0,853.1 479.0,853.9 480.0,853.8 481.0,853.8 482.0,853.9 483.0,853.2 484.0,853.4 485.0,854.3 486.0,854.2 487.0,853.5 488.0,854.6 489.0,853.4 490.0,853.6 491.0,853.9 492.0,853.3 493.0,853.6 494.0,853.7 495.0,853.6 496.0,854.1 497.0,854.0 498.0,853.4 499.0,853.5 500.0,853.8 501.0,853.7 502.0,853.5 503.0,853.9 504.0,854.1 505.0,853.5 506.0,854.0 507.0,853.1 508.0,853.1 509.0,853.9 510.0,853.4 511.0,853.3 512.0,853.6 513.0,853.5 514.0,853.8 515.0,853.2 516.0,853.6 517.0,854.9 518.0,853.7 519.0,853.0 520.0,853.9 521.0,853.9 522.0,854.2 523.0,853.7 524.0,853.4 525.0,854.2 526.0,853.9 527.0,853.0 528.0,853.9 529.0,853.6 530.0,854.1 531.0,853.5 532.0,853.9 533.0,853.7 534.0,853.8 535.0,853.6 536.0,853.4 537.0,853.6 538.0,853.8 539.0,853.7 540.0,854.2 541.0,853.7 542.0,853.8 543.0,854.4 544.0,853.6 545.0,853.8 546.0,853.3 547.0,853.6 548.0,854.2 549.0,853.6 550.0,854.1 551.0,853.1 552.0,853.0 553.0,853.6 554.0,853.0 555.0,854.5 556.0,854.0 557.0,853.0 558.0,853.4 559.0,853.2 560.0,853.6 561.0,853.4 562.0,853.8 563.0,854.0 564.0,853.3 565.0,853.0 566.0,853.6 567.0,853.3 568.0,853.8 569.0,853.3 570.0,853.7 571.0,853.5 572.0,853.3 573.0,853.2 574.0,853.6 575.0,854.3 576.0,853.6 577.0,853.3 578.0,853.6 579.0,853.3 580.0,852.8 581.0,853.4 582.0,853.9 583.0,853.1 584.0,852.8 585.0,853.4 586.0,853.9 587.0,853.6 588.0,853.6 589.0,854.1 590.0,853.8 591.0,853.4 592.0,853.1 593.0,853.2 594.0,853.1 595.0,853.5 596.0,852.8 597.0,853.7 598.0,853.2 599.0,852.9 600.0,853.4 601.0,852.3 602.0,852.7 603.0,852.8 604.0,853.3 605.0,852.8 606.0,853.5 607.0,852.8 608.0,853.2 609.0,852.7 610.0,853.4 611.0,852.8 612.0,853.1 613.0,852.7 614.0,852.5 615.0,852.8 616.0,853.3 617.0,852.5 618.0,852.2 619.0,852.7 620.0,853.1 621.0,852.4 622.0,852.6 623.0,852.8 624.0,852.6 625.0,852.8 626.0,853.1 627.0,852.7 628.0,852.6 629.0,852.9 630.0,852.6 631.0,852.2 632.0,852.2 633.0,852.1 634.0,853.3 635.0,852.5 636.0,852.7 637.0,852.7 638.0,852.1 639.0,852.7 640.0,852.2 641.0,851.6 642.0,852.3 643.0,851.9 644.0,852.2 645.0,852.4 646.0,853.1 647.0,852.0 648.0,852.1 649.0,852.3 650.0,852.2 651.0,852.0 652.0,851.7 653.0,851.7 654.0,851.9 655.0,851.5 656.0,851.7 657.0,851.4 658.0,852.3 659.0,851.3 660.0,852.5 661.0,851.6 662.0,851.3 663.0,851.2 664.0,851.9 665.0,852.0 666.0,851.2 667.0,851.6 668.0,851.3 669.0,851.2 670.0,851.2 671.0,851.3 672.0,850.1 673.0,849.7 674.0,850.3 675.0,849.9 676.0,849.8 677.0,848.4 678.0,848.3 679.0,848.9 680.0,847.4 681.0,847.8 682.0,847.3 683.0,847.4 684.0,847.1 685.0,848.2 686.0,847.3 687.0,847.8 688.0,848.2 689.0,849.2 690.0,849.1 691.0,849.3 692.0,849.2 693.0,849.3 694.0,849.4 695.0,849.7 696.0,849.1 697.0,848.4 698.0,849.3 699.0,848.7 700.0,848.1 701.0,848.3 702.0,847.9 703.0,848.9 704.0,847.8 705.0,847.0 706.0,847.6 707.0,847.0 708.0,847.6 709.0,847.0 710.0,846.0 711.0,846.3 712.0,845.8 713.0,845.7 714.0,845.4 715.0,844.6 716.0,845.2 717.0,844.5 718.0,844.1 719.0,844.4 720.0,844.5 721.0,843.1 722.0,843.6 723.0,841.7 724.0,842.2 725.0,841.3 726.0,840.9 727.0,840.0 728.0,839.6 729.0,839.0 730.0,838.3 731.0,837.8 732.0,837.7 733.0,835.7 734.0,834.9 735.0,833.2 736.0,831.8 737.0,832.0 738.0,829.5 739.0,828.2 740.0,826.8 741.0,825.2 742.0,822.9 743.0,821.1 744.0,817.6 745.0,813.8 746.0,811.0 747.0,806.8 748.0,801.5 749.0,795.8 750.0,788.6 751.0,780.8 752.0,769.2 753.0,755.8 754.0,740.3 755.0,719.9 756.0,697.1 757.0,668.9 758.0,635.4 759.0,597.7 760.0,555.6 761.0,511.3 762.0,465.3 763.0,422.7 764.0,389.7 765.0,371.8 766.0,371.7 767.0,389.7 768.0,423.0 769.0,464.7 770.0,510.6 771.0,555.4 772.0,597.2 773.0,635.0 774.0,667.5 775.0,696.2 776.0,719.6 777.0,738.8 778.0,755.0 779.0,767.8 780.0,779.5 781.0,787.0 782.0,794.4 783.0,800.1 784.0,804.5 785.0,808.9 786.0,812.3 787.0,815.5 788.0,818.1 789.0,820.6 790.0,822.6 791.0,823.9 792.0,825.5 793.0,826.9 794.0,828.1 795.0,828.9 796.0,830.9 797.0,831.6 798.0,832.4 799.0,832.7 800.0,833.4 801.0,833.7 802.0,835.2 803.0,836.1 804.0,836.6 805.0,836.8 806.0,836.8 807.0,837.6 808.0,838.0 809.0,838.6 810.0,838.9 811.0,838.8 812.0,839.1 813.0,839.6 814.0,839.7 815.0,839.7 816.0,839.1 817.0,839.8 818.0,840.6 819.0,840.4 820.0,840.8 821.0,840.4 822.0,840.7 823.0,841.0 824.0,841.1 825.0,841.0 826.0,841.3 827.0,841.4 828.0,841.5 829.0,840.3 830.0,840.8 831.0,840.8 832.0,840.7 833.0,840.1 834.0,841.2 835.0,840.1 836.0,840.4 837.0,839.2 838.0,839.6 839.0,839.4 840.0,838.7 841.0,838.9 842.0,839.0 843.0,837.2 844.0,836.5 845.0,836.9 846.0,835.8 847.0,834.8 848.0,833.8 849.0,834.0 850.0,833.3 851.0,833.4 852.0,832.1 853.0,832.2 854.0,832.0 855.0,832.0 856.0,832.6 857.0,832.7 858.0,832.4 859.0,832.9 860.0,833.2 861.0,834.0 862.0,833.9 863.0,833.8 864.0,834.3 865.0,834.6 866.0,835.1 867.0,835.3 868.0,835.3 869.0,834.9 870.0,834.4 871.0,834.6 872.0,834.1 873.0,833.6 874.0,833.7 875.0,833.4 876.0,833.2 877.0,832.1 878.0,831.3 879.0,831.7 880.0,830.7 881.0,830.9 882.0,829.6 883.0,829.2 884.0,828.1 885.0,829.0 886.0,827.4 887.0,826.8 888.0,825.9 889.0,825.3 890.0,824.9 891.0,823.8 892.0,822.9 893.0,822.4 894.0,820.5 895.0,820.4 896.0,819.5 897.0,817.2 898.0,816.6 899.0,814.7 900.0,812.9 901.0,811.9 902.0,810.9 903.0,809.2 904.0,807.0 905.0,804.8 906.0,802.8 907.0,800.4 908.0,797.9 909.0,794.5 910.0,792.3 911.0,789.1 912.0,786.4 913.0,781.9 914.0,777.3 915.0,772.7 916.0,767.7 917.0,761.6 918.0,754.9 919.0,748.6 920.0,741.4 921.0,733.4 922.0,724.2 923.0,714.6 924.0,704.4 925.0,693.3 926.0,681.5 927.0,668.4 928.0,655.2 929.0,640.6 930.0,627.0 931.0,612.4 932.0,597.9 933.0,585.2 934.0,573.5 935.0,563.2 936.0,556.5 937.0,551.6 938.0,550.6 939.0,552.0 940.0,557.6 941.0,565.7 942.0,575.6 943.0,587.8 944.0,601.0 945.0,615.5 946.0,629.7 947.0,644.2 948.0,657.9 949.0,670.8 950.0,683.4 951.0,695.6 952.0,707.0 953.0,718.0 954.0,726.9 955.0,735.1 956.0,742.5 957.0,750.8 958.0,757.3 959.0,762.9 960.0,769.3 961.0,774.0 962.0,778.5 963.0,782.1 964.0,787.1 965.0,790.2 966.0,793.3 967.0,796.0 968.0,798.9 969.0,802.1 970.0,804.1 971.0,806.8 972.0,808.4 973.0,810.0 974.0,811.9 975.0,813.2 976.0,814.1 977.0,815.8 978.0,817.4 979.0,818.2 980.0,819.5 981.0,820.3 982.0,822.5 983.0,822.3 984.0,823.4 985.0,824.3 986.0,825.9 987.0,826.7 988.0,826.9 989.0,828.0 990.0,828.2 991.0,829.2 992.0,830.8 993.0,830.8 994.0,831.0 995.0,831.0 996.0,832.0 997.0,832.1 998.0,832.2 999.0,833.8 1000.0,834.2 1001.0,834.5 1002.0,835.2 1003.0,834.6 1004.0,836.2 1005.0,835.6 1006.0,836.5 1007.0,836.9 1008.0,837.5 1009.0,838.1 1010.0,837.8 1011.0,837.8 1012.0,837.8 1013.0,838.6 1014.0,838.4 1015.0,838.5 1016.0,839.1 1017.0,839.6 1018.0,839.4 1019.0,839.1 1020.0,839.6 1021.0,838.9 1022.0,838.6 1023.0,839.4 1024.0,838.5 1025.0,838.5 1026.0,836.4 1027.0,836.5 1028.0,835.1 1029.0,835.2 1030.0,833.1 1031.0,832.2 1032.0,831.9 1033.0,831.4 1034.0,831.2 1035.0,832.0 1036.0,832.6 1037.0,833.7 1038.0,834.7 1039.0,835.5 1040.0,836.8 1041.0,838.6 1042.0,839.3 1043.0,841.4 1044.0,841.7 1045.0,842.2 1046.0,843.6 1047.0,843.8 1048.0,844.7 1049.0,844.7 1050.0,845.6 1051.0,845.0 1052.0,844.5 1053.0,845.0 1054.0,845.1 1055.0,846.1 1056.0,846.7 1057.0,846.0 1058.0,845.7 1059.0,846.6 1060.0,846.6 1061.0,846.4 1062.0,846.8 1063.0,846.8 1064.0,846.4 1065.0,847.2 1066.0,846.9 1067.0,846.8 1068.0,847.2 1069.0,847.9 1070.0,848.2 1071.0,848.0 1072.0,847.4 1073.0,847.3 1074.0,847.9 1075.0,847.8 1076.0,848.0 1077.0,847.6 1078.0,847.7 1079.0,847.7 1080.0,848.5 1081.0,848.7 1082.0,848.1 1083.0,848.7 1084.0,848.8 1085.0,848.3 1086.0,848.7 1087.0,849.0 1088.0,848.4 1089.0,849.3 1090.0,848.8 1091.0,849.0 1092.0,848.9 1093.0,848.5 1094.0,849.3 1095.0,849.2 1096.0,849.1 1097.0,849.3 1098.0,849.6 1099.0,849.4 1100.0,849.3 1101.0,849.6 1102.0,849.9 1103.0,849.7 1104.0,849.4 1105.0,850.1 1106.0,849.7 1107.0,850.1 1108.0,849.9 1109.0,849.7 1110.0,849.6 1111.0,849.8 1112.0,850.1 1113.0,849.4 1114.0,850.4 1115.0,850.7 1116.0,850.3 1117.0,850.0 1118.0,849.8 1119.0,850.6 1120.0,850.7 1121.0,850.6 1122.0,850.9 1123.0,850.4 1124.0,850.6 1125.0,850.9 1126.0,850.7 1127.0,851.1 1128.0,851.1 1129.0,850.9 1130.0,850.6 1131.0,850.8 1132.0,851.5 1133.0,850.7 1134.0,851.2 1135.0,850.8 1136.0,852.1 1137.0,851.1 1138.0,851.6 1139.0,851.0 1140.0,852.6 1141.0,850.9 1142.0,851.6 1143.0,851.1 1144.0,851.9 1145.0,851.1 1146.0,851.5 1147.0,851.1 1148.0,851.6 1149.0,851.8 1150.0,852.5 1151.0,851.0 1152.0,852.1 1153.0,851.9 1154.0,851.7 1155.0,851.9 1156.0,852.2 1157.0,852.0 1158.0,852.1 1159.0,851.8 1160.0,852.0 1161.0,852.4 1162.0,851.9 1163.0,852.0 1164.0,852.3 1165.0,852.4 1166.0,852.5 1167.0,852.3 1168.0,851.6 1169.0,852.7 1170.0,852.8 1171.0,852.9 1172.0,852.6 1173.0,852.9 1174.0,852.5 1175.0,852.2 1176.0,852.6 1177.0,852.6 1178.0,853.1 1179.0,853.0 1180.0,852.5 1181.0,852.6 1182.0,852.8 1183.0,852.8 1184.0,853.4 1185.0,852.7 1186.0,853.4 1187.0,852.4 1188.0,852.7 1189.0,853.6 1190.0,853.1 1191.0,853.1 1192.0,853.3 1193.0,853.0 1194.0,853.1 1195.0,853.2 1196.0,853.2 1197.0,853.3 1198.0,853.0 1199.0,853.3 1200.0,853.0 1201.0,853.5 1202.0,853.2 1203.0,853.4 1204.0,853.4 1205.0,853.0 1206.0,853.1 1207.0,853.3 1208.0,853.6 1209.0,853.8 1210.0,853.4 1211.0,853.2 1212.0,853.6 1213.0,853.5 1214.0,853.8 1215.0,854.0 1216.0,854.3 1217.0,852.9 1218.0,853.4 1219.0,853.6 1220.0,853.9 1221.0,853.9 1222.0,853.7 1223.0,853.9 1224.0,853.5 1225.0,853.5 1226.0,853.8 1227.0,853.3 1228.0,854.3 1229.0,853.4 1230.0,853.3 1231.0,853.9 1232.0,853.0 1233.0,853.6 1234.0,853.7 1235.0,854.3 1236.0,855.0 1237.0,853.9 1238.0,853.3 1239.0,853.9 1240.0,854.1 1241.0,853.5 1242.0,854.0 1243.0,854.5 1244.0,854.1 1245.0,853.6 1246.0,853.7 1247.0,853.3 1248.0,853.8 1249.0,853.7 1250.0,854.5 1251.0,853.4 1252.0,853.4 1253.0,854.0 1254.0,854.2 1255.0,853.8 1256.0,854.0 1257.0,854.2 1258.0,854.3 1259.0,854.1 1260.0,854.2 1261.0,853.4 1262.0,854.3 1263.0,854.1 1264.0,853.7 1265.0,853.9 1266.0,853.9 1267.0,853.8 1268.0,854.0 1269.0,853.9 1270.0,853.5 1271.0,854.9 1272.0,854.2 1273.0,854.9 1274.0,854.0 1275.0,854.7 1276.0,854.0 1277.0,854.7 1278.0,854.4 1279.0,854.4 1280.0,854.0 1281.0,854.2 1282.0,854.6 1283.0,853.4 1284.0,853.9 1285.0,853.6 1286.0,853.8 1287.0,854.4 1288.0,854.4 1289.0,854.1 1290.0,854.6 1291.0,853.9 1292.0,853.9 1293.0,854.2 1294.0,854.3 1295.0,854.1 1296.0,853.8 1297.0,854.4 1298.0,854.8 1299.0,854.0 1300.0,854.2 1301.0,853.8 1302.0,854.2 1303.0,853.8 1304.0,854.3 1305.0,854.8 1306.0,854.4 1307.0,853.9 1308.0,854.5 1309.0,853.6 1310.0,854.7 1311.0,854.3 1312.0,853.8 1313.0,854.1 1314.0,853.9 1315.0,855.0 1316.0,854.5 1317.0,853.9 1318.0,854.0 1319.0,854.3 1320.0,854.0 1321.0,854.3 1322.0,854.4 1323.0,853.7 1324.0,854.5 1325.0,854.9 1326.0,854.4 1327.0,854.5 1328.0,854.1 1329.0,854.1 1330.0,854.4 1331.0,854.0 1332.0,853.7 1333.0,854.6 1334.0,854.0 1335.0,854.4 1336.0,854.3 1337.0,854.5 1338.0,854.5 1339.0,854.5 1340.0,854.2 1341.0,854.6 1342.0,854.2 1343.0,854.5 1344.0,854.1 1345.0,854.4 1346.0,854.0 1347.0,854.9 1348.0,854.5 1349.0,854.1 1350.0,853.7 1351.0,854.1 1352.0,854.8 1353.0,854.1 1354.0,854.7 1355.0,854.3 1356.0,854.2 1357.0,854.0 1358.0,854.5 1359.0,854.7 1360.0,854.6 1361.0,854.6 1362.0,854.0 1363.0,854.4 1364.0,853.9 1365.0,854.0 1366.0,854.5 1367.0,854.0 1368.0,854.5 1369.0,854.2 1370.0,854.9 1371.0,854.3 1372.0,854.6 1373.0,854.7 1374.0,854.6 1375.0,854.6 1376.0,853.7 1377.0,854.7 1378.0,853.8 1379.0,854.1 1380.0,853.4 1381.0,854.2 1382.0,854.1 1383.0,854.3 1384.0,854.0 1385.0,854.3 1386.0,854.1 1387.0,854.3 1388.0,854.7 1389.0,853.6 1390.0,854.4 1391.0,854.3 1392.0,853.8 1393.0,854.2 1394.0,854.9 1395.0,854.5 1396.0,854.2 1397.0,854.7 1398.0,854.5 1399.0,853.9 1400.0,854.3 1401.0,854.4 1402.0,854.4 1403.0,854.5 1404.0,854.4 1405.0,854.4 1406.0,854.2 1407.0,854.3 1408.0,854.2 1409.0,854.6 1410.0,854.4 1411.0,854.2 1412.0,854.7 1413.0,855.3 1414.0,854.4 1415.0,854.9 1416.0,854.2 1417.0,854.5 1418.0,854.8 1419.0,854.9 1420.0,855.3 1421.0,854.3 1422.0,854.5 1423.0,855.0 1424.0,855.0 1425.0,854.1 1426.0,854.5 1427.0,854.9 1428.0,854.9 1429.0,854.1 1430.0,854.6 1431.0,853.6 1432.0,854.9 1433.0,855.1 1434.0,854.1 1435.0,854.4 1436.0,853.9 1437.0,854.3 1438.0,854.7 1439.0,854.7 1440.0,854.6 1441.0,854.0 1442.0,854.2 1443.0,855.2 1444.0,854.6 1445.0,854.3 1446.0,854.6 1447.0,854.3 1448.0,854.6 1449.0,854.2 1450.0,854.2 1451.0,853.9 1452.0,855.2 1453.0,854.8 1454.0,854.7 1455.0,854.8 1456.0,854.5 1457.0,854.1 1458.0,854.7 1459.0,854.8 1460.0,854.7 1461.0,854.4 1462.0,853.9 1463.0,854.8 1464.0,854.7 1465.0,854.5 1466.0,854.4 1467.0,854.5 1468.0,854.3 1469.0,853.9 1470.0,854.5 1471.0,854.3 1472.0,854.6 1473.0,854.4 1474.0,854.6 1475.0,854.1 1476.0,854.7 1477.0,855.3 1478.0,854.5 1479.0,854.7 1480.0,854.8 1481.0,854.6 1482.0,854.6 1483.0,853.9 1484.0,854.2 1485.0,855.1 1486.0,854.6 1487.0,854.6 1488.0,855.2 1489.0,853.9 1490.0,854.9 1491.0,854.8 1492.0,853.8 1493.0,854.3 1494.0,854.7 1495.0,854.2 1496.0,854.2 1497.0,854.7 1498.0,854.4 1499.0,854.6 1500.0,854.5 1501.0,854.6 1502.0,854.6 1503.0,855.4 1504.0,854.7 1505.0,854.2 1506.0,854.7 1507.0,854.6 1508.0,855.8 1509.0,854.0 1510.0,854.8 1511.0,854.6 1512.0,855.1 1513.0,854.1 1514.0,854.0 1515.0,854.6 1516.0,854.8 1517.0,854.7 1518.0,854.7 1519.0,854.5 1520.0,854.9 1521.0,854.6 1522.0,854.3 1523.0,855.1 1524.0,854.2 1525.0,853.9 1526.0,854.4 1527.0,854.4 1528.0,854.5 1529.0,854.4 1530.0,854.6 1531.0,854.4 1532.0,854.2 1533.0,855.0 1534.0,854.4 1535.0,854.9 1536.0,854.6 1537.0,854.7 1538.0,855.1 1539.0,853.8 1540.0,854.9 1541.0,854.5 1542.0,854.8 1543.0,854.3 1544.0,854.5 1545.0,854.4 1546.0,854.1 1547.0,854.5 1548.0,855.2 1549.0,855.0 1550.0,855.0 1551.0,854.4 1552.0,854.4 1553.0,854.3 1554.0,853.7 1555.0,854.4 1556.0,854.2 1557.0,854.8 1558.0,854.8 1559.0,854.6 1560.0,854.1 1561.0,854.2 1562.0,855.0 1563.0,854.6 1564.0,854.8 1565.0,854.3 1566.0,854.8 1567.0,854.3 1568.0,854.3 1569.0,854.5 1570.0,854.2 1571.0,854.0 1572.0,854.9 1573.0,854.7 1574.0,854.2 1575.0,854.4 1576.0,854.8 1577.0,854.2 1578.0,853.5 1579.0,855.3 1580.0,853.8 1581.0,854.2 1582.0,853.6 1583.0,853.6 1584.0,854.5 1585.0,853.9 1586.0,854.6 1587.0,854.3 1588.0,854.3 1589.0,854.6 1590.0,854.6 1591.0,854.9 1592.0,853.8 1593.0,854.1 1594.0,854.6 1595.0,854.6 1596.0,854.1 1597.0,853.9 1598.0,854.3 1599.0,853.2 1600.0,853.7 1601.0,854.7 1602.0,853.8 1603.0,855.1 1604.0,854.3 1605.0,854.4 1606.0,855.3 1607.0,854.6 1608.0,854.2 1609.0,854.1 1610.0,854.0 1611.0,853.5 1612.0,854.4 1613.0,854.2 1614.0,854.0 1615.0,854.6 1616.0,854.0 1617.0,853.5 1618.0,853.8 1619.0,854.2 1620.0,854.3 1621.0,854.9 1622.0,854.0 1623.0,854.3 1624.0,854.5 1625.0,854.3 1626.0,854.2 1627.0,853.6 1628.0,853.9 1629.0,854.9 1630.0,854.1 1631.0,854.0 1632.0,853.5 1633.0,854.1 1634.0,854.6 1635.0,853.7 1636.0,853.6 1637.0,853.9 1638.0,853.7 1639.0,853.6 1640.0,854.6 1641.0,854.1 1642.0,853.2 1643.0,853.7 1644.0,854.0 1645.0,853.5 1646.0,853.9 1647.0,853.1 1648.0,853.7 1649.0,853.5 1650.0,853.7 1651.0,853.4 1652.0,853.1 1653.0,853.4 1654.0,853.4 1655.0,853.4 1656.0,852.6 1657.0,852.9 1658.0,852.9 1659.0,852.8 1660.0,852.7 1661.0,852.8 1662.0,853.2 1663.0,853.3 1664.0,853.0 1665.0,852.7 1666.0,851.2 1667.0,852.1 1668.0,852.4 1669.0,851.8 1670.0,852.4 1671.0,851.7 1672.0,851.9 1673.0,851.5 1674.0,851.7 1675.0,850.9 1676.0,851.2 1677.0,850.9 1678.0,850.7 1679.0,850.3 1680.0,851.2 1681.0,850.2 1682.0,850.8 1683.0,850.3 1684.0,850.3 1685.0,850.0 1686.0,849.8 1687.0,849.2 1688.0,850.5 1689.0,849.7 1690.0,849.5 1691.0,848.1 1692.0,848.4 1693.0,848.2 1694.0,848.4 1695.0,847.8 1696.0,848.1 1697.0,847.7 1698.0,847.7 1699.0,847.6 1700.0,846.7 1701.0,846.5 1702.0,846.2 1703.0,846.6 1704.0,846.0 1705.0,845.6 1706.0,845.1 1707.0,845.4 1708.0,845.0 1709.0,844.8 1710.0,844.4 1711.0,843.7 1712.0,844.5 1713.0,843.8 1714.0,843.6 1715.0,843.0 1716.0,843.5 1717.0,842.4 1718.0,842.3 1719.0,841.9 1720.0,841.6 1721.0,842.1 1722.0,841.3 1723.0,840.9 1724.0,841.0 1725.0,840.7 1726.0,840.6 1727.0,840.1 1728.0,840.2 1729.0,839.3 1730.0,839.4 1731.0,839.8 1732.0,839.7 1733.0,838.5 1734.0,839.2 1735.0,838.8 1736.0,839.1 1737.0,838.2 1738.0,838.6 1739.0,838.6 1740.0,837.7 1741.0,837.9 1742.0,838.4 1743.0,837.9 1744.0,838.2 1745.0,837.9 1746.0,837.3 1747.0,837.8 1748.0,837.9 1749.0,837.6 1750.0,838.2 1751.0,837.4 1752.0,838.0 1753.0,838.0 1754.0,838.0 1755.0,837.9 1756.0,837.8 1757.0,838.3 1758.0,839.0 1759.0,839.1 1760.0,839.5 1761.0,839.7 1762.0,839.9 1763.0,840.5 1764.0,841.0 1765.0,840.5 1766.0,841.5 1767.0,841.1 1768.0,842.9 1769.0,842.1 1770.0,842.6 1771.0,843.5 1772.0,843.6 1773.0,844.2 1774.0,844.7 1775.0,844.5 1776.0,845.7 1777.0,845.0 1778.0,845.5 1779.0,846.3 1780.0,845.4 1781.0,846.4 1782.0,846.9 1783.0,847.6 1784.0,847.4 1785.0,848.3 1786.0,847.8 1787.0,848.9 1788.0,849.1 1789.0,848.9 1790.0,849.2 1791.0,849.5 1792.0,849.7 1793.0,849.9 1794.0,850.8 1795.0,850.7 1796.0,850.9 1797.0,850.4 1798.0,851.1 1799.0,851.8 1800.0,851.6 1801.0,851.5 1802.0,851.8 1803.0,852.3 1804.0,852.1 1805.0,851.5 1806.0,852.1 1807.0,852.6 1808.0,852.1 1809.0,852.8 1810.0,853.1 1811.0,853.8 1812.0,853.6 1813.0,853.3 1814.0,852.6 1815.0,853.4 1816.0,852.8 1817.0,853.1 1818.0,853.9 1819.0,853.3 1820.0,853.9 1821.0,853.8 1822.0,854.1 1823.0,853.7 1824.0,853.8 1825.0,854.5 1826.0,854.2 1827.0,854.1 1828.0,854.0 1829.0,854.2 1830.0,854.0 1831.0,854.3 1832.0,854.1 1833.0,853.5 1834.0,853.5 1835.0,853.9 1836.0,855.0 1837.0,854.7 1838.0,854.1 1839.0,854.0 1840.0,854.1 1841.0,854.2 1842.0,854.8 1843.0,854.1 1844.0,853.8 1845.0,854.2 1846.0,853.9 1847.0,854.9 1848.0,854.3 1849.0,854.4 1850.0,854.4 1851.0,853.7 1852.0,854.5 1853.0,854.6 1854.0,854.3 1855.0,854.6 1856.0,854.3 1857.0,854.4 1858.0,854.8 1859.0,854.3 1860.0,854.7 1861.0,854.5 1862.0,854.5 1863.0,854.3 1864.0,854.2 1865.0,854.5 1866.0,854.9 1867.0,854.6 1868.0,855.0 1869.0,854.5 1870.0,853.9 1871.0,854.9 1872.0,854.4 1873.0,854.9 1874.0,854.7 1875.0,854.7 1876.0,854.5 1877.0,853.2 1878.0,854.6 1879.0,854.3 1880.0,854.4 1881.0,854.4 1882.0,854.1 1883.0,854.2 1884.0,853.3 1885.0,853.8 1886.0,853.9 1887.0,853.8 1888.0,853.1 1889.0,852.6 1890.0,852.9 1891.0,853.0 1892.0,853.0 1893.0,853.3 1894.0,853.1 1895.0,852.2 1896.0,852.6 1897.0,852.0 1898.0,852.4 1899.0,851.7 1900.0,852.4 1901.0,851.6 1902.0,851.6 1903.0,851.4 1904.0,852.0 1905.0,851.7 1906.0,851.9 1907.0,852.0 1908.0,851.5 1909.0,852.5 1910.0,852.2 1911.0,852.1 1912.0,852.1 1913.0,852.1 1914.0,852.2 1915.0,852.9 1916.0,852.7 1917.0,852.8 1918.0,852.7 1919.0,853.1 1920.0,854.0 1921.0,853.5 1922.0,852.7 1923.0,852.7 1924.0,854.0 1925.0,853.3"/>
<polyline stroke="#990000" stroke-width="5.6" points="196.0,624.0 197.0,623.3 198.0,623.4 199.0,623.2 200.0,623.8 201.0,622.8 202.0,624.1 203.0,623.3 204.0,623.7 205.0,623.5 206.0,624.0 207.0,623.0 208.0,623.5 209.0,623.5 210.0,623.9 211.0,623.3 212.0,623.6 213.0,623.4 214.0,623.6 215.0,623.8 216.0,623.3 217.0,624.0 218.0,623.9 219.0,623.8 220.0,624.0 221.0,623.5 222.0,623.7 223.0,623.4 224.0,623.6 225.0,623.9 226.0,623.5 227.0,623.6 228.0,623.5 229.0,623.5 230.0,623.6 231.0,623.8 232.0,623.5 233.0,623.9 234.0,624.3 235.0,624.0 236.0,623.8 237.0,623.6 238.0,623.6 239.0,624.4 240.0,623.9 241.0,623.7 242.0,623.9 243.0,624.5 244.0,623.9 245.0,624.1 246.0,624.0 247.0,623.8 248.0,623.6 249.0,623.8 250.0,623.9 251.0,624.1 252.0,624.2 253.0,624.3 254.0,624.1 255.0,624.3 256.0,623.8 257.0,624.4 258.0,624.2 259.0,624.0 260.0,624.2 261.0,624.0 262.0,624.4 263.0,624.5 264.0,624.8 265.0,623.7 266.0,623.7 267.0,624.0 268.0,624.2 269.0,624.4 270.0,624.3 271.0,623.6 272.0,624.1 273.0,624.4 274.0,624.3 275.0,624.4 276.0,624.2 277.0,624.2 278.0,624.3 279.0,624.4 280.0,624.3 281.0,624.3 282.0,624.1 283.0,624.4 284.0,624.4 285.0,624.7 286.0,624.7 287.0,624.4 288.0,624.2 289.0,624.2 290.0,624.5 291.0,624.4 292.0,624.3 293.0,624.4 294.0,624.2 295.0,624.7 296.0,624.3 297.0,624.8 298.0,624.6 299.0,624.7 300.0,624.2 301.0,624.6 302.0,624.7 303.0,624.2 304.0,624.5 305.0,624.6 306.0,624.2 307.0,624.7 308.0,624.8 309.0,624.3 310.0,624.7 311.0,624.2 312.0,624.6 313.0,624.2 314.0,625.0 315.0,624.8 316.0,624.7 317.0,624.5 318.0,625.1 319.0,625.3 320.0,624.2 321.0,625.1 322.0,625.2 323.0,624.8 324.0,624.4 325.0,625.0 326.0,624.7 327.0,624.6 328.0,624.4 329.0,625.0 330.0,625.1 331.0,624.6 332.0,625.0 333.0,624.5 334.0,625.1 335.0,624.9 336.0,624.8 337.0,624.9 338.0,625.2 339.0,625.1 340.0,625.1 341.0,625.0 342.0,625.0 343.0,625.1 344.0,625.0 345.0,625.2 346.0,624.9 347.0,624.3 348.0,625.3 349.0,625.7 350.0,625.2 351.0,625.0 352.0,625.0 353.0,625.0 354.0,625.1 355.0,624.8 356.0,625.0 357.0,624.8 358.0,625.2 359.0,625.1 360.0,625.3 361.0,625.1 362.0,625.5 363.0,625.3 364.0,625.9 365.0,624.7 366.0,625.1 367.0,625.6 368.0,626.1 369.0,625.2 370.0,625.3 371.0,625.3 372.0,625.8 373.0,625.3 374.0,625.6 375.0,625.3 376.0,625.1 377.0,625.6 378.0,625.6 379.0,625.9 380.0,625.5 381.0,625.4 382.0,625.7 383.0,625.7 384.0,625.7 385.0,625.6 386.0,626.0 387.0,625.8 388.0,626.3 389.0,626.0 390.0,625.9 391.0,625.3 392.0,626.0 393.0,625.9 394.0,626.1 395.0,626.2 396.0,625.8 397.0,626.2 398.0,625.8 399.0,626.6 400.0,625.6 401.0,625.5 402.0,625.6 403.0,625.9 404.0,625.8 405.0,626.8 406.0,626.2 407.0,626.0 408.0,626.8 409.0,626.4 410.0,626.2 411.0,627.0 412.0,627.0 413.0,626.8 414.0,627.4 415.0,627.2 416.0,627.7 417.0,627.5 418.0,627.9 419.0,627.6 420.0,627.3 421.0,628.6 422.0,627.8 423.0,628.0 424.0,628.0 425.0,628.3 426.0,628.5 427.0,628.7 428.0,628.9 429.0,629.4 430.0,629.0 431.0,628.7 432.0,628.9 433.0,629.2 434.0,629.0 435.0,629.9 436.0,629.6 437.0,629.8 438.0,630.0 439.0,629.7 440.0,629.9 441.0,630.5 442.0,630.6 443.0,630.3 444.0,631.1 445.0,630.3 446.0,630.6 447.0,630.7 448.0,630.0 449.0,631.5 450.0,631.1 451.0,630.7 452.0,631.7 453.0,631.3 454.0,631.3 455.0,631.1 456.0,631.4 457.0,630.9 458.0,631.7 459.0,631.4 460.0,631.6 461.0,631.9 462.0,631.7 463.0,631.8 464.0,631.8 465.0,631.6 466.0,632.1 467.0,632.4 468.0,632.2 469.0,632.3 470.0,631.8 471.0,631.8 472.0,631.7 473.0,632.6 474.0,632.2 475.0,632.7 476.0,632.1 477.0,632.2 478.0,632.5 479.0,632.7 480.0,632.5 481.0,632.6 482.0,632.6 483.0,632.7 484.0,632.3 485.0,632.7 486.0,632.7 487.0,632.8 488.0,633.0 489.0,632.7 490.0,632.9 491.0,632.9 492.0,633.1 493.0,633.3 494.0,632.8 495.0,633.3 496.0,633.7 497.0,632.7 498.0,632.9 499.0,632.9 500.0,633.1 501.0,633.7 502.0,633.3 503.0,633.1 504.0,633.5 505.0,633.2 506.0,633.7 507.0,633.5 508.0,633.8 509.0,633.2 510.0,634.3 511.0,633.7 512.0,633.6 513.0,633.4 514.0,633.3 515.0,633.2 516.0,633.4 517.0,633.3 518.0,633.6 519.0,633.3 520.0,633.7 521.0,633.8 522.0,633.3 523.0,633.9 524.0,633.4 525.0,633.8 526.0,633.6 527.0,633.8 528.0,633.2 529.0,633.5 530.0,633.9 531.0,633.3 532.0,632.9 533.0,632.9 534.0,632.7 535.0,632.9 536.0,633.4 537.0,633.9 538.0,633.4 539.0,633.6 540.0,633.5 541.0,633.5 542.0,633.4 543.0,633.4 544.0,633.6 545.0,633.1 546.0,633.8 547.0,633.8 548.0,633.4 549.0,633.7 550.0,633.3 551.0,633.3 552.0,633.5 553.0,633.4 554.0,633.4 555.0,633.3 556.0,633.3 557.0,633.8 558.0,632.9 559.0,633.6 560.0,633.4 561.0,633.7 562.0,633.7 563.0,632.7 564.0,633.7 565.0,633.6 566.0,633.5 567.0,633.4 568.0,633.8 569.0,633.4 570.0,634.1 571.0,633.7 572.0,634.1 573.0,633.3 574.0,633.0 575.0,633.7 576.0,633.8 577.0,633.5 578.0,633.0 579.0,633.4 580.0,633.7 581.0,633.4 582.0,633.5 583.0,633.4 584.0,633.2 585.0,633.3 586.0,633.1 587.0,634.0 588.0,633.4 589.0,633.6 590.0,633.2 591.0,633.7 592.0,632.9 593.0,633.8 594.0,633.5 595.0,634.1 596.0,633.1 597.0,633.5 598.0,633.6 599.0,633.9 600.0,633.4 601.0,633.5 602.0,632.9 603.0,633.3 604.0,633.6 605.0,633.8 606.0,633.4 607.0,634.1 608.0,634.0 609.0,633.5 610.0,632.8 611.0,633.0 612.0,633.3 613.0,633.8 614.0,633.6 615.0,632.9 616.0,633.4 617.0,634.0 618.0,633.4 619.0,633.3 620.0,634.1 621.0,633.5 622.0,633.4 623.0,633.6 624.0,633.5 625.0,633.4 626.0,633.9 627.0,633.8 628.0,633.8 629.0,633.5 630.0,633.8 631.0,633.5 632.0,633.6 633.0,633.8 634.0,633.7 635.0,634.0 636.0,633.6 637.0,633.0 638.0,633.2 639.0,633.9 640.0,633.4 641.0,633.6 642.0,633.2 643.0,633.8 644.0,633.3 645.0,633.8 646.0,633.2 647.0,633.6 648.0,633.4 649.0,632.9 650.0,633.4 651.0,632.7 652.0,632.7 653.0,633.1 654.0,632.6 655.0,632.5 656.0,632.4 657.0,632.1 658.0,632.6 659.0,632.4 660.0,632.1 661.0,632.0 662.0,632.0 663.0,632.3 664.0,631.9 665.0,631.4 666.0,631.6 667.0,631.2 668.0,631.1 669.0,631.6 670.0,630.8 671.0,630.6 672.0,630.1 673.0,630.1 674.0,630.6 675.0,630.1 676.0,630.4 677.0,629.8 678.0,629.8 679.0,630.1 680.0,630.2 681.0,629.9 682.0,630.0 683.0,630.0 684.0,629.8 685.0,629.1 686.0,629.2 687.0,629.4 688.0,629.0 689.0,629.1 690.0,628.4 691.0,628.6 692.0,628.9 693.0,627.9 694.0,628.2 695.0,628.4 696.0,627.7 697.0,628.1 698.0,627.7 699.0,627.8 700.0,627.6 701.0,627.6 702.0,627.2 703.0,627.2 704.0,626.8 705.0,626.9 706.0,627.0 707.0,626.3 708.0,626.1 709.0,625.4 710.0,625.7 711.0,624.9 712.0,624.6 713.0,624.7 714.0,624.3 715.0,624.3 716.0,624.0 717.0,623.1 718.0,623.0 719.0,623.1 720.0,622.5 721.0,622.0 722.0,621.7 723.0,620.7 724.0,620.7 725.0,620.4 726.0,620.0 727.0,618.8 728.0,618.4 729.0,618.1 730.0,617.3 731.0,616.7 732.0,616.4 733.0,615.4 734.0,614.2 735.0,614.1 736.0,613.1 737.0,612.1 738.0,611.0 739.0,610.9 740.0,608.9 741.0,608.1 742.0,607.5 743.0,607.0 744.0,605.9 745.0,604.1 746.0,603.3 747.0,601.8 748.0,601.4 749.0,599.5 750.0,598.6 751.0,597.6 752.0,595.7 753.0,594.4 754.0,591.6 755.0,589.3 756.0,586.0 757.0,581.5 758.0,577.0 759.0,570.8 760.0,561.9 761.0,553.2 762.0,539.6 763.0,522.4 764.0,503.7 765.0,486.5 766.0,466.0 767.0,439.1 768.0,404.5 769.0,361.2 770.0,321.6 771.0,297.6 772.0,300.8 773.0,327.8 774.0,371.3 775.0,407.1 776.0,441.0 777.0,463.2 778.0,483.0 779.0,504.4 780.0,519.2 781.0,529.9 782.0,537.5 783.0,542.0 784.0,546.2 785.0,547.8 786.0,550.2 787.0,551.7 788.0,553.1 789.0,554.2 790.0,554.2 791.0,555.1 792.0,555.2 793.0,555.7 794.0,555.4 795.0,556.1 796.0,555.4 797.0,555.8 798.0,555.2 799.0,555.2 800.0,554.7 801.0,554.7 802.0,554.7 803.0,554.3 804.0,553.6 805.0,554.1 806.0,553.4 807.0,553.1 808.0,552.4 809.0,551.3 810.0,550.2 811.0,549.7 812.0,549.6 813.0,548.1 814.0,547.8 815.0,546.4 816.0,545.7 817.0,544.0 818.0,543.8 819.0,542.2 820.0,541.2 821.0,539.8 822.0,538.6 823.0,537.0 824.0,535.9 825.0,533.8 826.0,532.4 827.0,531.4 828.0,529.5 829.0,527.8 830.0,526.0 831.0,524.4 832.0,522.2 833.0,520.6 834.0,518.1 835.0,516.1 836.0,514.3 837.0,511.9 838.0,508.7 839.0,506.6 840.0,503.0 841.0,500.3 842.0,496.0 843.0,492.4 844.0,488.6 845.0,484.4 846.0,480.1 847.0,474.8 848.0,469.4 849.0,463.1 850.0,456.0 851.0,448.5 852.0,440.7 853.0,431.7 854.0,422.4 855.0,412.1 856.0,401.6 857.0,388.7 858.0,375.8 859.0,361.0 860.0,346.3 861.0,330.6 862.0,313.9 863.0,297.0 864.0,280.2 865.0,267.5 866.0,255.5 867.0,245.9 868.0,236.7 869.0,228.0 870.0,218.3 871.0,208.6 872.0,199.8 873.0,194.1 874.0,193.5 875.0,198.3 876.0,206.8 877.0,217.4 878.0,229.7 879.0,250.0 880.0,272.9 881.0,297.8 882.0,326.2 883.0,350.8 884.0,373.7 885.0,397.0 886.0,424.0 887.0,448.1 888.0,465.1 889.0,479.7 890.0,492.2 891.0,503.9 892.0,514.8 893.0,524.4 894.0,532.0 895.0,539.9 896.0,546.9 897.0,553.9 898.0,559.0 899.0,564.2 900.0,568.0 901.0,572.1 902.0,575.2 903.0,579.2 904.0,581.5 905.0,583.6 906.0,586.1 907.0,587.8 908.0,590.4 909.0,592.0 910.0,593.3 911.0,594.4 912.0,594.3 913.0,595.1 914.0,595.3 915.0,595.3 916.0,594.7 917.0,595.3 918.0,594.2 919.0,593.6 920.0,592.2 921.0,591.5 922.0,590.1 923.0,587.8 924.0,584.7 925.0,581.5 926.0,577.6 927.0,573.6 928.0,570.0 929.0,563.7 930.0,558.4 931.0,552.7 932.0,547.8 933.0,542.3 934.0,536.1 935.0,531.1 936.0,527.1 937.0,524.7 938.0,522.4 939.0,521.3 940.0,520.5 941.0,519.6 942.0,519.9 943.0,520.1 944.0,521.2 945.0,522.3 946.0,524.7 947.0,526.2 948.0,528.9 949.0,532.3 950.0,538.0 951.0,543.6 952.0,549.1 953.0,553.8 954.0,558.4 955.0,562.7 956.0,567.4 957.0,570.7 958.0,574.6 959.0,579.3 960.0,582.9 961.0,585.9 962.0,590.3 963.0,593.7 964.0,596.1 965.0,599.5 966.0,602.2 967.0,605.0 968.0,607.5 969.0,609.5 970.0,611.8 971.0,613.3 972.0,614.7 973.0,616.1 974.0,617.8 975.0,618.3 976.0,620.2 977.0,620.7 978.0,621.8 979.0,623.0 980.0,624.0 981.0,623.7 982.0,624.7 983.0,625.5 984.0,625.8 985.0,626.7 986.0,626.3 987.0,627.5 988.0,627.9 989.0,628.1 990.0,628.8 991.0,628.4 992.0,629.4 993.0,629.2 994.0,629.9 995.0,629.8 996.0,630.4 997.0,630.6 998.0,630.2 999.0,630.8 1000.0,631.0 1001.0,631.1 1002.0,631.1 1003.0,632.1 1004.0,631.8 1005.0,632.4 1006.0,631.9 1007.0,632.0 1008.0,632.5 1009.0,632.4 1010.0,633.4 1011.0,632.9 1012.0,633.3 1013.0,633.0 1014.0,633.0 1015.0,633.1 1016.0,633.2 1017.0,633.4 1018.0,633.1 1019.0,632.9 1020.0,632.8 1021.0,633.1 1022.0,633.3 1023.0,633.2 1024.0,633.1 1025.0,632.9 1026.0,633.1 1027.0,633.3 1028.0,633.1 1029.0,633.1 1030.0,633.0 1031.0,633.4 1032.0,633.0 1033.0,633.1 1034.0,633.2 1035.0,633.3 1036.0,633.5 1037.0,633.3 1038.0,633.2 1039.0,632.6 1040.0,633.2 1041.0,633.7 1042.0,632.8 1043.0,632.7 1044.0,633.0 1045.0,633.3 1046.0,633.2 1047.0,632.9 1048.0,633.0 1049.0,633.3 1050.0,633.2 1051.0,633.7 1052.0,633.3 1053.0,633.1 1054.0,633.2 1055.0,632.9 1056.0,632.7 1057.0,633.0 1058.0,633.1 1059.0,632.5 1060.0,632.8 1061.0,632.8 1062.0,633.0 1063.0,632.9 1064.0,633.1 1065.0,632.9 1066.0,633.2 1067.0,632.4 1068.0,633.4 1069.0,633.3 1070.0,632.9 1071.0,633.1 1072.0,633.0 1073.0,632.6 1074.0,632.9 1075.0,633.1 1076.0,632.9 1077.0,633.1 1078.0,632.8 1079.0,632.8 1080.0,632.5 1081.0,632.6 1082.0,632.6 1083.0,633.2 1084.0,632.8 1085.0,632.4 1086.0,632.8 1087.0,632.6 1088.0,631.7 1089.0,632.8 1090.0,632.2 1091.0,632.8 1092.0,632.3 1093.0,632.1 1094.0,632.7 1095.0,632.0 1096.0,632.3 1097.0,632.4 1098.0,632.4 1099.0,632.4 1100.0,632.0 1101.0,631.6 1102.0,632.3 1103.0,631.4 1104.0,632.0 1105.0,631.1 1106.0,631.5 1107.0,631.2 1108.0,630.4 1109.0,630.6 1110.0,630.5 1111.0,630.2 1112.0,629.6 1113.0,629.4 1114.0,628.8 1115.0,628.2 1116.0,628.4 1117.0,627.5 1118.0,627.6 1119.0,626.9 1120.0,625.9 1121.0,625.6 1122.0,625.0 1123.0,624.3 1124.0,624.0 1125.0,623.1 1126.0,623.0 1127.0,622.0 1128.0,620.7 1129.0,620.1 1130.0,619.1 1131.0,617.8 1132.0,617.6 1133.0,616.5 1134.0,615.4 1135.0,613.7 1136.0,612.9 1137.0,611.2 1138.0,610.2 1139.0,609.0 1140.0,607.1 1141.0,605.1 1142.0,603.8 1143.0,602.5 1144.0,601.0 1145.0,598.6 1146.0,597.2 1147.0,595.7 1148.0,594.1 1149.0,592.6 1150.0,590.4 1151.0,588.7 1152.0,587.1 1153.0,584.6 1154.0,581.8 1155.0,579.0 1156.0,575.8 1157.0,573.4 1158.0,570.9 1159.0,568.4 1160.0,566.5 1161.0,565.3 1162.0,563.9 1163.0,562.6 1164.0,562.0 1165.0,561.2 1166.0,562.0 1167.0,563.2 1168.0,564.8 1169.0,566.6 1170.0,570.6 1171.0,574.4 1172.0,578.0 1173.0,582.7 1174.0,587.0 1175.0,590.8 1176.0,594.9 1177.0,597.9 1178.0,601.6 1179.0,604.7 1180.0,607.6 1181.0,610.6 1182.0,613.8 1183.0,616.8 1184.0,618.7 1185.0,620.5 1186.0,622.3 1187.0,623.6 1188.0,625.0 1189.0,626.3 1190.0,627.5 1191.0,628.0 1192.0,628.3 1193.0,629.8 1194.0,630.7 1195.0,631.4 1196.0,632.1 1197.0,632.2 1198.0,633.7 1199.0,634.1 1200.0,634.3 1201.0,635.0 1202.0,635.5 1203.0,636.3 1204.0,636.7 1205.0,637.3 1206.0,637.3 1207.0,637.0 1208.0,637.3 1209.0,638.3 1210.0,638.6 1211.0,638.3 1212.0,638.8 1213.0,638.3 1214.0,638.4 1215.0,638.8 1216.0,639.2 1217.0,639.3 1218.0,639.5 1219.0,639.6 1220.0,640.1 1221.0,640.4 1222.0,640.1 1223.0,640.9 1224.0,640.2 1225.0,640.3 1226.0,640.7 1227.0,640.6 1228.0,641.2 1229.0,640.7 1230.0,641.4 1231.0,641.2 1232.0,642.0 1233.0,641.2 1234.0,641.3 1235.0,641.5 1236.0,640.9 1237.0,641.8 1238.0,641.9 1239.0,641.9 1240.0,641.5 1241.0,641.6 1242.0,642.3 1243.0,642.6 1244.0,642.8 1245.0,642.2 1246.0,642.2 1247.0,642.5 1248.0,642.1 1249.0,642.6 1250.0,643.2 1251.0,643.5 1252.0,643.2 1253.0,643.7 1254.0,643.4 1255.0,643.4 1256.0,643.4 1257.0,643.6 1258.0,643.5 1259.0,643.6 1260.0,643.6 1261.0,643.9 1262.0,643.9 1263.0,643.5 1264.0,643.9 1265.0,643.8 1266.0,643.5 1267.0,644.3 1268.0,644.6 1269.0,644.9 1270.0,644.7 1271.0,644.0 1272.0,644.6 1273.0,644.6 1274.0,643.7 1275.0,644.6 1276.0,644.5 1277.0,644.4 1278.0,644.5 1279.0,644.4 1280.0,644.9 1281.0,644.3 1282.0,644.4 1283.0,644.5 1284.0,644.6 1285.0,644.0 1286.0,644.9 1287.0,644.6 1288.0,644.7 1289.0,644.6 1290.0,644.5 1291.0,644.5 1292.0,644.6 1293.0,644.6 1294.0,644.9 1295.0,644.7 1296.0,644.6 1297.0,645.2 1298.0,644.2 1299.0,644.2 1300.0,644.7 1301.0,644.5 1302.0,644.1 1303.0,644.5 1304.0,644.4 1305.0,644.9 1306.0,644.4 1307.0,644.9 1308.0,644.7 1309.0,644.5 1310.0,644.6 1311.0,644.7 1312.0,643.9 1313.0,644.7 1314.0,644.5 1315.0,645.1 1316.0,644.4 1317.0,644.9 1318.0,643.8 1319.0,644.8 1320.0,644.7 1321.0,644.5 1322.0,644.6 1323.0,644.5 1324.0,644.7 1325.0,644.6 1326.0,644.1 1327.0,644.5 1328.0,645.3 1329.0,644.6 1330.0,644.7 1331.0,644.5 1332.0,644.7 1333.0,644.7 1334.0,644.5 1335.0,644.9 1336.0,644.3 1337.0,644.6 1338.0,644.8 1339.0,644.5 1340.0,644.2 1341.0,644.8 1342.0,644.3 1343.0,644.5 1344.0,644.4 1345.0,644.6 1346.0,644.5 1347.0,644.5 1348.0,644.8 1349.0,645.1 1350.0,644.5 1351.0,644.8 1352.0,644.5 1353.0,644.6 1354.0,644.9 1355.0,644.6 1356.0,644.4 1357.0,644.4 1358.0,644.4 1359.0,644.6 1360.0,644.9 1361.0,644.2 1362.0,644.3 1363.0,644.3 1364.0,644.1 1365.0,645.0 1366.0,644.6 1367.0,645.2 1368.0,644.2 1369.0,645.0 1370.0,644.4 1371.0,644.5 1372.0,644.3 1373.0,644.3 1374.0,644.2 1375.0,644.7 1376.0,644.2 1377.0,644.5 1378.0,644.6 1379.0,644.8 1380.0,644.6 1381.0,644.7 1382.0,644.7 1383.0,644.6 1384.0,644.7 1385.0,644.3 1386.0,644.4 1387.0,645.2 1388.0,644.6 1389.0,644.4 1390.0,645.0 1391.0,644.5 1392.0,644.4 1393.0,644.2 1394.0,644.8 1395.0,644.3 1396.0,644.4 1397.0,644.8 1398.0,644.6 1399.0,644.6 1400.0,644.5 1401.0,644.9 1402.0,645.3 1403.0,644.4 1404.0,644.8 1405.0,645.2 1406.0,644.9 1407.0,644.4 1408.0,644.5 1409.0,644.4 1410.0,644.3 1411.0,644.4 1412.0,644.7 1413.0,644.4 1414.0,644.9 1415.0,644.6 1416.0,644.5 1417.0,644.9 1418.0,644.7 1419.0,644.7 1420.0,644.9 1421.0,644.8 1422.0,644.6 1423.0,644.9 1424.0,644.7 1425.0,645.5 1426.0,644.9 1427.0,644.9 1428.0,645.0 1429.0,644.6 1430.0,645.0 1431.0,644.6 1432.0,644.3 1433.0,644.4 1434.0,644.7 1435.0,644.1 1436.0,644.6 1437.0,644.4 1438.0,644.8 1439.0,644.4 1440.0,645.1 1441.0,644.8 1442.0,644.2 1443.0,645.1 1444.0,644.5 1445.0,644.4 1446.0,644.3 1447.0,644.8 1448.0,645.0 1449.0,644.4 1450.0,644.3 1451.0,644.2 1452.0,645.0 1453.0,645.1 1454.0,644.5 1455.0,644.7 1456.0,644.6 1457.0,644.6 1458.0,644.9 1459.0,644.7 1460.0,644.7 1461.0,644.5 1462.0,644.8 1463.0,644.5 1464.0,644.6 1465.0,644.6 1466.0,644.2 1467.0,644.5 1468.0,644.5 1469.0,644.6 1470.0,644.2 1471.0,644.2 1472.0,645.1 1473.0,644.9 1474.0,644.8 1475.0,645.1 1476.0,644.7 1477.0,644.5 1478.0,644.7 1479.0,644.0 1480.0,644.2 1481.0,644.8 1482.0,644.6 1483.0,644.2 1484.0,644.8 1485.0,644.9 1486.0,644.8 1487.0,644.6 1488.0,644.3 1489.0,644.6 1490.0,644.7 1491.0,644.5 1492.0,644.7 1493.0,644.7 1494.0,644.7 1495.0,643.9 1496.0,644.9 1497.0,645.1 1498.0,644.4 1499.0,644.1 1500.0,644.7 1501.0,644.4 1502.0,644.3 1503.0,644.9 1504.0,644.1 1505.0,644.8 1506.0,644.2 1507.0,645.0 1508.0,644.7 1509.0,644.5 1510.0,644.6 1511.0,644.7 1512.0,644.8 1513.0,644.8 1514.0,644.7 1515.0,644.4 1516.0,644.7 1517.0,644.2 1518.0,644.8 1519.0,644.8 1520.0,645.0 1521.0,644.4 1522.0,644.6 1523.0,644.8 1524.0,644.6 1525.0,644.4 1526.0,644.6 1527.0,644.6 1528.0,644.8 1529.0,644.3 1530.0,644.6 1531.0,644.6 1532.0,644.8 1533.0,644.5 1534.0,644.6 1535.0,644.5 1536.0,644.5 1537.0,644.5 1538.0,644.4 1539.0,645.4 1540.0,644.3 1541.0,644.2 1542.0,644.3 1543.0,644.3 1544.0,644.5 1545.0,645.0 1546.0,645.0 1547.0,644.6 1548.0,643.8 1549.0,644.6 1550.0,644.1 1551.0,644.4 1552.0,644.2 1553.0,644.6 1554.0,644.3 1555.0,644.7 1556.0,644.7 1557.0,644.4 1558.0,644.5 1559.0,644.8 1560.0,644.4 1561.0,644.8 1562.0,644.5 1563.0,644.6 1564.0,644.7 1565.0,644.9 1566.0,644.7 1567.0,644.5 1568.0,644.7 1569.0,644.0 1570.0,645.0 1571.0,644.1 1572.0,644.8 1573.0,644.3 1574.0,644.6 1575.0,644.5 1576.0,644.6 1577.0,644.3 1578.0,643.8 1579.0,644.6 1580.0,644.3 1581.0,644.3 1582.0,644.3 1583.0,645.1 1584.0,644.3 1585.0,644.6 1586.0,644.1 1587.0,644.9 1588.0,644.3 1589.0,643.7 1590.0,645.3 1591.0,644.1 1592.0,644.9 1593.0,644.7 1594.0,644.7 1595.0,644.4 1596.0,644.5 1597.0,644.8 1598.0,644.4 1599.0,644.5 1600.0,644.7 1601.0,644.5 1602.0,644.3 1603.0,644.9 1604.0,644.6 1605.0,644.4 1606.0,644.2 1607.0,644.2 1608.0,644.7 1609.0,644.7 1610.0,643.8 1611.0,644.3 1612.0,644.7 1613.0,645.2 1614.0,645.1 1615.0,644.7 1616.0,644.9 1617.0,644.3 1618.0,644.7 1619.0,644.1 1620.0,644.3 1621.0,644.5 1622.0,645.1 1623.0,644.7 1624.0,644.5 1625.0,644.4 1626.0,644.0 1627.0,644.6 1628.0,644.3 1629.0,644.5 1630.0,644.2 1631.0,644.5 1632.0,644.0 1633.0,644.6 1634.0,644.8 1635.0,644.7 1636.0,645.1 1637.0,644.5 1638.0,644.6 1639.0,644.6 1640.0,644.2 1641.0,645.1 1642.0,644.7 1643.0,644.3 1644.0,644.1 1645.0,644.6 1646.0,644.7 1647.0,644.4 1648.0,644.5 1649.0,644.3 1650.0,644.4 1651.0,644.8 1652.0,644.8 1653.0,643.9 1654.0,644.3 1655.0,643.9 1656.0,643.8 1657.0,644.3 1658.0,643.8 1659.0,643.0 1660.0,644.1 1661.0,644.2 1662.0,644.3 1663.0,643.5 1664.0,643.9 1665.0,642.6 1666.0,642.9 1667.0,643.3 1668.0,643.1 1669.0,643.2 1670.0,643.0 1671.0,642.6 1672.0,642.9 1673.0,642.5 1674.0,642.7 1675.0,641.8 1676.0,642.0 1677.0,641.6 1678.0,641.8 1679.0,641.4 1680.0,641.2 1681.0,640.8 1682.0,641.1 1683.0,641.3 1684.0,641.1 1685.0,639.8 1686.0,640.0 1687.0,641.0 1688.0,640.2 1689.0,640.1 1690.0,640.3 1691.0,639.9 1692.0,639.5 1693.0,639.5 1694.0,640.0 1695.0,638.8 1696.0,639.5 1697.0,638.8 1698.0,638.7 1699.0,639.2 1700.0,638.3 1701.0,638.5 1702.0,638.0 1703.0,637.5 1704.0,637.7 1705.0,638.0 1706.0,637.4 1707.0,637.4 1708.0,637.1 1709.0,636.9 1710.0,636.6 1711.0,636.6 1712.0,635.7 1713.0,636.0 1714.0,635.4 1715.0,635.8 1716.0,635.6 1717.0,635.1 1718.0,635.4 1719.0,635.0 1720.0,634.8 1721.0,634.4 1722.0,634.4 1723.0,634.4 1724.0,633.6 1725.0,633.3 1726.0,633.6 1727.0,632.3 1728.0,631.9 1729.0,631.9 1730.0,632.2 1731.0,631.9 1732.0,631.7 1733.0,631.2 1734.0,631.4 1735.0,631.1 1736.0,630.6 1737.0,629.6 1738.0,629.8 1739.0,629.1 1740.0,628.9 1741.0,628.4 1742.0,628.4 1743.0,628.3 1744.0,627.9 1745.0,627.2 1746.0,626.9 1747.0,626.8 1748.0,626.6 1749.0,626.8 1750.0,626.2 1751.0,625.9 1752.0,625.7 1753.0,625.7 1754.0,625.6 1755.0,625.0 1756.0,624.5 1757.0,624.7 1758.0,624.2 1759.0,623.7 1760.0,623.9 1761.0,623.5 1762.0,622.8 1763.0,623.3 1764.0,623.1 1765.0,622.4 1766.0,622.4 1767.0,623.1 1768.0,623.4 1769.0,623.5 1770.0,623.0 1771.0,623.5 1772.0,624.0 1773.0,623.6 1774.0,624.4 1775.0,624.7 1776.0,625.2 1777.0,624.4 1778.0,625.5 1779.0,626.4 1780.0,625.9 1781.0,626.5 1782.0,627.3 1783.0,627.4 1784.0,628.6 1785.0,629.0 1786.0,629.0 1787.0,630.2 1788.0,630.4 1789.0,631.8 1790.0,631.7 1791.0,632.3 1792.0,633.1 1793.0,633.7 1794.0,634.8 1795.0,634.8 1796.0,635.4 1797.0,636.0 1798.0,635.9 1799.0,636.4 1800.0,636.7 1801.0,637.6 1802.0,638.3 1803.0,638.2 1804.0,638.3 1805.0,638.6 1806.0,638.7 1807.0,639.5 1808.0,639.1 1809.0,639.5 1810.0,639.3 1811.0,639.1 1812.0,639.0 1813.0,639.5 1814.0,639.9 1815.0,639.8 1816.0,639.8 1817.0,639.6 1818.0,639.7 1819.0,639.7 1820.0,640.1 1821.0,640.7 1822.0,640.1 1823.0,639.7 1824.0,640.5 1825.0,639.9 1826.0,640.4 1827.0,640.1 1828.0,640.3 1829.0,641.3 1830.0,640.0 1831.0,640.1 1832.0,640.4 1833.0,640.3 1834.0,640.2 1835.0,640.1 1836.0,640.5 1837.0,640.6 1838.0,640.0 1839.0,640.0 1840.0,640.8 1841.0,639.9 1842.0,640.5 1843.0,640.4 1844.0,639.9 1845.0,640.5 1846.0,639.9 1847.0,639.9 1848.0,639.8 1849.0,640.5 1850.0,640.1 1851.0,640.5 1852.0,640.0 1853.0,640.4 1854.0,640.6 1855.0,640.1 1856.0,639.8 1857.0,640.0 1858.0,640.5 1859.0,640.3 1860.0,640.0 1861.0,639.5 1862.0,640.3 1863.0,640.5 1864.0,640.5 1865.0,640.1 1866.0,639.9 1867.0,639.7 1868.0,639.7 1869.0,639.4 1870.0,640.5 1871.0,639.8 1872.0,640.5 1873.0,639.7 1874.0,639.2 1875.0,640.2 1876.0,639.4 1877.0,639.5 1878.0,640.1 1879.0,640.0 1880.0,638.9 1881.0,639.5 1882.0,639.1 1883.0,639.5 1884.0,639.9 1885.0,639.1 1886.0,639.7 1887.0,638.9 1888.0,639.8 1889.0,638.9 1890.0,638.9 1891.0,639.1 1892.0,638.5 1893.0,639.4 1894.0,638.5 1895.0,639.0 1896.0,638.3 1897.0,638.7 1898.0,638.6 1899.0,638.4 1900.0,638.6 1901.0,638.1 1902.0,638.8 1903.0,638.4 1904.0,637.4 1905.0,638.8 1906.0,638.2 1907.0,638.5 1908.0,637.9 1909.0,637.2 1910.0,637.7 1911.0,637.4 1912.0,637.7 1913.0,637.4 1914.0,637.6 1915.0,636.9 1916.0,637.4 1917.0,637.1 1918.0,637.4 1919.0,636.6 1920.0,636.9 1921.0,637.4 1922.0,636.5 1923.0,637.0 1924.0,637.0 1925.0,636.5"/>
</g>
<g stroke="#000" fill="none">
<line x1="769.0" y1="181.1" x2="769.0" y2="1277" stroke-width="4.2" stroke-linecap="round" stroke-dasharray="14.60 17.23"/>
<line x1="875.0" y1="177.1" x2="875.0" y2="1273" stroke-width="4.2" stroke-linecap="round" stroke-dasharray="14.60 17.23"/>
<line x1="1036.5" y1="178.0" x2="1036.5" y2="1277" stroke-width="3.1" stroke-dasharray="18.8 13.03"/>
<line x1="1166.0" y1="183.3" x2="1166.0" y2="1280" stroke-width="4.0" stroke-linecap="round" stroke-dasharray="14.80 17.03"/>
</g>
<g fill="#000">
<rect x="194" y="25" width="5" height="1286"/>
<rect x="194" y="25" width="1735" height="5"/>
<rect x="1923" y="25" width="6" height="1286"/>
<rect x="194" y="1293" width="1735" height="5"/>
<rect x="410.0" y="1295" width="5" height="28"/>
<rect x="842.7" y="1295" width="5" height="28"/>
<rect x="1275.3" y="1295" width="5" height="28"/>
<rect x="1708.0" y="1295" width="5" height="28"/>
<rect x="626.3" y="1295" width="5" height="16"/>
<rect x="1059.0" y="1295" width="5" height="16"/>
<rect x="1491.7" y="1295" width="5" height="16"/>
</g>
<g font-family="'Liberation Sans', Arial, sans-serif">
<text x="363.25" y="1409.10" font-size="92.00" letter-spacing="-4.120" fill="#000">30</text>
<text x="793.93" y="1409.10" font-size="92.00" letter-spacing="-2.100" fill="#000">40</text>
<text x="1227.32" y="1409.10" font-size="92.00" letter-spacing="-3.490" fill="#000">50</text>
<text x="1658.60" y="1409.10" font-size="92.00" letter-spacing="-1.670" fill="#000">60</text>
<text fill="#000"><tspan x="943.00" y="1515.00" font-size="110.00" letter-spacing="-2.300" font-style="normal">2θ</tspan><tspan x="1062.24" y="1514.00" font-size="105.00" letter-spacing="0.000" font-style="normal">(</tspan><tspan x="1099.57" y="1513.60" font-size="97.50" letter-spacing="0.000" font-style="normal" font-family="'Liberation Serif', serif">°</tspan><tspan x="1142.81" y="1514.00" font-size="105.00" letter-spacing="0.000" font-style="normal">)</tspan></text>
<text transform="translate(104.3 778.2) rotate(-90)" x="-10.04" y="0" font-size="108.5" letter-spacing="-0.507" fill="#000">I (a.u.)</text>
<text x="729.31" y="79.40" font-size="47.50" letter-spacing="1.781" font-weight="bold" fill="#000">Au</text>
<text x="701.37" y="158.00" font-size="46.70" letter-spacing="3.045" font-weight="bold" fill="#000">(111)</text>
<text x="877.99" y="75.80" font-size="47.50" letter-spacing="1.012" font-weight="bold" fill="#000">Ir</text>
<text x="835.87" y="154.20" font-size="46.70" letter-spacing="2.820" font-weight="bold" fill="#000">(111)</text>
<text x="1005.31" y="76.40" font-size="47.50" letter-spacing="1.781" font-weight="bold" fill="#000">Au</text>
<text x="978.06" y="154.20" font-size="46.70" letter-spacing="1.556" font-weight="bold" fill="#000">(200)</text>
<text x="1161.49" y="79.40" font-size="47.50" letter-spacing="4.012" font-weight="bold" fill="#000">Ir</text>
<text x="1121.37" y="158.00" font-size="46.70" letter-spacing="1.381" font-weight="bold" fill="#000">(200)</text>
<text x="1384.35" y="608.30" font-size="71.90" letter-spacing="-1.663" font-weight="bold" fill="#990000">Ir/Au/TiNi</text>
<text x="1394.28" y="821.70" font-size="69.00" letter-spacing="-0.173" font-weight="bold" fill="#000080">Au/TiNi</text>
<text x="1386.82" y="920.80" font-size="69.30" letter-spacing="-0.530" font-weight="bold" fill="#008000">Ir/Ir'/TiNi</text>
<text x="1402.84" y="1026.00" font-size="69.00" letter-spacing="-0.348" font-weight="bold" fill="#ff00ff">Ir'/TiNi</text>
<text x="1310.08" y="1108.50" font-size="61.60" letter-spacing="0.114" font-weight="bold" fill="#000000">TiNi substrate</text>
<text fill="#0000ff" font-weight="bold"><tspan x="1185.46" y="1176.40" font-size="62.80" letter-spacing="-0.272" font-style="normal">FCC-Ir:</tspan> <tspan x="1414.96" y="1176.40" font-size="53.50" letter-spacing="-1.466" font-style="italic">PDF 010-87-0715</tspan></text>
<text fill="#ff0000" font-weight="bold"><tspan x="1212.40" y="1233.80" font-size="62.20" letter-spacing="-0.036" font-style="normal">FCC-Au:</tspan> <tspan x="1484.08" y="1233.80" font-size="52.80" letter-spacing="-1.079" font-style="italic">PDF 010-75-6560</tspan></text>
</g>
</svg>
</body>
</html>
